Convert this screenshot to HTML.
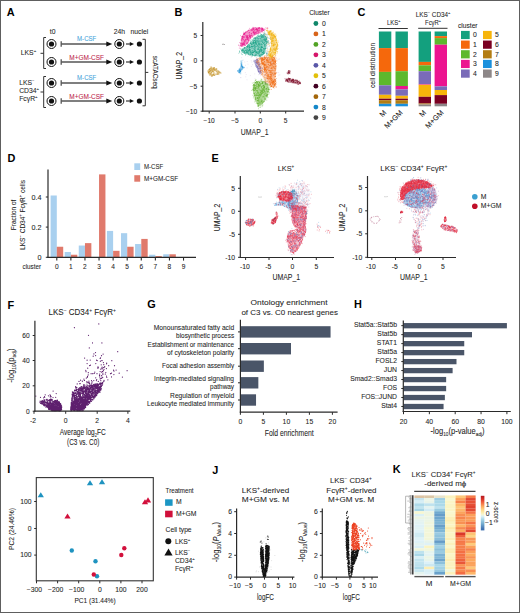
<!DOCTYPE html>
<html><head><meta charset="utf-8"><style>
html,body{margin:0;padding:0;background:#fff;}
svg{display:block;font-family:"Liberation Sans", sans-serif;}
</style></head><body>
<svg width="520" height="613" viewBox="0 0 520 613">
<rect x="0" y="0" width="520" height="613" fill="#fff"/>
<text x="6.8" y="16.3" font-size="10.9" text-anchor="start" fill="#000" font-weight="bold">A</text>
<text x="52.7" y="33.6" font-size="6.8" text-anchor="middle" fill="#1e1e1e" stroke="#1e1e1e" stroke-width="0.07">t0</text>
<text x="119.3" y="33.6" font-size="6.8" text-anchor="middle" fill="#1e1e1e" stroke="#1e1e1e" stroke-width="0.07">24h</text>
<text x="139.4" y="33.6" font-size="6.8" text-anchor="middle" fill="#1e1e1e" stroke="#1e1e1e" stroke-width="0.07">nuclei</text>
<circle cx="51.5" cy="44" r="4.5" fill="none" stroke="#111" stroke-width="1"/>
<circle cx="51.5" cy="44" r="2.6" fill="#111"/>
<circle cx="119.3" cy="44" r="4.5" fill="none" stroke="#111" stroke-width="1"/>
<circle cx="119.3" cy="44" r="2.6" fill="#111"/>
<circle cx="139.4" cy="44" r="2.6" fill="#111"/>
<line x1="61.2" y1="41.2" x2="61.2" y2="46.8" stroke="#555" stroke-width="1.3"/>
<line x1="61.2" y1="44" x2="107.5" y2="44" stroke="#555" stroke-width="1.4"/>
<path d="M106.3 41.4 L112.3 44 L106.3 46.6Z" fill="#111"/>
<line x1="126" y1="44" x2="130.5" y2="44" stroke="#333" stroke-width="1.2"/>
<path d="M129.8 42 L134 44 L129.8 46Z" fill="#111"/>
<text x="86.7" y="41.2" font-size="6.6" text-anchor="middle" fill="#48a6dc" stroke="#48a6dc" stroke-width="0.07" textLength="19.3" lengthAdjust="spacingAndGlyphs">M-CSF</text>
<circle cx="51.5" cy="62" r="4.5" fill="none" stroke="#111" stroke-width="1"/>
<circle cx="51.5" cy="62" r="2.6" fill="#111"/>
<circle cx="119.3" cy="62" r="4.5" fill="none" stroke="#111" stroke-width="1"/>
<circle cx="119.3" cy="62" r="2.6" fill="#111"/>
<circle cx="139.4" cy="62" r="2.6" fill="#111"/>
<line x1="61.2" y1="59.2" x2="61.2" y2="64.8" stroke="#555" stroke-width="1.3"/>
<line x1="61.2" y1="62" x2="107.5" y2="62" stroke="#555" stroke-width="1.4"/>
<path d="M106.3 59.4 L112.3 62 L106.3 64.6Z" fill="#111"/>
<line x1="126" y1="62" x2="130.5" y2="62" stroke="#333" stroke-width="1.2"/>
<path d="M129.8 60 L134 62 L129.8 64Z" fill="#111"/>
<text x="86.7" y="59.5" font-size="6.6" text-anchor="middle" fill="#be1f4c" stroke="#be1f4c" stroke-width="0.07" textLength="34.7" lengthAdjust="spacingAndGlyphs">M+GM-CSF</text>
<circle cx="51.5" cy="83" r="4.5" fill="none" stroke="#111" stroke-width="1"/>
<circle cx="51.5" cy="83" r="2.6" fill="#111"/>
<circle cx="119.3" cy="83" r="4.5" fill="none" stroke="#111" stroke-width="1"/>
<circle cx="119.3" cy="83" r="2.6" fill="#111"/>
<circle cx="139.4" cy="83" r="2.6" fill="#111"/>
<line x1="61.2" y1="80.2" x2="61.2" y2="85.8" stroke="#555" stroke-width="1.3"/>
<line x1="61.2" y1="83" x2="107.5" y2="83" stroke="#555" stroke-width="1.4"/>
<path d="M106.3 80.4 L112.3 83 L106.3 85.6Z" fill="#111"/>
<line x1="126" y1="83" x2="130.5" y2="83" stroke="#333" stroke-width="1.2"/>
<path d="M129.8 81 L134 83 L129.8 85Z" fill="#111"/>
<text x="86.7" y="80.2" font-size="6.6" text-anchor="middle" fill="#48a6dc" stroke="#48a6dc" stroke-width="0.07" textLength="19.3" lengthAdjust="spacingAndGlyphs">M-CSF</text>
<circle cx="51.5" cy="101" r="4.5" fill="none" stroke="#111" stroke-width="1"/>
<circle cx="51.5" cy="101" r="2.6" fill="#111"/>
<circle cx="119.3" cy="101" r="4.5" fill="none" stroke="#111" stroke-width="1"/>
<circle cx="119.3" cy="101" r="2.6" fill="#111"/>
<circle cx="139.4" cy="101" r="2.6" fill="#111"/>
<line x1="61.2" y1="98.2" x2="61.2" y2="103.8" stroke="#555" stroke-width="1.3"/>
<line x1="61.2" y1="101" x2="107.5" y2="101" stroke="#555" stroke-width="1.4"/>
<path d="M106.3 98.4 L112.3 101 L106.3 103.6Z" fill="#111"/>
<line x1="126" y1="101" x2="130.5" y2="101" stroke="#333" stroke-width="1.2"/>
<path d="M129.8 99 L134 101 L129.8 103Z" fill="#111"/>
<text x="86.7" y="98.5" font-size="6.6" text-anchor="middle" fill="#be1f4c" stroke="#be1f4c" stroke-width="0.07" textLength="34.7" lengthAdjust="spacingAndGlyphs">M+GM-CSF</text>
<path d="M46 37.5 H43.7 V68.5 H46" fill="none" stroke="#333" stroke-width="1"/>
<line x1="40.5" y1="53.3" x2="43.7" y2="53.3" stroke="#333" stroke-width="1"/>
<path d="M46 76.5 H43.7 V107.5 H46" fill="none" stroke="#333" stroke-width="1"/>
<line x1="40.5" y1="92" x2="43.7" y2="92" stroke="#333" stroke-width="1"/>
<path d="M142.5 39.3 H145.3 V105.8 H142.5" fill="none" stroke="#333" stroke-width="1"/>
<line x1="145.3" y1="72.4" x2="148.3" y2="72.4" stroke="#333" stroke-width="1"/>
<text x="153" y="72.2" font-size="6.6" text-anchor="middle" fill="#1e1e1e" stroke="#1e1e1e" stroke-width="0.07" transform="rotate(90 153 72.2)" textLength="33" lengthAdjust="spacingAndGlyphs">scATACseq</text>
<text x="20.8" y="54.6" font-size="6.8" text-anchor="start" fill="#1e1e1e" stroke="#1e1e1e" stroke-width="0.07">LKS<tspan font-size="4.22" baseline-shift="2.72">+</tspan></text>
<text x="19.2" y="85.0" font-size="6.8" text-anchor="start" fill="#1e1e1e" stroke="#1e1e1e" stroke-width="0.07">LKS<tspan font-size="4.22" baseline-shift="2.72">−</tspan></text>
<text x="19.2" y="93.0" font-size="6.8" text-anchor="start" fill="#1e1e1e" stroke="#1e1e1e" stroke-width="0.07">CD34<tspan font-size="4.22" baseline-shift="2.72">+</tspan></text>
<text x="19.2" y="100.6" font-size="6.8" text-anchor="start" fill="#1e1e1e" stroke="#1e1e1e" stroke-width="0.07">Fc&#947;R<tspan font-size="4.22" baseline-shift="2.72">+</tspan></text>
<text x="174.4" y="16.2" font-size="10.9" text-anchor="start" fill="#000" font-weight="bold">B</text>
<path d="M266.0 34.9h0M267.7 40.5h0M264.0 33.4h0M266.8 52.5h0M264.4 36.8h0M268.0 41.3h0M270.3 38.5h0M264.6 34.1h0M265.9 52.2h0M268.5 40.7h0M268.8 42.1h0M267.0 38.8h0M269.8 49.2h0M267.6 53.8h0M269.2 38.5h0M266.7 50.7h0M269.5 45.9h0M270.4 39.2h0M269.0 46.5h0M268.0 42.9h0M267.2 48.3h0M270.0 38.4h0M266.5 48.4h0M264.7 34.0h0M266.5 53.7h0M267.8 54.0h0M266.3 54.0h0M264.8 37.0h0M268.1 37.8h0M266.4 45.7h0M267.5 47.1h0M266.5 41.4h0M263.9 32.8h0M265.1 35.2h0M268.3 34.9h0M266.3 34.2h0M267.1 43.6h0M264.1 33.7h0M266.1 37.9h0M267.6 34.8h0M267.7 51.3h0M266.0 36.8h0M271.1 42.6h0M265.2 36.9h0M265.0 36.3h0M270.1 43.5h0M268.6 51.8h0M269.4 43.4h0M266.1 51.8h0M266.6 55.6h0M264.4 34.9h0M266.2 45.3h0M264.4 31.4h0M267.6 55.3h0M266.9 53.7h0M265.4 38.6h0M266.2 42.9h0M268.1 54.5h0M266.8 54.9h0M267.4 44.8h0" stroke="#9ab8d0" stroke-width="0.8" stroke-linecap="round" fill="none" stroke-opacity="0.7"/>
<path d="M266.9 35.8h0M269.2 45.5h0M267.8 51.4h0M265.4 38.2h0M269.6 44.2h0M267.9 50.8h0M270.7 42.5h0M268.3 44.1h0M267.5 49.0h0M267.0 44.9h0M267.2 55.5h0M267.9 55.5h0M265.2 55.8h0M266.6 43.7h0M267.5 39.8h0M267.8 42.5h0M268.4 44.3h0M265.6 34.4h0M266.8 54.7h0M270.0 37.7h0M268.0 49.2h0M264.1 32.5h0M268.9 42.1h0M268.5 51.8h0M267.0 39.8h0M267.8 55.1h0M265.5 34.4h0M267.6 37.2h0M264.3 35.2h0M265.9 38.9h0" stroke="#e8c060" stroke-width="0.8" stroke-linecap="round" fill="none" stroke-opacity="0.6"/>
<path d="M293.3 79.0h0M288.6 77.9h0M299.3 80.9h0M284.9 78.7h0M297.3 84.2h0M300.6 82.3h0" stroke="#78001e" stroke-width="0.7" stroke-linecap="round" fill="none" stroke-opacity="0.6"/>
<path d="M285.5 78.5 L289.0 78.3 L293.0 79.3 L297.0 80.0 L300.0 81.5 L301.2 83.5 L299.0 84.5 L295.0 83.7 L291.0 83.0 L287.0 82.2 L285.3 81.0Z" fill="#78001e" fill-opacity="0.45"/>
<path d="M289.0 78.5h0M287.4 80.5h0M294.2 82.2h0M295.3 82.5h0M298.0 82.9h0M293.3 81.6h0M286.5 79.9h0M293.2 80.7h0M292.9 82.5h0M297.5 82.1h0M287.6 79.9h0M297.1 80.2h0M286.3 80.0h0M296.0 82.6h0M296.0 80.1h0M293.5 81.2h0M285.6 81.1h0M298.3 84.3h0M292.4 80.0h0M288.7 81.9h0M287.6 81.5h0M298.3 81.5h0M299.4 82.7h0M292.5 80.2h0M287.5 80.4h0M300.0 82.7h0M291.2 80.7h0M291.0 81.0h0M289.7 78.6h0M289.3 79.9h0M293.4 79.5h0M299.4 83.3h0M296.9 81.1h0M297.3 82.3h0M289.9 78.6h0M292.8 80.4h0M295.7 80.2h0M294.2 80.7h0M288.0 79.3h0M293.2 79.7h0M292.5 79.2h0M288.4 78.9h0M290.7 78.9h0M289.1 79.9h0M297.2 80.9h0M291.9 81.5h0M291.3 80.4h0M286.3 80.0h0M293.3 82.2h0M289.6 79.8h0M291.7 81.1h0M300.5 83.6h0" stroke="#78001e" stroke-width="0.9" stroke-linecap="round" fill="none" stroke-opacity="0.85"/>
<path d="M286.8 73.0h0M290.4 71.9h0M288.3 74.0h0M290.1 73.7h0" stroke="#78001e" stroke-width="0.7" stroke-linecap="round" fill="none" stroke-opacity="0.6"/>
<path d="M288.5 70.0 L290.5 70.3 L290.0 73.5 L287.5 74.0 L287.0 72.5Z" fill="#78001e" fill-opacity="0.45"/>
<path d="M288.8 72.7h0M289.3 73.1h0M288.6 72.2h0M287.8 73.7h0M289.3 71.2h0M289.2 72.8h0M288.8 72.3h0M288.4 70.9h0" stroke="#78001e" stroke-width="0.9" stroke-linecap="round" fill="none" stroke-opacity="0.85"/>
<path d="M221.0 73.2h0M219.9 71.5h0M211.5 66.7h0M210.3 66.8h0M216.9 68.6h0M218.6 74.2h0M211.3 76.5h0M207.8 70.6h0M207.7 71.4h0M212.4 76.1h0M221.0 72.9h0M220.4 73.1h0M218.7 74.2h0M219.0 74.6h0" stroke="#c49226" stroke-width="0.7" stroke-linecap="round" fill="none" stroke-opacity="0.6"/>
<path d="M208.5 69.5 L210.5 67.5 L214.0 67.3 L216.5 69.0 L219.5 71.0 L220.4 73.0 L218.0 74.5 L215.0 75.5 L212.0 76.2 L209.0 75.0 L208.0 72.5Z" fill="#c49226" fill-opacity="0.45"/>
<path d="M212.0 70.5h0M210.4 74.0h0M211.1 67.9h0M208.4 72.2h0M212.0 76.0h0M211.3 68.0h0M209.2 71.7h0M216.8 71.3h0M210.9 71.0h0M215.7 73.3h0M215.0 70.6h0M211.1 69.5h0M209.9 75.2h0M215.2 70.2h0M214.3 69.4h0M218.0 73.1h0M213.9 74.6h0M208.5 69.9h0M209.5 69.0h0M220.1 72.5h0M218.7 71.3h0M211.2 74.2h0M215.4 72.8h0M210.7 70.6h0M209.8 69.1h0M211.2 72.6h0M216.1 69.1h0M216.4 68.9h0M211.9 69.1h0M217.9 72.2h0M212.9 72.2h0M210.0 73.5h0M213.1 69.8h0M211.8 75.8h0M211.9 72.3h0M212.4 71.0h0M212.5 69.1h0M213.3 74.6h0M213.0 75.2h0M213.7 68.7h0M208.2 72.2h0M209.1 72.8h0M212.6 71.8h0M209.8 69.8h0M214.5 75.5h0M209.3 71.7h0M210.4 68.4h0M214.0 67.8h0M219.2 72.8h0M213.0 74.8h0M210.7 70.9h0M214.4 70.7h0M209.5 69.5h0M208.5 72.3h0M215.4 72.2h0M215.8 70.0h0M213.2 72.5h0M213.3 73.2h0M213.5 71.2h0M208.3 72.8h0M214.1 69.4h0M217.5 74.2h0M213.7 68.9h0M213.9 68.3h0M209.6 71.1h0M209.1 71.2h0M214.3 67.7h0M217.1 74.2h0" stroke="#c49226" stroke-width="0.9" stroke-linecap="round" fill="none" stroke-opacity="0.85"/>
<path d="M241.0 60.9h0M240.8 73.9h0M243.9 68.1h0M242.1 60.4h0" stroke="#1d90d8" stroke-width="0.7" stroke-linecap="round" fill="none" stroke-opacity="0.6"/>
<path d="M240.5 61.3 L242.3 61.5 L242.2 65.0 L244.3 67.5 L241.0 71.0 L241.2 73.3 L239.8 73.5 L238.6 72.3 L237.4 71.4 L240.6 66.5 L240.8 64.5Z" fill="#1d90d8" fill-opacity="0.45"/>
<path d="M241.3 65.6h0M241.9 66.7h0M239.1 72.3h0M237.8 70.8h0M240.9 69.1h0M242.5 67.0h0M242.5 66.8h0M239.7 70.4h0M241.2 66.6h0M242.8 67.7h0M239.2 69.1h0M239.1 72.4h0M241.8 69.8h0M240.6 71.5h0M240.4 70.1h0M241.3 65.1h0M242.2 69.0h0M239.9 71.3h0M241.8 64.8h0M239.3 70.0h0M244.1 67.4h0M240.4 70.7h0M239.8 69.9h0M241.1 63.9h0M240.8 71.0h0M239.8 71.4h0M239.2 72.8h0M242.2 67.4h0M238.0 70.9h0" stroke="#1d90d8" stroke-width="0.9" stroke-linecap="round" fill="none" stroke-opacity="0.85"/>
<path d="M254.1 60.1h0M253.6 61.1h0M256.3 57.8h0M258.1 71.4h0M259.5 73.9h0" stroke="#7a6cb5" stroke-width="0.7" stroke-linecap="round" fill="none" stroke-opacity="0.6"/>
<path d="M253.5 61.5 L257.3 58.6 L259.2 63.3 L261.1 68.1 L261.5 74.7 L259.2 73.7 L256.3 67.1Z" fill="#7a6cb5" fill-opacity="0.45"/>
<path d="M258.5 65.2h0M259.7 64.9h0M257.8 70.1h0M257.6 68.9h0M260.1 67.0h0M256.3 59.5h0M255.7 65.0h0M256.3 62.9h0M256.6 62.0h0M260.0 68.8h0M257.3 67.6h0M260.0 71.7h0M257.2 63.3h0M257.9 60.6h0M256.5 62.7h0M256.9 61.6h0M255.7 62.5h0M255.9 66.3h0M258.8 64.4h0M260.9 72.4h0M260.7 71.2h0M258.7 62.6h0M254.3 60.9h0M256.3 61.1h0M260.7 71.3h0M258.4 71.2h0M259.8 72.1h0M257.9 62.9h0M255.4 60.8h0M257.4 59.5h0M257.2 60.9h0M257.4 66.6h0M257.2 67.7h0M258.8 72.1h0M256.5 65.3h0M258.6 68.8h0M257.6 66.4h0M259.2 68.7h0M256.4 66.2h0M256.9 67.5h0M257.5 63.0h0M258.7 71.4h0M256.1 63.7h0M258.6 71.2h0M260.6 67.4h0M260.9 68.4h0M258.8 71.3h0M260.8 68.4h0M258.4 68.7h0M259.1 68.2h0M258.8 66.0h0" stroke="#7a6cb5" stroke-width="0.9" stroke-linecap="round" fill="none" stroke-opacity="0.85"/>
<path d="M266.3 81.8h0M269.4 92.2h0M251.5 90.4h0M265.7 81.3h0M260.3 106.9h0M267.4 81.2h0M260.8 80.6h0M255.2 101.4h0M269.7 85.8h0M262.7 105.8h0M268.8 94.5h0M254.8 99.9h0M253.3 97.9h0M261.5 79.4h0M256.2 79.9h0M262.3 105.1h0M260.3 107.4h0M255.6 79.9h0M266.8 100.2h0M252.3 83.1h0M264.6 79.1h0M267.9 97.7h0M255.6 80.5h0M257.5 106.0h0M258.4 108.7h0M269.3 85.3h0M254.8 102.0h0M267.3 96.4h0M255.2 80.7h0M265.5 80.4h0M261.0 79.2h0M269.3 93.1h0M261.9 79.4h0M254.8 81.9h0M256.2 103.4h0M262.9 104.8h0M259.1 107.2h0M262.0 106.7h0M270.1 87.4h0M253.6 96.7h0M253.7 82.7h0M252.9 95.3h0M267.9 97.2h0" stroke="#62b22f" stroke-width="0.7" stroke-linecap="round" fill="none" stroke-opacity="0.6"/>
<path d="M254.5 82.3 L259.2 80.8 L263.9 80.8 L268.2 84.2 L269.4 89.8 L268.2 94.6 L265.3 100.2 L261.5 105.0 L258.2 106.4 L256.3 103.1 L254.0 96.4 L252.6 89.8 L253.0 85.1Z" fill="#62b22f" fill-opacity="0.45"/>
<path d="M256.0 99.0h0M260.3 94.8h0M262.9 92.8h0M257.8 87.0h0M256.3 93.9h0M259.0 95.8h0M252.8 89.8h0M267.1 86.9h0M262.0 93.4h0M257.6 100.6h0M255.3 82.5h0M267.2 92.1h0M253.6 90.7h0M260.0 99.6h0M254.4 86.6h0M255.2 89.4h0M258.5 98.1h0M263.0 102.6h0M266.4 94.1h0M265.0 99.8h0M265.4 93.0h0M265.8 98.9h0M268.0 84.1h0M265.5 95.8h0M262.2 91.5h0M262.8 90.5h0M260.2 92.5h0M264.7 88.3h0M259.2 95.0h0M259.1 89.0h0M261.0 92.2h0M255.7 88.6h0M255.0 95.5h0M262.4 83.1h0M268.1 89.1h0M259.8 104.1h0M262.1 93.5h0M261.3 94.0h0M264.1 90.8h0M258.6 96.0h0M258.5 105.1h0M264.0 94.2h0M254.3 90.4h0M259.3 95.2h0M262.2 103.3h0M260.0 96.8h0M269.3 89.6h0M261.5 101.7h0M255.5 88.9h0M261.2 83.6h0M267.5 91.6h0M255.2 88.2h0M261.2 93.7h0M255.8 85.5h0M263.2 96.2h0M258.5 106.2h0M263.3 81.9h0M259.5 101.0h0M257.8 98.5h0M266.7 95.8h0M263.8 85.8h0M261.0 95.0h0M257.1 97.4h0M262.3 91.3h0M254.6 84.8h0M265.4 83.5h0M254.3 85.2h0M261.4 101.9h0M262.9 101.4h0M265.5 89.1h0M264.6 89.9h0M255.4 87.6h0M262.4 89.7h0M260.2 90.7h0M260.0 96.7h0M256.8 81.9h0M257.9 103.8h0M266.3 88.6h0M260.9 105.1h0M256.7 90.8h0M264.7 86.5h0M257.8 103.2h0M260.7 101.1h0M256.7 85.2h0M258.6 85.6h0M268.9 88.2h0M262.0 83.7h0M261.6 90.7h0M259.4 82.5h0M258.5 87.1h0M255.8 88.1h0M256.6 81.7h0M263.8 89.5h0M255.2 98.9h0M254.2 87.7h0M266.6 84.1h0M260.0 102.2h0M266.1 84.9h0M258.5 99.3h0M258.9 105.3h0M261.1 86.6h0M260.2 84.2h0M264.5 87.5h0M258.8 87.1h0M262.8 86.2h0M267.3 83.9h0M261.2 94.7h0M257.1 100.6h0M259.1 97.6h0M262.1 88.8h0M259.2 83.0h0M258.0 97.8h0M254.4 95.2h0M258.7 93.6h0M257.6 82.5h0M257.8 86.6h0M257.3 91.1h0M254.8 87.9h0M263.7 89.8h0M259.5 97.7h0M264.3 87.2h0M266.8 89.8h0M263.2 85.5h0M264.9 99.0h0M255.3 85.9h0M257.7 90.5h0M253.3 88.8h0M263.3 85.4h0M266.7 95.4h0M264.6 87.3h0M259.9 98.3h0M257.4 81.9h0M266.9 96.3h0M253.4 87.1h0M265.2 83.0h0M264.3 90.9h0M257.3 83.1h0M268.5 91.7h0M263.2 92.4h0M259.8 93.9h0M257.0 94.8h0M261.7 87.2h0M253.6 90.0h0M259.5 86.0h0M257.8 84.3h0M264.5 98.0h0M256.6 87.0h0M261.3 92.2h0M268.3 89.8h0M257.6 103.4h0M255.0 95.2h0M258.2 101.7h0M261.8 100.3h0M255.4 97.9h0M262.7 92.6h0M254.5 88.2h0M258.7 86.1h0M253.6 88.0h0M255.9 98.8h0M260.1 83.7h0M258.1 92.8h0M258.7 85.1h0M254.4 93.3h0M259.9 85.7h0M261.7 81.0h0M263.6 87.2h0M256.7 84.3h0M266.7 88.4h0M255.7 97.1h0M258.1 85.5h0M266.5 89.0h0M258.8 94.9h0M258.8 102.1h0M256.6 81.9h0M262.1 96.9h0M260.9 93.6h0M255.2 88.5h0M262.4 82.9h0M264.2 85.0h0M260.0 85.7h0M265.8 91.7h0M257.4 97.7h0M261.2 91.6h0M258.3 92.0h0M263.8 101.9h0M267.8 85.0h0M257.6 92.1h0M262.1 89.7h0M255.9 83.0h0M258.0 92.6h0M264.0 96.4h0M257.6 95.4h0M263.5 88.5h0M258.4 103.5h0M253.1 85.6h0M264.0 92.3h0M258.8 95.7h0M259.6 94.4h0M262.1 90.9h0M254.5 85.4h0M267.6 94.8h0M256.9 83.2h0M261.5 87.2h0M260.8 95.0h0M256.4 95.5h0M254.5 93.9h0M262.5 82.9h0M259.5 82.7h0M260.0 102.9h0M261.8 99.1h0M265.3 83.7h0M259.2 85.2h0M265.6 84.3h0M265.6 82.3h0M256.6 90.3h0M256.2 88.5h0M264.5 91.7h0M267.3 95.2h0M255.4 99.9h0M258.3 100.3h0M254.7 90.3h0M264.7 81.9h0M262.7 83.4h0M261.8 101.4h0M263.9 87.3h0M255.8 92.2h0M266.7 95.7h0M255.7 95.0h0M257.5 98.4h0M259.0 84.5h0M267.3 94.6h0M264.2 101.5h0M258.4 84.7h0M261.0 103.2h0M264.0 90.8h0M260.6 84.9h0M266.8 90.9h0M253.9 89.2h0M262.5 81.9h0M255.5 90.0h0M260.5 95.6h0M259.1 89.9h0M258.2 81.3h0M253.4 84.5h0M263.9 87.8h0M257.2 93.6h0M257.0 95.4h0M262.0 100.5h0M263.2 97.0h0M258.7 88.0h0M257.7 100.3h0M265.0 93.8h0M263.3 89.8h0M261.9 91.2h0M253.6 89.4h0M258.0 106.1h0M260.7 90.2h0M256.7 86.8h0M258.5 84.3h0M260.2 92.2h0M262.2 88.5h0M255.4 82.5h0M257.7 88.7h0M264.8 94.9h0M268.3 89.5h0M253.9 85.4h0M258.6 100.6h0M259.8 103.0h0M253.7 93.2h0M267.7 87.9h0M255.4 87.7h0M264.4 86.4h0M259.3 85.9h0M262.7 102.9h0M263.5 85.8h0M262.7 82.8h0M258.3 84.3h0" stroke="#62b22f" stroke-width="0.9" stroke-linecap="round" fill="none" stroke-opacity="0.85"/>
<path d="M256.0 58.6 L261.0 57.5 L262.5 65.0 L264.5 71.0 L266.5 77.0 L268.5 83.0 L266.0 84.0 L262.0 76.0 L259.0 68.0 L256.5 63.0Z" fill="#f0690f" fill-opacity="0.2"/>
<path d="M260.2 70.6h0M263.7 76.7h0M260.1 60.0h0M258.0 61.3h0M262.7 73.1h0M262.9 74.9h0M264.9 77.7h0M261.7 64.9h0M261.9 74.9h0M256.3 61.1h0M257.9 62.2h0M265.2 81.9h0M258.0 58.3h0M258.8 64.2h0M258.9 62.9h0M265.5 74.5h0M265.4 79.3h0M259.5 66.3h0M263.5 69.5h0M259.7 58.1h0M257.2 62.0h0M265.0 80.9h0M261.4 60.3h0M260.4 70.7h0M259.4 62.2h0M259.3 59.3h0M261.1 72.3h0M260.5 57.8h0M264.6 74.8h0M262.8 72.0h0M261.0 65.9h0M260.8 67.7h0M261.1 61.3h0M260.7 63.9h0M258.5 60.6h0M266.5 78.3h0M264.1 72.0h0M262.6 73.7h0M263.9 71.9h0M262.5 70.1h0M258.8 61.3h0M262.5 71.5h0M261.8 74.5h0M266.3 81.2h0M257.9 64.2h0M260.6 66.5h0M260.8 58.0h0M256.7 62.2h0M260.1 63.9h0M260.6 58.7h0M261.5 67.2h0M260.8 72.8h0M260.1 59.4h0M262.6 70.7h0M261.8 69.7h0M261.5 70.5h0M264.4 77.1h0M261.0 58.6h0M264.5 72.2h0M265.6 77.9h0" stroke="#f0690f" stroke-width="0.8" stroke-linecap="round" fill="none" stroke-opacity="0.6"/>
<path d="M257.5 63.3h0M257.3 59.8h0M261.2 73.0h0M259.4 64.5h0M259.9 64.3h0M262.4 68.6h0M266.8 78.8h0M258.5 58.9h0M262.7 67.4h0M261.8 70.5h0M262.7 68.3h0M264.4 75.4h0M259.7 63.1h0M257.3 60.0h0M265.8 82.7h0M259.7 63.7h0M266.0 83.5h0M260.9 58.4h0M259.6 66.7h0M263.5 71.8h0" stroke="#7a6cb5" stroke-width="0.8" stroke-linecap="round" fill="none" stroke-opacity="0.5"/>
<path d="M275.8 55.0h0M271.1 55.7h0M264.7 56.4h0M262.1 57.3h0M262.9 68.6h0M268.1 82.8h0M275.2 56.9h0M272.0 56.1h0M275.7 54.3h0M276.1 68.9h0M266.7 57.1h0M276.5 78.5h0M274.1 88.1h0M276.5 73.3h0M276.2 58.1h0M276.6 82.7h0M276.1 84.1h0M266.6 57.0h0M265.5 75.6h0M259.7 57.9h0M276.4 67.1h0M270.3 86.6h0M276.4 72.4h0M276.9 60.8h0M267.4 81.3h0M272.7 55.1h0M276.3 86.5h0M269.7 55.6h0M265.0 55.8h0M276.2 61.1h0M261.4 63.4h0M276.5 63.6h0M273.1 55.4h0M270.9 89.2h0M276.1 81.0h0M268.3 85.0h0M275.3 86.7h0M264.3 56.3h0M263.4 57.3h0M271.4 89.5h0M271.8 56.5h0M261.9 63.9h0M261.4 62.1h0M265.3 74.7h0M267.0 56.2h0M276.5 65.9h0M276.2 87.5h0" stroke="#f0690f" stroke-width="0.7" stroke-linecap="round" fill="none" stroke-opacity="0.6"/>
<path d="M261.0 57.5 L268.0 57.0 L275.0 56.5 L276.0 62.0 L275.8 70.0 L275.5 78.0 L275.8 85.0 L274.0 87.5 L270.5 87.0 L268.5 83.0 L266.5 77.0 L264.5 71.0 L262.5 65.0 L261.0 60.0Z" fill="#f0690f" fill-opacity="0.45"/>
<path d="M271.8 78.8h0M261.9 62.9h0M271.8 76.0h0M265.0 67.5h0M275.9 66.0h0M261.7 61.9h0M273.1 70.6h0M262.5 59.8h0M274.7 81.1h0M262.9 59.9h0M269.5 72.2h0M264.1 64.3h0M271.7 85.8h0M275.7 70.0h0M272.0 68.4h0M273.2 82.6h0M273.5 80.9h0M268.0 57.8h0M274.3 73.1h0M270.4 83.9h0M268.3 76.3h0M264.1 64.0h0M274.6 68.4h0M262.9 62.7h0M267.8 74.7h0M270.5 78.4h0M267.6 58.6h0M271.9 58.2h0M268.1 68.9h0M271.1 78.6h0M271.4 71.1h0M270.0 58.4h0M264.4 68.7h0M272.8 82.0h0M270.5 79.5h0M261.6 59.4h0M275.6 81.4h0M261.6 58.0h0M275.0 76.3h0M274.8 64.7h0M272.4 59.7h0M274.3 84.9h0M269.3 82.0h0M268.5 75.7h0M269.9 81.3h0M262.2 58.2h0M269.2 65.5h0M272.2 57.2h0M273.4 81.7h0M267.9 60.3h0M270.8 62.9h0M267.4 59.9h0M275.6 73.4h0M266.3 59.4h0M272.0 82.8h0M273.7 59.6h0M266.5 65.9h0M272.4 61.1h0M272.5 56.7h0M262.1 60.0h0M271.4 75.1h0M268.8 70.6h0M267.1 75.4h0M270.7 84.9h0M272.0 81.2h0M274.7 82.5h0M271.8 57.4h0M271.2 82.8h0M267.6 78.4h0M264.8 65.8h0M266.2 66.6h0M275.0 80.1h0M273.6 87.3h0M272.3 65.0h0M264.7 69.3h0M274.3 85.0h0M272.6 84.1h0M272.9 73.0h0M266.5 73.2h0M275.5 61.5h0M269.0 76.6h0M271.3 86.5h0M262.3 63.1h0M271.3 77.9h0M272.2 79.8h0M264.7 64.5h0M264.1 64.5h0M275.5 76.4h0M269.9 76.8h0M270.0 78.0h0M265.6 58.5h0M266.4 60.9h0M263.7 59.6h0M265.5 69.2h0M271.3 70.3h0M271.9 59.4h0M275.0 67.1h0M273.5 57.5h0M273.4 63.5h0M273.8 81.4h0M271.1 65.1h0M274.6 61.4h0M270.9 74.7h0M270.9 62.1h0M263.2 59.5h0M275.7 68.4h0M270.8 74.2h0M264.3 58.5h0M264.8 67.9h0M268.8 60.0h0M265.3 68.3h0M272.5 63.4h0M263.9 63.3h0M266.8 67.8h0M270.6 71.1h0M274.0 58.1h0M271.0 82.4h0M264.5 57.4h0M267.6 60.1h0M267.9 78.6h0M262.4 60.2h0M268.2 61.9h0M264.5 70.1h0M262.8 58.6h0M266.4 71.0h0M275.0 73.7h0M262.1 63.4h0M272.2 73.9h0M274.1 86.3h0M273.9 59.9h0M275.2 72.8h0M264.6 61.8h0M274.0 63.1h0M274.9 70.8h0M272.0 58.8h0M267.8 66.4h0M266.4 60.2h0M270.8 72.5h0M272.1 73.2h0M270.1 76.7h0M275.2 79.5h0M273.9 67.9h0M274.5 62.1h0M274.5 59.0h0M264.3 57.6h0M267.6 60.9h0M267.0 77.6h0M270.3 63.2h0M273.5 62.8h0M265.8 69.1h0M264.9 70.6h0M269.4 78.6h0M263.1 64.0h0M263.2 60.7h0M268.8 74.5h0M274.3 58.3h0M264.5 61.7h0M269.8 70.5h0M270.9 83.2h0M275.4 64.8h0M275.1 69.1h0M265.3 65.5h0M275.5 83.5h0M267.3 72.9h0M273.7 81.5h0M270.8 72.4h0M262.7 64.1h0M270.9 74.7h0M273.0 84.4h0M275.4 62.5h0M269.6 62.1h0M271.4 64.4h0M264.5 67.9h0M268.9 77.5h0M270.4 71.1h0M271.1 81.3h0M271.2 78.5h0M270.7 62.1h0M275.4 80.9h0M264.5 69.8h0M275.4 62.9h0M274.5 63.7h0M272.0 67.7h0M271.0 80.3h0M262.9 63.4h0M264.2 64.7h0M261.5 60.7h0M267.1 69.5h0M275.1 74.4h0M267.6 61.9h0M268.2 57.0h0M271.1 61.5h0M272.5 82.4h0M270.6 76.2h0M271.6 86.5h0M265.5 64.4h0M273.3 75.1h0M273.7 83.6h0M269.8 62.6h0M271.9 64.9h0M275.5 61.1h0M266.0 72.7h0M265.8 69.4h0M268.2 64.5h0M261.8 59.1h0M263.4 59.3h0M270.4 78.1h0M271.9 67.1h0M268.4 62.3h0M274.9 73.9h0M261.8 61.3h0M271.4 68.4h0M271.8 63.6h0M273.0 81.4h0M273.1 81.0h0M264.5 59.4h0M271.0 74.0h0M263.1 62.5h0M269.7 59.8h0M270.5 64.0h0M264.9 69.6h0M269.0 79.0h0M264.3 65.5h0M270.6 77.9h0M270.2 84.5h0M264.1 66.1h0M270.9 64.6h0M263.4 63.5h0M272.6 82.1h0M271.7 86.2h0M272.9 66.1h0M262.3 58.0h0M268.7 61.2h0M275.0 83.7h0M267.9 62.6h0M268.8 67.7h0M271.7 72.9h0M272.6 59.8h0M268.3 64.3h0M271.0 63.4h0M265.8 71.3h0M271.7 80.4h0M266.6 70.4h0M274.9 85.5h0M270.3 59.8h0M267.8 76.2h0M265.2 57.7h0M275.7 84.7h0M270.3 65.8h0M272.6 70.1h0M272.5 60.7h0M262.6 58.7h0M273.5 61.7h0M267.4 67.0h0M262.8 64.0h0M275.6 60.1h0M274.4 84.5h0M270.1 65.4h0M268.0 78.7h0M272.0 60.5h0M266.1 64.2h0M264.8 71.0h0M273.8 66.5h0M266.1 62.3h0M273.9 74.3h0M270.1 84.4h0M275.3 66.6h0M273.7 81.9h0M265.0 67.8h0M266.6 67.4h0M266.7 59.9h0M267.2 76.2h0M274.3 79.9h0M273.1 87.2h0M271.9 79.9h0M273.2 64.3h0M270.8 68.3h0M273.6 60.6h0M269.1 66.9h0M273.3 67.2h0M273.7 82.8h0M274.2 60.8h0M275.1 79.6h0M271.2 76.7h0M269.2 70.6h0M272.7 83.5h0M264.2 67.1h0M264.7 59.6h0M265.9 57.3h0" stroke="#f0690f" stroke-width="0.9" stroke-linecap="round" fill="none" stroke-opacity="0.85"/>
<path d="M276.2 35.2h0M275.4 34.3h0M277.7 51.6h0M273.1 31.3h0M271.1 30.8h0M275.7 55.9h0M270.1 57.7h0M267.9 28.6h0M272.2 58.0h0M272.9 32.5h0M271.6 30.8h0M273.5 57.1h0M278.3 42.2h0M266.2 30.1h0M271.2 59.3h0M271.9 58.4h0M273.3 32.5h0M267.4 30.2h0M277.0 51.4h0M278.0 40.8h0M277.0 53.4h0M269.8 58.4h0M278.1 48.5h0M270.5 47.5h0M276.1 36.3h0M270.1 57.4h0M272.8 57.7h0M275.5 55.6h0M277.3 52.2h0M266.8 28.5h0M270.1 59.5h0M274.9 33.5h0M277.9 46.0h0" stroke="#f2b20a" stroke-width="0.7" stroke-linecap="round" fill="none" stroke-opacity="0.6"/>
<path d="M266.1 30.2 L270.5 30.6 L274.0 33.7 L276.7 38.2 L278.0 44.4 L277.2 50.5 L274.9 55.0 L271.4 57.6 L267.9 55.9 L269.6 50.5 L271.4 44.4 L270.5 38.2 L267.9 33.7Z" fill="#f2b20a" fill-opacity="0.45"/>
<path d="M271.0 56.5h0M273.4 38.9h0M270.6 37.6h0M275.5 52.7h0M269.9 51.0h0M271.9 37.7h0M272.9 55.1h0M273.1 41.9h0M269.4 33.3h0M276.5 42.3h0M274.7 37.2h0M274.8 48.0h0M274.7 36.1h0M273.9 37.8h0M270.5 55.4h0M271.2 45.9h0M275.7 51.0h0M271.5 53.9h0M270.9 56.2h0M271.7 33.4h0M277.9 45.0h0M273.7 40.5h0M269.1 52.5h0M271.6 43.1h0M274.7 50.2h0M270.2 55.8h0M268.3 33.9h0M270.1 34.7h0M277.2 43.2h0M275.5 37.1h0M276.9 47.0h0M273.6 44.8h0M276.3 42.4h0M275.7 48.9h0M275.0 36.6h0M271.6 52.7h0M272.7 41.3h0M268.1 34.0h0M271.7 43.7h0M272.7 51.1h0M273.1 34.6h0M276.6 40.3h0M272.6 38.8h0M273.6 45.6h0M277.4 49.0h0M270.4 56.2h0M273.6 45.1h0M276.4 48.6h0M269.7 56.8h0M266.9 30.5h0M272.7 35.8h0M272.1 33.4h0M276.1 48.5h0M271.0 54.9h0M273.1 52.8h0M269.3 54.3h0M272.2 39.1h0M269.3 34.3h0M270.4 48.3h0M273.9 34.6h0M274.7 45.3h0M270.4 54.9h0M269.1 34.1h0M273.1 52.1h0M272.9 45.6h0M271.1 36.7h0M275.1 36.8h0M270.7 39.4h0M275.2 36.3h0M274.1 53.1h0M271.5 44.0h0M277.1 46.8h0M268.3 32.1h0M271.1 38.7h0M272.2 55.9h0M269.0 34.4h0M276.9 49.5h0M271.2 34.7h0M276.2 48.0h0M270.1 33.0h0M274.9 49.8h0M272.2 34.8h0M274.1 42.1h0M268.5 32.6h0M274.1 36.3h0M270.9 49.1h0M271.2 34.5h0M271.9 35.5h0M274.1 43.8h0M275.7 38.2h0M271.7 34.1h0M271.9 33.7h0M274.3 49.3h0M269.9 31.7h0M273.0 50.0h0M270.2 49.3h0M270.5 49.7h0M276.4 47.6h0M270.6 48.6h0M270.3 54.2h0M276.4 46.3h0M277.4 45.7h0M271.8 39.4h0M273.1 36.3h0M272.1 41.7h0M274.0 35.3h0M272.4 37.8h0M275.3 49.5h0M275.4 44.4h0M269.1 55.6h0M272.2 40.5h0M274.5 52.6h0M271.8 50.2h0M270.4 50.9h0M274.8 35.9h0M273.9 48.7h0M273.7 49.2h0M269.3 31.9h0M270.4 31.1h0M277.5 44.6h0M270.1 33.2h0M275.6 50.4h0M271.9 40.3h0M274.6 54.7h0M271.3 41.7h0M269.4 55.5h0M276.2 39.3h0M271.2 35.5h0M275.3 40.5h0M271.3 41.1h0M273.2 37.2h0M270.5 51.1h0M273.5 35.4h0M273.4 38.2h0M273.1 45.9h0M269.9 31.2h0M273.3 44.2h0M270.4 54.9h0M269.0 53.7h0M270.6 31.2h0M275.6 52.4h0M269.3 51.5h0M271.8 57.2h0M275.4 53.3h0M272.6 40.8h0M271.3 57.4h0M272.1 38.1h0M274.5 44.3h0M272.2 43.7h0M270.5 53.8h0M268.6 54.2h0M273.4 45.6h0M269.5 32.5h0" stroke="#f2b20a" stroke-width="0.9" stroke-linecap="round" fill="none" stroke-opacity="0.85"/>
<path d="M267.7 41.8h0M249.0 43.1h0M267.7 41.6h0M258.3 35.6h0M258.5 34.8h0M257.7 35.2h0M268.7 43.7h0M266.8 53.6h0M267.7 41.8h0M239.5 52.1h0M238.8 53.3h0M246.4 54.2h0M257.7 35.3h0M267.6 37.0h0M245.4 55.1h0M244.3 47.4h0M240.7 49.2h0M241.8 54.4h0M265.1 33.3h0M253.6 38.6h0M247.8 44.3h0M239.8 52.2h0M251.2 56.9h0M250.6 40.3h0M265.0 34.1h0M249.9 55.5h0M239.5 51.3h0M268.1 42.2h0M268.1 40.5h0M252.2 56.4h0M260.3 33.6h0M266.8 34.8h0M264.2 33.2h0M261.2 34.5h0M267.4 42.9h0M252.0 39.5h0M241.3 53.4h0M253.8 38.1h0M267.8 42.4h0M245.5 54.6h0M248.7 54.7h0M267.9 38.0h0M268.1 41.9h0M242.5 54.6h0M239.4 51.0h0M266.7 53.7h0M260.2 56.9h0M267.2 52.8h0" stroke="#17a085" stroke-width="0.7" stroke-linecap="round" fill="none" stroke-opacity="0.6"/>
<path d="M241.3 48.8 L246.0 46.8 L249.5 43.5 L252.0 40.0 L255.0 37.5 L259.0 35.5 L263.4 34.0 L266.5 37.0 L267.0 41.0 L266.5 47.0 L265.2 53.2 L260.8 56.7 L253.7 55.9 L246.6 54.1 L241.3 52.3Z" fill="#17a085" fill-opacity="0.45"/>
<path d="M252.8 52.0h0M257.5 37.9h0M266.3 38.0h0M251.9 53.3h0M261.3 47.3h0M253.9 43.0h0M257.9 45.5h0M249.6 47.8h0M252.2 53.0h0M259.2 55.9h0M262.8 47.3h0M255.2 42.5h0M253.9 43.2h0M243.9 50.6h0M261.9 47.6h0M244.3 47.6h0M260.8 35.0h0M263.9 49.1h0M262.5 54.3h0M247.7 47.1h0M260.9 48.0h0M249.8 46.3h0M265.2 46.9h0M264.8 46.8h0M253.1 46.5h0M260.0 56.0h0M257.3 44.9h0M257.6 46.1h0M259.4 55.5h0M263.8 35.4h0M261.6 34.7h0M258.0 52.2h0M247.1 50.0h0M254.9 47.7h0M249.7 47.3h0M265.8 39.6h0M254.6 42.8h0M250.2 52.2h0M261.2 55.2h0M254.0 55.3h0M245.5 53.1h0M251.5 46.4h0M259.3 47.2h0M244.4 52.2h0M262.4 52.6h0M262.1 39.2h0M262.5 36.2h0M261.0 51.6h0M257.6 52.9h0M266.6 41.4h0M262.7 54.9h0M249.4 49.5h0M258.9 53.3h0M255.9 40.3h0M247.8 46.3h0M264.2 39.5h0M259.2 49.3h0M244.4 51.7h0M261.0 41.0h0M261.1 44.6h0M262.3 37.6h0M263.9 37.7h0M243.2 51.1h0M243.6 49.2h0M258.4 53.8h0M251.8 44.2h0M247.5 51.9h0M259.7 51.8h0M255.0 49.9h0M260.3 38.9h0M263.5 48.5h0M253.7 42.6h0M252.9 46.9h0M263.5 39.8h0M254.2 51.4h0M251.1 53.1h0M264.2 42.5h0M244.5 48.4h0M260.3 55.0h0M258.3 41.0h0M254.5 40.5h0M252.8 44.6h0M265.1 44.9h0M266.1 37.2h0M265.0 48.5h0M263.7 43.4h0M263.1 52.6h0M250.9 52.8h0M246.8 51.1h0M253.3 43.3h0M246.4 52.2h0M260.1 36.0h0M266.4 39.0h0M250.9 43.4h0M256.1 54.2h0M265.6 48.4h0M256.3 44.2h0M266.5 43.4h0M250.3 43.5h0M256.5 46.3h0M249.4 45.2h0M255.8 38.7h0M250.2 51.8h0M264.2 39.4h0M261.4 44.0h0M255.1 46.1h0M258.5 49.6h0M251.1 54.9h0M262.4 40.9h0M258.1 39.1h0M242.2 50.7h0M257.4 40.3h0M262.3 44.3h0M259.7 41.9h0M262.0 47.5h0M258.1 42.9h0M255.7 38.3h0M255.0 48.5h0M247.2 53.1h0M263.6 51.8h0M259.8 40.8h0M247.3 50.0h0M249.0 50.4h0M250.3 51.3h0M256.0 52.5h0M266.6 42.6h0M263.8 34.7h0M255.3 42.8h0M261.1 41.2h0M246.7 51.8h0M255.4 51.2h0M261.1 39.0h0M248.0 49.1h0M260.9 48.4h0M252.7 50.6h0M258.5 38.7h0M255.1 47.6h0M260.0 38.5h0M260.0 47.1h0M245.7 50.6h0M244.3 51.1h0M247.8 45.7h0M248.2 54.1h0M265.4 40.4h0M260.6 49.8h0M255.7 39.8h0M252.4 54.4h0M264.4 40.2h0M256.2 44.1h0M249.1 45.9h0M261.2 50.4h0M250.1 54.8h0M261.6 46.8h0M253.5 41.5h0M242.2 49.9h0M247.4 46.2h0M262.7 42.0h0M254.1 49.1h0M246.2 48.2h0M246.1 50.1h0M254.9 38.0h0M261.7 36.2h0M257.3 53.5h0M261.0 44.7h0M265.3 41.7h0M264.2 38.5h0M255.3 55.4h0M244.3 53.3h0M261.2 51.0h0M261.4 50.4h0M249.5 49.5h0M251.9 51.0h0M251.2 52.2h0M253.4 52.4h0M249.0 46.4h0M258.7 43.6h0M259.4 50.5h0M265.0 44.0h0M256.6 52.5h0M265.0 40.1h0M264.4 49.1h0M256.3 37.0h0M262.9 50.6h0M242.4 49.8h0M254.0 45.2h0M261.9 37.0h0M263.8 43.5h0M253.1 48.7h0M255.9 54.2h0M254.4 45.6h0M266.7 38.9h0M265.0 45.0h0M263.9 49.8h0M260.1 51.2h0M249.1 50.6h0M246.6 46.6h0M256.6 51.6h0M262.5 52.3h0M259.9 50.9h0M258.0 51.7h0M254.6 46.8h0M265.0 48.7h0M258.2 47.4h0M254.0 51.2h0M252.2 43.6h0M252.4 46.7h0M250.6 42.9h0M252.3 42.4h0M241.7 50.4h0M251.5 44.2h0M256.5 42.3h0M248.6 44.6h0M264.2 53.0h0M259.2 52.1h0M253.4 42.8h0M247.3 52.1h0M263.5 53.5h0M242.9 50.6h0M243.1 52.4h0M258.4 44.7h0M256.4 43.6h0M260.1 36.8h0M256.0 41.4h0M252.6 52.5h0M246.0 50.3h0M265.8 41.4h0M251.8 48.1h0M257.7 41.8h0M255.7 37.9h0M249.2 48.0h0M264.4 45.7h0M247.8 47.3h0M248.4 51.8h0M252.6 54.6h0M260.8 43.2h0M253.5 43.0h0M261.2 54.5h0M252.2 54.9h0M254.8 49.5h0M250.5 49.9h0M253.1 46.0h0M249.9 49.5h0M259.6 43.8h0M246.7 52.7h0M255.4 41.4h0M261.6 51.9h0M259.2 54.1h0M258.1 36.6h0M247.9 46.0h0M262.4 47.3h0M266.5 39.8h0M263.1 36.7h0M258.1 42.1h0M264.1 40.7h0M257.8 49.5h0M252.5 55.1h0M257.5 48.9h0M254.4 38.1h0M263.8 36.5h0M254.5 44.8h0M255.5 50.5h0M264.3 44.6h0M245.0 47.7h0M261.4 36.9h0M248.9 53.3h0M259.0 36.5h0M258.9 52.0h0M258.2 41.2h0M251.2 46.5h0M255.5 43.2h0M261.9 36.0h0M261.0 46.2h0M261.5 47.0h0M259.4 52.1h0M261.8 54.0h0M260.9 49.7h0M250.8 41.8h0M245.2 52.9h0M253.1 52.4h0M254.5 50.9h0M264.0 42.0h0M259.1 43.2h0M263.4 51.3h0M255.6 42.2h0M248.3 54.1h0M261.9 40.9h0M262.1 46.0h0M255.5 46.2h0M251.8 46.7h0M258.6 48.5h0M262.0 49.7h0M261.3 37.5h0M255.0 51.5h0M264.4 51.0h0M251.5 44.9h0M261.4 49.4h0M249.1 50.6h0M253.8 52.1h0M250.7 54.0h0M258.9 44.2h0M255.8 52.3h0M254.9 55.8h0M259.7 45.1h0M263.1 37.4h0M250.0 50.2h0M262.5 42.5h0M264.7 53.0h0M255.7 44.1h0M249.2 47.7h0M262.5 35.7h0M265.9 39.0h0M254.9 40.8h0M258.6 46.7h0M256.7 40.8h0M260.2 49.6h0M259.7 44.7h0M253.2 40.5h0M257.1 38.2h0M263.4 54.0h0M263.2 52.5h0M248.3 50.7h0M250.3 47.6h0M244.2 53.2h0M250.0 54.6h0M256.4 52.7h0M260.1 56.3h0M265.4 36.4h0M255.0 55.7h0M265.6 40.0h0M255.7 42.2h0M256.1 55.2h0M247.9 52.6h0" stroke="#17a085" stroke-width="0.9" stroke-linecap="round" fill="none" stroke-opacity="0.85"/>
<path d="M265.8 27.8h0M240.2 48.4h0M267.1 28.0h0M239.7 42.5h0M243.4 32.2h0M253.5 27.5h0M238.8 45.2h0M238.7 45.2h0M240.5 43.7h0M249.6 28.4h0M262.2 32.2h0M252.7 27.8h0M247.8 43.1h0M239.3 48.0h0M240.2 43.1h0M249.4 40.8h0M267.6 28.8h0M240.5 35.6h0M253.1 27.3h0M252.2 28.6h0M239.7 46.0h0M267.7 27.7h0" stroke="#e8198b" stroke-width="0.7" stroke-linecap="round" fill="none" stroke-opacity="0.6"/>
<path d="M240.3 45.2 L241.5 36.5 L244.3 32.5 L249.5 29.6 L255.3 27.6 L261.1 27.6 L265.7 29.0 L265.1 30.2 L261.1 32.5 L257.0 34.2 L253.0 36.5 L250.7 38.8 L248.4 42.3 L245.5 45.8 L240.9 46.9Z" fill="#e8198b" fill-opacity="0.45"/>
<path d="M263.3 30.3h0M243.0 36.4h0M245.0 33.0h0M255.8 29.4h0M258.5 28.3h0M242.8 38.8h0M251.6 33.9h0M243.5 42.9h0M243.6 39.4h0M243.1 42.9h0M255.8 27.7h0M256.9 29.1h0M255.1 32.2h0M249.7 36.0h0M256.5 31.1h0M255.1 33.8h0M248.3 39.2h0M256.3 33.2h0M246.8 37.4h0M253.8 31.9h0M249.3 32.5h0M242.1 39.8h0M240.9 44.1h0M244.4 34.6h0M255.2 29.6h0M245.8 32.6h0M241.1 40.0h0M247.4 36.6h0M245.3 39.6h0M244.5 41.2h0M242.5 36.5h0M244.0 44.3h0M258.2 27.7h0M241.9 38.4h0M262.6 29.6h0M254.9 31.1h0M248.7 30.5h0M242.2 44.4h0M252.8 29.2h0M258.2 30.9h0M248.6 40.4h0M247.3 35.7h0M258.5 32.0h0M244.3 36.9h0M257.0 28.9h0M247.1 42.5h0M260.0 28.5h0M253.6 31.1h0M258.0 30.1h0M250.1 38.3h0M244.3 44.1h0M247.5 43.1h0M259.1 32.8h0M246.8 35.5h0M262.6 28.9h0M246.9 31.9h0M253.4 29.6h0M241.6 43.9h0M262.0 28.9h0M250.2 35.8h0M256.9 29.0h0M242.2 44.9h0M249.5 36.7h0M256.4 28.8h0M244.3 42.3h0M244.8 34.1h0M242.3 45.9h0M249.4 35.1h0M247.3 37.7h0M252.5 30.3h0M244.0 37.4h0M241.8 45.6h0M243.8 44.7h0M241.4 40.1h0M251.4 35.7h0M250.5 37.7h0M254.2 34.4h0M258.6 28.4h0M251.3 33.7h0M253.8 33.0h0M258.3 33.2h0M251.2 29.3h0M244.0 40.8h0M255.0 32.5h0M256.5 29.3h0M249.8 34.8h0M253.3 32.5h0M261.6 28.1h0M251.1 30.4h0M254.2 32.9h0M243.4 44.4h0M247.8 38.7h0M245.6 40.1h0M254.4 33.9h0M242.3 37.0h0M246.2 39.8h0M243.2 36.7h0M253.1 28.4h0M249.1 33.1h0M245.1 45.6h0M259.0 30.7h0M254.7 27.9h0M262.1 28.4h0M245.8 35.4h0M242.2 38.8h0M245.9 41.1h0M244.7 40.9h0M262.5 28.2h0M242.8 43.9h0M242.5 44.6h0M252.0 35.5h0M257.8 29.8h0M242.6 38.0h0M245.0 42.1h0M262.1 31.2h0M248.8 37.5h0M250.3 35.7h0M246.0 36.9h0M247.6 38.1h0M244.2 44.0h0M253.4 28.4h0M247.2 37.5h0M244.7 33.5h0M246.2 39.1h0M243.2 37.6h0M256.8 29.3h0M254.2 33.6h0M247.5 36.6h0M247.4 39.5h0M249.8 36.8h0M244.6 43.8h0M244.4 33.6h0M241.3 46.0h0M259.7 30.7h0M259.4 27.7h0M243.4 34.5h0M242.4 36.7h0M261.7 30.9h0M244.6 33.8h0M255.9 33.9h0M261.3 29.3h0M256.4 32.2h0M243.9 33.4h0M259.4 27.9h0M252.4 36.8h0M259.3 29.0h0M253.3 32.6h0M255.3 32.6h0M245.5 32.1h0M247.1 38.3h0M240.5 45.6h0M256.3 29.8h0M257.3 33.2h0M242.1 43.4h0M262.7 29.0h0M250.5 37.2h0M253.2 31.8h0M246.9 43.9h0M252.2 29.1h0M246.8 43.5h0M241.1 43.0h0M249.7 36.3h0M257.6 29.7h0M243.0 43.5h0M257.5 31.3h0M253.7 29.1h0M248.9 30.1h0M248.6 41.9h0M254.6 30.2h0M246.4 36.8h0M251.7 30.2h0M262.9 30.1h0M248.3 38.1h0M248.2 35.7h0M248.3 40.2h0M261.9 29.7h0M241.9 36.8h0M247.1 39.3h0M250.4 36.4h0M247.3 31.2h0M243.2 44.0h0M263.7 30.0h0M246.7 36.7h0M257.6 30.6h0M243.4 34.0h0" stroke="#e8198b" stroke-width="0.9" stroke-linecap="round" fill="none" stroke-opacity="0.85"/>
<path d="M222.5 44.3h0M223.5 44.2h0M224.6 44.5h0" stroke="#868282" stroke-width="0.8" stroke-linecap="round" fill="none"/>
<path d="M212.8 73.4h0M215.8 73.5h0M215.2 71.6h0M212.7 72.8h0M212.9 72.9h0M215.3 71.3h0M214.4 71.3h0M216.1 72.8h0M215.3 72.7h0M215.7 72.4h0M214.9 72.3h0M215.6 72.4h0" stroke="#ffffff" stroke-width="1.0" stroke-linecap="round" fill="none"/>
<path d="M213.5 72.4h0M214.6 73.6h0M215.5 71.3h0M214.5 72.6h0M214.8 72.2h0" stroke="#f0e0b0" stroke-width="0.8" stroke-linecap="round" fill="none"/>
<path d="M260.4 73.6h0M275.2 68.9h0M271.4 73.4h0M244.8 62.0h0M252.5 64.6h0M259.6 63.0h0M279.9 74.8h0M254.8 73.9h0M277.0 59.3h0M265.2 80.9h0M255.0 78.7h0M272.1 63.6h0M245.8 76.8h0M256.6 64.5h0M258.6 74.7h0M275.8 79.7h0M270.7 59.7h0M254.8 55.2h0M248.0 64.2h0M247.1 67.9h0M245.3 72.6h0M256.4 61.7h0M267.4 63.9h0M241.0 77.6h0M270.2 78.7h0M251.8 62.1h0M267.9 59.0h0M278.7 72.6h0M261.9 56.4h0M251.3 66.4h0M279.2 58.9h0M263.7 57.1h0M278.8 75.2h0M272.5 75.2h0M247.2 61.5h0M241.6 69.9h0M243.2 60.1h0M247.0 79.8h0M271.6 62.7h0M278.8 59.3h0M245.6 65.3h0M272.2 57.7h0M271.6 69.7h0M271.9 64.1h0M241.7 57.7h0M268.9 68.7h0M270.6 60.4h0M251.2 60.7h0M274.0 74.0h0M246.2 74.6h0M241.6 67.6h0M250.3 75.6h0M268.7 73.5h0M247.9 56.2h0M265.6 73.8h0M240.4 77.6h0M275.9 64.8h0M260.8 72.6h0M277.0 72.5h0M260.6 75.8h0" stroke="#c9b6dc" stroke-width="0.6" stroke-linecap="round" fill="none" stroke-opacity="0.7"/>
<line x1="202.8" y1="22" x2="202.8" y2="111.8" stroke="#2a2a2a" stroke-width="1.2"/>
<line x1="202.2" y1="111.2" x2="304" y2="111.2" stroke="#2a2a2a" stroke-width="1.2"/>
<line x1="200.6" y1="35.5" x2="202.8" y2="35.5" stroke="#2a2a2a" stroke-width="1"/>
<text x="197.2" y="37.8" font-size="6.6" text-anchor="end" fill="#1e1e1e" stroke="#1e1e1e" stroke-width="0.07">5</text>
<line x1="200.6" y1="60.8" x2="202.8" y2="60.8" stroke="#2a2a2a" stroke-width="1"/>
<text x="197.2" y="63.099999999999994" font-size="6.6" text-anchor="end" fill="#1e1e1e" stroke="#1e1e1e" stroke-width="0.07">0</text>
<line x1="200.6" y1="86.2" x2="202.8" y2="86.2" stroke="#2a2a2a" stroke-width="1"/>
<text x="197.2" y="88.5" font-size="6.6" text-anchor="end" fill="#1e1e1e" stroke="#1e1e1e" stroke-width="0.07">−5</text>
<line x1="200.6" y1="111.2" x2="202.8" y2="111.2" stroke="#2a2a2a" stroke-width="1"/>
<text x="197.2" y="113.5" font-size="6.6" text-anchor="end" fill="#1e1e1e" stroke="#1e1e1e" stroke-width="0.07">−10</text>
<line x1="209.2" y1="111.2" x2="209.2" y2="113.5" stroke="#2a2a2a" stroke-width="1"/>
<text x="209.2" y="123.2" font-size="6.6" text-anchor="middle" fill="#1e1e1e" stroke="#1e1e1e" stroke-width="0.07">−10</text>
<line x1="235" y1="111.2" x2="235" y2="113.5" stroke="#2a2a2a" stroke-width="1"/>
<text x="235" y="123.2" font-size="6.6" text-anchor="middle" fill="#1e1e1e" stroke="#1e1e1e" stroke-width="0.07">−5</text>
<line x1="260.3" y1="111.2" x2="260.3" y2="113.5" stroke="#2a2a2a" stroke-width="1"/>
<text x="260.3" y="123.2" font-size="6.6" text-anchor="middle" fill="#1e1e1e" stroke="#1e1e1e" stroke-width="0.07">0</text>
<line x1="285.7" y1="111.2" x2="285.7" y2="113.5" stroke="#2a2a2a" stroke-width="1"/>
<text x="285.7" y="123.2" font-size="6.6" text-anchor="middle" fill="#1e1e1e" stroke="#1e1e1e" stroke-width="0.07">5</text>
<text x="254.7" y="135.2" font-size="8.6" text-anchor="middle" fill="#1e1e1e" stroke="#1e1e1e" stroke-width="0.07" textLength="27.7" lengthAdjust="spacingAndGlyphs">UMAP_1</text>
<text x="181.8" y="65.8" font-size="8.6" text-anchor="middle" fill="#1e1e1e" stroke="#1e1e1e" stroke-width="0.07" transform="rotate(-90 181.8 65.8)" textLength="27.6" lengthAdjust="spacingAndGlyphs">UMAP_2</text>
<text x="309.2" y="14.9" font-size="6.8" text-anchor="start" fill="#1e1e1e" stroke="#1e1e1e" stroke-width="0.07" textLength="20.4" lengthAdjust="spacingAndGlyphs">Cluster</text>
<circle cx="315.9" cy="23.5" r="2.4" fill="#10876a"/>
<text x="322" y="25.9" font-size="6.8" text-anchor="start" fill="#1e1e1e" stroke="#1e1e1e" stroke-width="0.07">0</text>
<circle cx="315.9" cy="33.95" r="2.4" fill="#d8641a"/>
<text x="322" y="36.35" font-size="6.8" text-anchor="start" fill="#1e1e1e" stroke="#1e1e1e" stroke-width="0.07">1</text>
<circle cx="315.9" cy="44.4" r="2.4" fill="#52a325"/>
<text x="322" y="46.8" font-size="6.8" text-anchor="start" fill="#1e1e1e" stroke="#1e1e1e" stroke-width="0.07">2</text>
<circle cx="315.9" cy="54.849999999999994" r="2.4" fill="#d6166a"/>
<text x="322" y="57.24999999999999" font-size="6.8" text-anchor="start" fill="#1e1e1e" stroke="#1e1e1e" stroke-width="0.07">3</text>
<circle cx="315.9" cy="65.3" r="2.4" fill="#5a57a8"/>
<text x="322" y="67.7" font-size="6.8" text-anchor="start" fill="#1e1e1e" stroke="#1e1e1e" stroke-width="0.07">4</text>
<circle cx="315.9" cy="75.75" r="2.4" fill="#e2c00a"/>
<text x="322" y="78.15" font-size="6.8" text-anchor="start" fill="#1e1e1e" stroke="#1e1e1e" stroke-width="0.07">5</text>
<circle cx="315.9" cy="86.19999999999999" r="2.4" fill="#420022"/>
<text x="322" y="88.6" font-size="6.8" text-anchor="start" fill="#1e1e1e" stroke="#1e1e1e" stroke-width="0.07">6</text>
<circle cx="315.9" cy="96.64999999999999" r="2.4" fill="#a3660a"/>
<text x="322" y="99.05" font-size="6.8" text-anchor="start" fill="#1e1e1e" stroke="#1e1e1e" stroke-width="0.07">7</text>
<circle cx="315.9" cy="107.1" r="2.4" fill="#1487c8"/>
<text x="322" y="109.5" font-size="6.8" text-anchor="start" fill="#1e1e1e" stroke="#1e1e1e" stroke-width="0.07">8</text>
<circle cx="315.9" cy="117.55" r="2.4" fill="#454545"/>
<text x="322" y="119.95" font-size="6.8" text-anchor="start" fill="#1e1e1e" stroke="#1e1e1e" stroke-width="0.07">9</text>
<text x="357.4" y="16.3" font-size="10.9" text-anchor="start" fill="#000" font-weight="bold">C</text>
<rect x="378.9" y="31.5" width="12.4" height="16.6" fill="#13a07e"/>
<rect x="378.9" y="48.1" width="12.4" height="23.800000000000004" fill="#f5680c"/>
<rect x="378.9" y="71.9" width="12.4" height="13.399999999999991" fill="#5db82d"/>
<rect x="378.9" y="85.3" width="12.4" height="9.5" fill="#7a6bb8"/>
<rect x="378.9" y="94.8" width="12.4" height="3.9000000000000057" fill="#f7b50a"/>
<rect x="378.9" y="98.7" width="12.4" height="1.5" fill="#7a0022"/>
<rect x="378.9" y="100.2" width="12.4" height="3.5999999999999943" fill="#b37d13"/>
<rect x="378.9" y="103.8" width="12.4" height="2.5" fill="#1a90dd"/>
<rect x="395.5" y="31.5" width="12.4" height="16.6" fill="#13a07e"/>
<rect x="395.5" y="48.1" width="12.4" height="23.1" fill="#f5680c"/>
<rect x="395.5" y="71.2" width="12.4" height="14.799999999999997" fill="#5db82d"/>
<rect x="395.5" y="86.0" width="12.4" height="3.4000000000000057" fill="#ec1490"/>
<rect x="395.5" y="89.4" width="12.4" height="6.3999999999999915" fill="#7a6bb8"/>
<rect x="395.5" y="95.8" width="12.4" height="2.9000000000000057" fill="#f7b50a"/>
<rect x="395.5" y="98.7" width="12.4" height="1.5" fill="#7a0022"/>
<rect x="395.5" y="100.2" width="12.4" height="3.5999999999999943" fill="#b37d13"/>
<rect x="395.5" y="103.8" width="12.4" height="2.5" fill="#1a90dd"/>
<rect x="418.6" y="31.5" width="12.4" height="30.4" fill="#13a07e"/>
<rect x="418.6" y="61.9" width="12.4" height="3.3999999999999986" fill="#f5680c"/>
<rect x="418.6" y="65.3" width="12.4" height="5.900000000000006" fill="#5db82d"/>
<rect x="418.6" y="71.2" width="12.4" height="13.0" fill="#7a6bb8"/>
<rect x="418.6" y="84.2" width="12.4" height="0.5999999999999943" fill="#ec1490"/>
<rect x="418.6" y="84.8" width="12.4" height="12.0" fill="#f7b50a"/>
<rect x="418.6" y="96.8" width="12.4" height="6.700000000000003" fill="#7a0022"/>
<rect x="418.6" y="103.5" width="12.4" height="1.0" fill="#b37d13"/>
<rect x="418.6" y="104.5" width="12.4" height="1.7999999999999972" fill="#8d8788"/>
<rect x="434.6" y="31.5" width="12.4" height="4.600000000000001" fill="#13a07e"/>
<rect x="434.6" y="36.1" width="12.4" height="2.0" fill="#f5680c"/>
<rect x="434.6" y="38.1" width="12.4" height="6.600000000000001" fill="#5db82d"/>
<rect x="434.6" y="44.7" width="12.4" height="41.7" fill="#ec1490"/>
<rect x="434.6" y="86.4" width="12.4" height="3.5999999999999943" fill="#7a6bb8"/>
<rect x="434.6" y="90.0" width="12.4" height="5.099999999999994" fill="#f7b50a"/>
<rect x="434.6" y="95.1" width="12.4" height="8.700000000000003" fill="#7a0022"/>
<rect x="434.6" y="103.8" width="12.4" height="2.5" fill="#8d8788"/>
<line x1="378.5" y1="28.5" x2="407.8" y2="28.5" stroke="#333" stroke-width="1"/>
<line x1="418.2" y1="28.3" x2="447.5" y2="28.3" stroke="#333" stroke-width="1"/>
<text x="393.65" y="25.0" font-size="6.8" text-anchor="middle" fill="#1e1e1e" stroke="#1e1e1e" stroke-width="0.07" textLength="13.3" lengthAdjust="spacingAndGlyphs">LKS<tspan font-size="4.22" baseline-shift="2.72">+</tspan></text>
<text x="433.1" y="17.0" font-size="6.8" text-anchor="middle" fill="#1e1e1e" stroke="#1e1e1e" stroke-width="0.07" textLength="34.6" lengthAdjust="spacingAndGlyphs">LKS<tspan font-size="4.22" baseline-shift="2.72">−</tspan> CD34<tspan font-size="4.22" baseline-shift="2.72">+</tspan></text>
<text x="433" y="24.8" font-size="6.8" text-anchor="middle" fill="#1e1e1e" stroke="#1e1e1e" stroke-width="0.07" textLength="15.9" lengthAdjust="spacingAndGlyphs">Fc&#947;R<tspan font-size="4.22" baseline-shift="2.72">+</tspan></text>
<text x="374.6" y="65.4" font-size="6.8" text-anchor="middle" fill="#1e1e1e" stroke="#1e1e1e" stroke-width="0.07" transform="rotate(-90 374.6 65.4)" textLength="45.3" lengthAdjust="spacingAndGlyphs">cell distribution</text>
<text x="386.8" y="113.1" font-size="7.4" text-anchor="end" fill="#1e1e1e" stroke="#1e1e1e" stroke-width="0.07" transform="rotate(-45 386.8 113.1)">M</text>
<text x="403.2" y="113.1" font-size="7.4" text-anchor="end" fill="#1e1e1e" stroke="#1e1e1e" stroke-width="0.07" transform="rotate(-45 403.2 113.1)">M+GM</text>
<text x="426.6" y="113.1" font-size="7.4" text-anchor="end" fill="#1e1e1e" stroke="#1e1e1e" stroke-width="0.07" transform="rotate(-45 426.6 113.1)">M</text>
<text x="444" y="113.1" font-size="7.4" text-anchor="end" fill="#1e1e1e" stroke="#1e1e1e" stroke-width="0.07" transform="rotate(-45 444 113.1)">M+GM</text>
<text x="458" y="27.8" font-size="6.8" text-anchor="start" fill="#1e1e1e" stroke="#1e1e1e" stroke-width="0.07" textLength="19.6" lengthAdjust="spacingAndGlyphs">cluster</text>
<rect x="461" y="30.9" width="8.7" height="8.2" fill="#13a07e"/>
<text x="472.9" y="37.4" font-size="6.8" text-anchor="start" fill="#1e1e1e" stroke="#1e1e1e" stroke-width="0.07">0</text>
<rect x="461" y="40.55" width="8.7" height="8.2" fill="#f5680c"/>
<text x="472.9" y="47.05" font-size="6.8" text-anchor="start" fill="#1e1e1e" stroke="#1e1e1e" stroke-width="0.07">1</text>
<rect x="461" y="50.2" width="8.7" height="8.2" fill="#5db82d"/>
<text x="472.9" y="56.7" font-size="6.8" text-anchor="start" fill="#1e1e1e" stroke="#1e1e1e" stroke-width="0.07">2</text>
<rect x="461" y="59.85" width="8.7" height="8.2" fill="#ec1490"/>
<text x="472.9" y="66.35" font-size="6.8" text-anchor="start" fill="#1e1e1e" stroke="#1e1e1e" stroke-width="0.07">3</text>
<rect x="461" y="69.5" width="8.7" height="8.2" fill="#7a6bb8"/>
<text x="472.9" y="76.0" font-size="6.8" text-anchor="start" fill="#1e1e1e" stroke="#1e1e1e" stroke-width="0.07">4</text>
<rect x="483" y="30.9" width="8.7" height="8.2" fill="#f7b50a"/>
<text x="494.9" y="37.4" font-size="6.8" text-anchor="start" fill="#1e1e1e" stroke="#1e1e1e" stroke-width="0.07">5</text>
<rect x="483" y="40.55" width="8.7" height="8.2" fill="#7a0022"/>
<text x="494.9" y="47.05" font-size="6.8" text-anchor="start" fill="#1e1e1e" stroke="#1e1e1e" stroke-width="0.07">6</text>
<rect x="483" y="50.2" width="8.7" height="8.2" fill="#b37d13"/>
<text x="494.9" y="56.7" font-size="6.8" text-anchor="start" fill="#1e1e1e" stroke="#1e1e1e" stroke-width="0.07">7</text>
<rect x="483" y="59.85" width="8.7" height="8.2" fill="#1a90dd"/>
<text x="494.9" y="66.35" font-size="6.8" text-anchor="start" fill="#1e1e1e" stroke="#1e1e1e" stroke-width="0.07">8</text>
<rect x="483" y="69.5" width="8.7" height="8.2" fill="#8d8788"/>
<text x="494.9" y="76.0" font-size="6.8" text-anchor="start" fill="#1e1e1e" stroke="#1e1e1e" stroke-width="0.07">9</text>
<text x="7.6" y="162.4" font-size="10.9" text-anchor="start" fill="#000" font-weight="bold">D</text>
<rect x="50.599999999999994" y="195.4925" width="6.2" height="61.807500000000005" fill="#a9d0ef"/>
<rect x="56.8" y="246.7475" width="6.4" height="10.552500000000004" fill="#e07a6c"/>
<rect x="64.67999999999999" y="252.02375" width="6.2" height="5.276250000000002" fill="#a9d0ef"/>
<rect x="70.88" y="254.73725000000002" width="6.4" height="2.5627500000000007" fill="#e07a6c"/>
<rect x="78.75999999999999" y="245.5415" width="6.2" height="11.758500000000002" fill="#a9d0ef"/>
<rect x="84.96" y="243.1295" width="6.4" height="14.170500000000002" fill="#e07a6c"/>
<rect x="99.03999999999999" y="174.3875" width="6.4" height="82.91250000000002" fill="#e07a6c"/>
<rect x="106.92" y="230.91875000000002" width="6.2" height="26.381250000000005" fill="#a9d0ef"/>
<rect x="113.12" y="250.81775000000002" width="6.4" height="6.4822500000000005" fill="#e07a6c"/>
<rect x="121.0" y="233.18" width="6.2" height="24.120000000000005" fill="#a9d0ef"/>
<rect x="127.2" y="246.7475" width="6.4" height="10.552500000000004" fill="#e07a6c"/>
<rect x="135.08" y="244.03400000000002" width="6.2" height="13.266000000000002" fill="#a9d0ef"/>
<rect x="141.28" y="238.9085" width="6.4" height="18.391500000000004" fill="#e07a6c"/>
<rect x="149.16000000000003" y="254.73725000000002" width="6.2" height="2.5627500000000007" fill="#a9d0ef"/>
<rect x="155.36" y="256.094" width="6.4" height="1.2060000000000002" fill="#e07a6c"/>
<rect x="163.24" y="254.28500000000003" width="6.2" height="3.0150000000000006" fill="#a9d0ef"/>
<rect x="169.44" y="254.28500000000003" width="6.4" height="3.0150000000000006" fill="#e07a6c"/>
<line x1="48" y1="169.5" x2="48" y2="257.9" stroke="#2a2a2a" stroke-width="1.2"/>
<line x1="47.4" y1="257.3" x2="196" y2="257.3" stroke="#2a2a2a" stroke-width="1.35"/>
<line x1="45.8" y1="197" x2="48" y2="197" stroke="#2a2a2a" stroke-width="1"/>
<text x="41.6" y="199.7" font-size="7.2" text-anchor="end" fill="#1e1e1e" stroke="#1e1e1e" stroke-width="0.07">0.4</text>
<line x1="45.8" y1="227.1" x2="48" y2="227.1" stroke="#2a2a2a" stroke-width="1"/>
<text x="41.6" y="229.79999999999998" font-size="7.2" text-anchor="end" fill="#1e1e1e" stroke="#1e1e1e" stroke-width="0.07">0.2</text>
<line x1="45.8" y1="257.3" x2="48" y2="257.3" stroke="#2a2a2a" stroke-width="1"/>
<text x="41.6" y="260.0" font-size="7.2" text-anchor="end" fill="#1e1e1e" stroke="#1e1e1e" stroke-width="0.07">0</text>
<line x1="56.8" y1="257.3" x2="56.8" y2="260.6" stroke="#2a2a2a" stroke-width="1.1"/>
<text x="56.8" y="268.6" font-size="6.6" text-anchor="middle" fill="#1e1e1e" stroke="#1e1e1e" stroke-width="0.07">0</text>
<line x1="70.88" y1="257.3" x2="70.88" y2="260.6" stroke="#2a2a2a" stroke-width="1.1"/>
<text x="70.88" y="268.6" font-size="6.6" text-anchor="middle" fill="#1e1e1e" stroke="#1e1e1e" stroke-width="0.07">1</text>
<line x1="84.96" y1="257.3" x2="84.96" y2="260.6" stroke="#2a2a2a" stroke-width="1.1"/>
<text x="84.96" y="268.6" font-size="6.6" text-anchor="middle" fill="#1e1e1e" stroke="#1e1e1e" stroke-width="0.07">2</text>
<line x1="99.03999999999999" y1="257.3" x2="99.03999999999999" y2="260.6" stroke="#2a2a2a" stroke-width="1.1"/>
<text x="99.03999999999999" y="268.6" font-size="6.6" text-anchor="middle" fill="#1e1e1e" stroke="#1e1e1e" stroke-width="0.07">3</text>
<line x1="113.12" y1="257.3" x2="113.12" y2="260.6" stroke="#2a2a2a" stroke-width="1.1"/>
<text x="113.12" y="268.6" font-size="6.6" text-anchor="middle" fill="#1e1e1e" stroke="#1e1e1e" stroke-width="0.07">4</text>
<line x1="127.2" y1="257.3" x2="127.2" y2="260.6" stroke="#2a2a2a" stroke-width="1.1"/>
<text x="127.2" y="268.6" font-size="6.6" text-anchor="middle" fill="#1e1e1e" stroke="#1e1e1e" stroke-width="0.07">5</text>
<line x1="141.28" y1="257.3" x2="141.28" y2="260.6" stroke="#2a2a2a" stroke-width="1.1"/>
<text x="141.28" y="268.6" font-size="6.6" text-anchor="middle" fill="#1e1e1e" stroke="#1e1e1e" stroke-width="0.07">6</text>
<line x1="155.36" y1="257.3" x2="155.36" y2="260.6" stroke="#2a2a2a" stroke-width="1.1"/>
<text x="155.36" y="268.6" font-size="6.6" text-anchor="middle" fill="#1e1e1e" stroke="#1e1e1e" stroke-width="0.07">7</text>
<line x1="169.44" y1="257.3" x2="169.44" y2="260.6" stroke="#2a2a2a" stroke-width="1.1"/>
<text x="169.44" y="268.6" font-size="6.6" text-anchor="middle" fill="#1e1e1e" stroke="#1e1e1e" stroke-width="0.07">8</text>
<line x1="183.51999999999998" y1="257.3" x2="183.51999999999998" y2="260.6" stroke="#2a2a2a" stroke-width="1.1"/>
<text x="183.51999999999998" y="268.6" font-size="6.6" text-anchor="middle" fill="#1e1e1e" stroke="#1e1e1e" stroke-width="0.07">9</text>
<text x="22.5" y="269.3" font-size="6.8" text-anchor="start" fill="#1e1e1e" stroke="#1e1e1e" stroke-width="0.07" textLength="18.5" lengthAdjust="spacingAndGlyphs">cluster</text>
<text x="16.2" y="214.9" font-size="7.2" text-anchor="middle" fill="#1e1e1e" stroke="#1e1e1e" stroke-width="0.07" transform="rotate(-90 16.2 214.9)" textLength="30.6" lengthAdjust="spacingAndGlyphs">Fraction of</text>
<text x="25.2" y="214.9" font-size="7.2" text-anchor="middle" fill="#1e1e1e" stroke="#1e1e1e" stroke-width="0.07" transform="rotate(-90 25.2 214.9)" textLength="70" lengthAdjust="spacingAndGlyphs">LKS<tspan font-size="4.46" baseline-shift="2.88">−</tspan> CD34<tspan font-size="4.46" baseline-shift="2.88">+</tspan> Fc&#947;R<tspan font-size="4.46" baseline-shift="2.88">+</tspan> cells</text>
<rect x="134.3" y="163.3" width="5.9" height="6.7" fill="#a9d0ef"/>
<rect x="134.3" y="175.2" width="5.9" height="6.5" fill="#e07a6c"/>
<text x="143.9" y="168.9" font-size="7.2" text-anchor="start" fill="#1e1e1e" stroke="#1e1e1e" stroke-width="0.07" textLength="19.3" lengthAdjust="spacingAndGlyphs">M-CSF</text>
<text x="143.9" y="181.4" font-size="7.2" text-anchor="start" fill="#1e1e1e" stroke="#1e1e1e" stroke-width="0.07" textLength="34.2" lengthAdjust="spacingAndGlyphs">M+GM-CSF</text>
<text x="211.6" y="162.3" font-size="10.9" text-anchor="start" fill="#000" font-weight="bold">E</text>
<path d="M284.8 186.0h0M285.9 192.1h0M281.7 191.8h0M279.4 190.5h0M289.9 199.7h0M284.1 199.0h0M289.9 198.0h0M282.7 188.2h0M288.1 191.0h0M277.3 194.6h0M283.1 199.7h0M288.3 197.6h0M286.4 197.5h0M286.6 195.1h0M289.1 197.1h0M288.3 189.6h0M284.7 197.8h0M285.7 186.7h0M283.4 196.2h0M285.2 198.2h0M293.8 191.0h0M279.4 192.2h0M286.2 200.8h0M291.2 187.3h0M285.5 186.0h0M290.6 187.3h0M285.8 191.2h0M283.7 193.9h0M282.6 194.5h0M276.8 192.2h0M291.2 197.3h0M282.6 196.9h0M278.5 191.1h0M287.3 198.9h0M290.6 195.9h0M290.5 187.9h0M276.7 193.9h0M278.6 194.6h0M288.5 192.5h0M283.4 193.0h0M280.6 188.3h0M293.0 191.3h0M289.2 192.7h0M281.2 198.8h0M275.9 195.7h0M281.8 192.2h0M285.8 201.2h0M285.5 194.5h0M284.7 197.7h0M293.4 195.5h0M288.9 194.3h0M277.6 192.8h0M294.6 191.6h0M277.7 192.5h0M276.2 195.2h0M279.6 189.0h0M287.7 200.3h0M286.6 193.3h0M282.0 193.9h0M281.8 199.0h0M284.8 193.5h0M284.8 192.8h0M283.1 193.4h0M277.1 197.5h0M280.3 198.2h0M281.2 199.1h0M277.0 196.3h0M284.7 189.0h0M289.7 194.7h0M277.6 190.1h0M290.1 193.1h0M279.1 189.6h0M278.8 195.6h0M286.9 193.8h0M290.5 194.0h0M281.3 196.2h0M284.7 187.7h0M291.8 196.2h0M294.2 194.8h0M286.9 201.1h0M291.1 190.9h0M289.9 195.0h0M289.9 192.7h0M277.5 194.4h0M280.3 189.7h0M292.5 195.4h0M290.0 198.6h0M283.6 191.2h0M290.6 199.7h0M281.0 196.9h0M288.7 197.9h0M289.4 190.6h0M290.2 199.0h0M283.7 189.9h0" stroke="#f07a88" stroke-width="0.6" stroke-linecap="round" fill="none" stroke-opacity="0.6"/>
<path d="M277.5 193.8h0M294.2 195.2h0M287.8 200.1h0M276.8 197.9h0M279.2 187.8h0M289.1 200.5h0M283.5 196.0h0M281.0 193.9h0M277.2 196.3h0M283.1 187.0h0M284.6 191.5h0M286.0 200.9h0M287.1 189.6h0M285.1 197.6h0M279.0 195.4h0M293.8 192.7h0M287.1 196.5h0M292.5 194.5h0M279.9 194.5h0M279.0 198.1h0M291.2 198.2h0M285.4 188.2h0M278.9 193.1h0M281.7 200.4h0M277.4 189.4h0M289.9 192.4h0M293.7 196.1h0M294.0 195.2h0M283.7 192.7h0" stroke="#4b95d3" stroke-width="0.6" stroke-linecap="round" fill="none" stroke-opacity="0.6"/>
<path d="M311.3 194.3h0M305.3 213.6h0M307.2 213.2h0M290.5 208.4h0M307.8 184.5h0M300.8 212.1h0M304.0 182.2h0M310.0 203.6h0M291.1 183.4h0M292.1 209.2h0M289.7 185.1h0" stroke="#e4283e" stroke-width="0.7" stroke-linecap="round" fill="none" stroke-opacity="0.55"/>
<path d="M305.4 213.0h0M290.0 201.1h0M307.7 211.4h0M297.5 180.2h0M307.8 210.4h0M294.3 209.1h0M309.3 200.4h0M310.9 191.8h0M296.1 210.5h0M296.8 182.6h0M302.0 180.5h0M288.7 198.0h0" stroke="#4b95d3" stroke-width="0.7" stroke-linecap="round" fill="none" stroke-opacity="0.55"/>
<path d="M302.7 210.2h0M309.1 184.8h0M299.4 209.2h0M310.7 198.1h0M288.8 192.3h0M302.5 181.1h0M301.2 211.7h0M291.1 209.2h0M308.9 204.6h0M297.9 211.0h0M296.6 210.0h0M308.8 207.0h0M299.8 181.7h0M289.1 184.6h0M294.3 183.1h0" stroke="#9a6aa8" stroke-width="0.7" stroke-linecap="round" fill="none" stroke-opacity="0.55"/>
<path d="M291.0 186.0 L298.0 182.5 L305.0 183.0 L309.0 188.0 L310.0 196.0 L308.0 205.0 L306.0 211.0 L292.0 207.0 L290.5 198.0Z" fill="#b07ab8" fill-opacity="0.05"/>
<path d="M304.7 201.2h0M303.5 202.1h0M303.1 205.4h0M306.5 186.1h0M292.3 187.3h0M308.8 190.5h0M301.6 209.5h0M301.1 183.7h0M294.8 201.0h0M306.5 206.5h0M303.3 188.1h0M293.2 196.0h0M292.4 203.2h0M292.6 200.5h0M302.6 189.4h0M300.5 194.8h0M296.2 195.4h0M300.4 206.7h0M291.3 186.3h0M304.9 204.8h0M304.0 187.7h0M299.5 197.6h0M305.2 202.9h0M298.6 186.8h0M305.4 202.5h0M303.9 205.5h0M293.3 187.4h0M296.2 183.9h0M298.2 205.2h0M302.1 193.3h0M300.7 206.6h0M303.6 199.4h0M299.1 202.8h0M294.3 205.7h0M290.7 194.7h0M298.6 202.7h0M300.3 189.3h0M298.9 203.8h0M295.0 193.5h0M301.4 192.9h0M296.7 184.2h0M308.2 195.8h0M305.9 185.6h0M304.0 191.0h0M291.1 189.0h0M296.1 187.4h0M307.8 204.6h0M303.0 183.7h0M303.1 202.0h0M307.2 190.0h0M297.0 195.8h0M293.9 198.0h0M301.2 209.0h0M304.0 206.0h0M300.8 191.6h0M303.7 206.4h0M302.4 192.6h0M299.6 195.1h0M299.7 198.8h0M292.3 190.9h0M301.9 206.8h0M294.2 201.7h0M306.8 201.1h0M300.4 202.0h0M300.9 191.9h0M297.9 202.5h0M309.0 195.0h0M291.4 199.1h0M306.5 201.2h0M299.0 186.9h0M300.1 196.5h0M294.6 190.6h0M299.1 203.6h0M295.6 193.9h0M308.0 200.9h0M302.8 194.5h0M306.7 198.4h0M304.7 198.8h0M304.1 193.6h0M293.4 192.9h0M291.8 186.1h0M298.5 192.3h0M299.0 204.4h0M300.5 203.7h0M301.4 185.4h0M296.0 199.5h0M301.2 208.8h0M303.5 188.6h0" stroke="#e4283e" stroke-width="0.55" stroke-linecap="round" fill="none" stroke-opacity="0.55"/>
<path d="M292.0 205.0h0M307.0 194.3h0M296.8 183.2h0M306.3 200.3h0M300.0 196.9h0M308.8 191.2h0M307.7 203.9h0M297.3 193.5h0M308.6 199.8h0M291.4 185.8h0M305.2 202.1h0M302.7 198.2h0M302.5 187.8h0M297.0 207.6h0M291.5 196.1h0M292.0 191.6h0M300.7 204.0h0M298.4 198.3h0M302.1 185.9h0M297.0 193.0h0M293.9 192.4h0M301.5 203.8h0M298.6 208.1h0M294.7 197.3h0M303.6 207.3h0M295.9 191.9h0M298.4 193.4h0M298.4 202.9h0M298.4 188.9h0M295.5 194.0h0M296.1 192.6h0M297.3 198.8h0M301.1 194.2h0M302.7 207.7h0M294.4 207.5h0M302.2 204.0h0M298.1 191.7h0M304.0 198.7h0M297.2 202.2h0M303.0 191.9h0M294.1 190.2h0M304.6 202.8h0M308.3 194.3h0M295.5 203.0h0M300.9 184.0h0M301.8 190.2h0M297.9 195.8h0M303.5 200.3h0M292.5 198.9h0M297.4 195.2h0M299.9 184.5h0M297.5 205.8h0M301.3 193.6h0M297.6 207.2h0M301.5 200.1h0M303.0 201.0h0M304.1 193.5h0M303.6 194.9h0M300.3 183.8h0M302.1 195.8h0M298.5 185.8h0M294.8 200.9h0M305.0 205.7h0M302.8 199.7h0M298.8 205.9h0M300.9 192.5h0M293.7 199.6h0M305.1 207.4h0M299.6 202.9h0M299.1 188.2h0M306.6 197.0h0M304.2 201.5h0M299.4 208.7h0M297.8 186.5h0M298.5 195.9h0M295.3 206.0h0M295.0 205.6h0M298.7 195.1h0M305.5 197.5h0M299.9 202.6h0M307.4 197.0h0M299.5 203.0h0M300.1 199.1h0M301.5 209.0h0M295.2 204.6h0M295.5 202.8h0M304.7 193.0h0M302.0 186.7h0M302.4 200.9h0M304.8 200.0h0" stroke="#4b95d3" stroke-width="0.55" stroke-linecap="round" fill="none" stroke-opacity="0.55"/>
<path d="M302.1 190.6h0M306.8 194.7h0M297.8 202.2h0M305.4 188.0h0M301.1 185.5h0M298.9 187.7h0M298.8 199.8h0M303.0 191.2h0M307.9 203.1h0M292.8 200.8h0M305.1 195.2h0M299.7 206.0h0M292.1 193.1h0M304.2 192.9h0M293.7 195.5h0M303.0 188.2h0M299.8 206.3h0M306.9 195.5h0M306.7 204.2h0M294.3 191.5h0M303.6 186.2h0M299.5 208.6h0M302.2 191.5h0M309.0 189.5h0M307.7 204.8h0M297.7 195.6h0M302.0 205.4h0M301.6 200.2h0M301.1 202.0h0M292.2 191.9h0M307.1 186.4h0M309.3 193.9h0M302.2 184.1h0M307.7 203.9h0M300.3 184.1h0M294.1 207.4h0M292.4 198.3h0M291.8 205.5h0M300.0 195.2h0M305.1 195.6h0M307.7 205.5h0M307.5 186.8h0M292.6 188.9h0M296.0 192.9h0M300.1 208.2h0M302.7 189.8h0M299.0 193.6h0M292.7 194.4h0M300.8 192.4h0M297.7 201.9h0M301.6 192.2h0M293.2 206.2h0M296.4 204.2h0M298.3 189.6h0M302.3 208.1h0M291.4 191.7h0M292.5 190.8h0M306.2 190.3h0M300.2 195.9h0M290.7 194.0h0M305.4 186.2h0M300.7 203.1h0M294.1 203.0h0M304.1 194.2h0M297.0 207.8h0M293.3 186.0h0M302.0 189.4h0M304.6 203.5h0M303.9 186.3h0M292.1 202.9h0M301.2 209.1h0M296.2 184.2h0M302.8 197.1h0M298.1 204.9h0M306.7 189.2h0M304.6 190.3h0M291.8 193.7h0M305.1 191.5h0M294.1 197.9h0M292.6 194.8h0M307.6 191.0h0M296.5 197.9h0M303.1 192.0h0M304.5 183.7h0M306.9 197.4h0M295.3 191.3h0M301.3 203.6h0M295.0 200.6h0M298.4 204.2h0M295.1 201.5h0" stroke="#9a6aa8" stroke-width="0.55" stroke-linecap="round" fill="none" stroke-opacity="0.55"/>
<path d="M274.7 205.0h0M295.7 210.8h0M274.8 205.5h0M276.5 202.1h0M273.3 203.7h0M286.4 199.9h0M296.3 202.5h0M295.2 205.2h0M279.8 200.8h0" stroke="#4b95d3" stroke-width="0.7" stroke-linecap="round" fill="none" stroke-opacity="0.55"/>
<path d="M274.5 203.0 L282.0 201.0 L291.0 199.5 L295.0 202.0 L294.0 210.0 L289.0 209.5 L283.0 205.5 L275.0 205.5Z" fill="#7ab0e0" fill-opacity="0.3"/>
<path d="M289.0 204.2h0M290.3 203.7h0M292.7 203.6h0M282.6 204.6h0M285.4 202.3h0M275.1 205.5h0M292.1 208.7h0M288.1 200.1h0M283.0 201.8h0M288.2 202.6h0M284.5 206.4h0M293.1 204.0h0M293.3 207.9h0M288.7 201.2h0M288.6 204.1h0M285.2 200.8h0M279.5 203.1h0M279.5 202.0h0M292.4 207.7h0M293.6 207.7h0M291.6 208.0h0M279.2 204.6h0M288.2 204.2h0M286.2 205.0h0M289.7 207.6h0M291.5 206.8h0M291.1 209.6h0M289.6 200.5h0M286.5 200.4h0M289.5 203.1h0M282.2 202.4h0M286.9 207.5h0M288.7 204.4h0M286.6 205.5h0M280.4 202.7h0M290.9 208.1h0M294.3 206.7h0M284.8 203.6h0M289.0 206.3h0M293.8 207.3h0M282.4 202.4h0M275.6 204.7h0M292.9 202.4h0M288.0 205.8h0M285.1 203.2h0M293.1 206.1h0M290.9 201.8h0M284.1 202.0h0M290.9 205.8h0M282.6 203.5h0M288.7 202.8h0M276.6 203.6h0M282.4 203.7h0M283.9 203.7h0M284.2 206.2h0M276.7 204.5h0M290.5 203.7h0M291.0 201.0h0M288.3 203.0h0M284.4 204.1h0M284.1 202.6h0M284.7 206.5h0M282.3 203.7h0M281.5 202.1h0M290.7 208.6h0M280.2 205.4h0M293.0 202.2h0M292.3 204.9h0M290.6 201.9h0M289.0 203.5h0M284.0 202.8h0M279.2 202.7h0M292.4 203.5h0M288.4 201.1h0M294.0 209.3h0M291.7 203.0h0M291.5 206.2h0M288.8 205.2h0M276.3 204.7h0M287.5 207.8h0M290.3 205.0h0M293.8 202.4h0M280.4 204.2h0M292.7 208.0h0M292.0 201.5h0M280.4 204.9h0M278.8 205.3h0M278.4 204.2h0M285.8 203.2h0M280.4 204.8h0M289.8 202.9h0M286.8 202.3h0M289.2 204.7h0M283.4 205.7h0M286.9 200.4h0M290.7 207.2h0M288.4 200.8h0M276.6 205.4h0M294.0 206.0h0M289.5 205.9h0M275.8 203.5h0M279.3 202.3h0M289.5 201.1h0M293.2 208.1h0M286.4 202.1h0M288.6 203.9h0M289.2 202.1h0M282.1 202.2h0M294.3 203.4h0M278.2 204.6h0M294.6 205.1h0M293.0 200.9h0M289.6 205.8h0" stroke="#4b95d3" stroke-width="0.7" stroke-linecap="round" fill="none" stroke-opacity="0.75"/>
<path d="M287.7 207.5h0M292.7 206.9h0M293.6 207.0h0M290.9 209.5h0M282.3 204.8h0M281.1 203.2h0M280.3 203.3h0M278.5 204.6h0M291.1 206.2h0M283.3 203.6h0M289.7 207.5h0M292.6 204.4h0M282.0 205.2h0M286.0 200.7h0M277.9 205.0h0M288.9 205.0h0M286.2 206.8h0M283.9 200.9h0M289.5 205.1h0M275.1 203.5h0M293.9 207.8h0M279.1 202.1h0M286.4 206.4h0M290.5 208.4h0M294.5 204.3h0M280.9 204.2h0M282.9 204.8h0M293.3 207.1h0M283.3 203.4h0M289.3 201.9h0M291.0 200.3h0M293.2 208.5h0M287.7 201.0h0M292.9 206.7h0M285.0 204.9h0M290.1 205.3h0M292.6 203.0h0" stroke="#e4283e" stroke-width="0.7" stroke-linecap="round" fill="none" stroke-opacity="0.75"/>
<path d="M294.9 209.6h0M295.5 207.8h0M287.0 194.4h0M299.3 195.8h0M297.0 206.0h0M288.7 210.4h0M294.7 189.3h0M288.4 208.9h0M290.4 210.0h0M295.8 207.5h0M287.8 192.6h0" stroke="#4b95d3" stroke-width="0.7" stroke-linecap="round" fill="none" stroke-opacity="0.55"/>
<path d="M296.3 190.1h0M286.7 205.6h0M290.7 190.3h0M294.8 190.0h0" stroke="#9a6aa8" stroke-width="0.7" stroke-linecap="round" fill="none" stroke-opacity="0.55"/>
<path d="M299.0 196.1h0M298.1 203.7h0M289.5 211.1h0" stroke="#e4283e" stroke-width="0.7" stroke-linecap="round" fill="none" stroke-opacity="0.55"/>
<path d="M288.0 194.0 L292.0 190.5 L296.0 191.5 L298.5 197.0 L297.5 204.0 L294.5 209.0 L289.0 209.5 L287.0 204.0Z" fill="#6aa6dc" fill-opacity="0.25"/>
<path d="M296.5 195.6h0M289.2 201.7h0M289.5 194.4h0M288.3 204.0h0M289.6 200.5h0M288.3 198.5h0M293.2 205.9h0M293.6 197.1h0M293.3 200.3h0M297.2 197.2h0M288.5 193.8h0M296.2 199.1h0M293.0 194.8h0M291.7 204.6h0M292.5 198.6h0M296.5 198.6h0M289.3 199.6h0M290.5 195.4h0M294.2 196.3h0M288.3 205.3h0M296.0 201.7h0M294.3 193.7h0M295.0 207.0h0M289.9 192.8h0M292.6 191.6h0M297.5 195.2h0M295.9 194.4h0M290.1 193.1h0M293.2 195.9h0M292.9 198.1h0M292.1 197.5h0M295.4 202.6h0M294.9 202.6h0M292.9 194.2h0M297.5 200.6h0M292.3 195.5h0M290.1 194.9h0M290.5 198.0h0M294.4 198.2h0M296.8 198.8h0M290.0 207.5h0M294.3 204.2h0M293.0 204.0h0M298.1 197.1h0M290.4 207.3h0M292.0 198.4h0M288.9 193.8h0M292.8 191.5h0M292.5 207.7h0M294.5 208.5h0M293.6 206.5h0M290.8 193.0h0M295.7 200.7h0M292.4 192.9h0M293.4 201.4h0M295.2 207.6h0M287.9 206.3h0M290.7 198.4h0M291.0 205.8h0M292.1 191.9h0M292.5 193.3h0M291.4 199.1h0M297.4 200.8h0M291.5 191.5h0M288.7 205.6h0M294.6 196.1h0M288.9 202.7h0M289.3 195.0h0M288.6 194.5h0M297.2 202.2h0M288.6 194.5h0M294.1 194.3h0M292.7 204.6h0M296.0 199.0h0M290.3 192.1h0M289.1 207.4h0M292.4 206.6h0M296.7 195.2h0M289.7 201.9h0M297.8 199.3h0M291.9 208.7h0M297.6 200.8h0M290.1 193.9h0M297.8 197.2h0M292.5 206.2h0M291.2 194.9h0M294.1 207.1h0M289.3 200.1h0M297.5 201.3h0M292.1 203.6h0M295.0 198.9h0M289.8 199.4h0M293.8 205.2h0M291.0 192.0h0M291.9 195.6h0M295.2 200.9h0M294.7 206.9h0M289.2 197.8h0M291.3 193.2h0M290.2 207.5h0M290.7 196.2h0M289.1 198.5h0M294.5 203.3h0M290.3 203.5h0M291.6 203.5h0M294.7 194.5h0M288.4 197.0h0M290.6 208.1h0M291.1 206.1h0M287.7 196.9h0M289.8 206.8h0M292.1 206.7h0M292.6 197.6h0M292.2 208.6h0M288.1 198.9h0M296.6 193.4h0M287.6 203.9h0M296.1 193.9h0M296.1 191.8h0M289.0 198.8h0M292.6 200.8h0M291.1 191.9h0" stroke="#4b95d3" stroke-width="0.7" stroke-linecap="round" fill="none" stroke-opacity="0.75"/>
<path d="M295.1 200.6h0M290.8 193.4h0M290.1 199.8h0M292.6 199.1h0M295.9 203.9h0M290.8 192.5h0M293.6 204.1h0M291.3 209.1h0M291.7 205.8h0M288.4 201.9h0M289.4 194.0h0M289.6 198.4h0M289.8 195.6h0M287.6 199.6h0M290.5 198.1h0M291.9 196.6h0M295.0 197.5h0M292.9 208.2h0M293.0 205.9h0M293.7 202.2h0M290.0 192.4h0M293.8 193.3h0M292.8 193.8h0M294.5 208.7h0M294.3 191.4h0M297.0 203.6h0M288.0 204.6h0M289.2 203.0h0" stroke="#9a6aa8" stroke-width="0.7" stroke-linecap="round" fill="none" stroke-opacity="0.75"/>
<path d="M291.3 197.1h0M292.8 195.5h0M296.3 193.1h0M296.7 202.3h0M297.2 198.5h0M295.9 197.1h0M294.0 193.8h0M292.8 206.3h0M291.6 203.8h0M297.7 195.7h0M289.6 193.0h0M296.1 198.0h0M290.5 198.4h0M291.4 199.2h0M296.9 199.9h0M289.7 203.1h0M291.8 193.7h0M290.8 192.5h0M292.9 203.7h0M289.6 207.3h0M295.1 194.8h0M289.7 208.9h0M296.1 205.8h0M291.2 203.3h0M293.3 206.7h0M289.9 205.8h0M291.0 194.9h0M296.3 197.8h0M289.6 195.8h0M290.2 201.4h0M294.3 201.9h0M297.5 199.4h0M297.9 196.1h0" stroke="#e4283e" stroke-width="0.7" stroke-linecap="round" fill="none" stroke-opacity="0.75"/>
<path d="M293.0 190.9h0M294.6 190.2h0M292.9 192.7h0M292.8 190.4h0M293.4 190.1h0M294.5 193.4h0M294.3 191.0h0M294.6 191.0h0M292.0 191.3h0M294.8 191.9h0M292.7 190.1h0M293.4 191.2h0M293.1 189.9h0M293.1 191.7h0M293.6 193.7h0" stroke="#2a9ab0" stroke-width="0.7" stroke-linecap="round" fill="none" stroke-opacity="0.8"/>
<path d="M292.4 192.3h0M294.4 190.5h0M291.9 191.6h0M293.7 191.5h0M292.4 190.6h0" stroke="#4b95d3" stroke-width="0.7" stroke-linecap="round" fill="none" stroke-opacity="0.8"/>
<path d="M290.2 191.9h0M293.2 197.8h0M292.8 199.6h0M277.9 196.9h0M280.0 201.1h0M277.8 193.8h0M283.1 201.0h0M277.4 196.7h0M285.8 191.0h0M282.6 190.1h0M279.8 200.5h0M287.0 201.3h0M286.5 201.9h0M276.9 193.7h0M286.5 190.8h0M283.4 190.1h0M287.6 201.4h0M277.1 197.3h0" stroke="#e4283e" stroke-width="0.7" stroke-linecap="round" fill="none" stroke-opacity="0.55"/>
<path d="M293.5 198.7h0M280.7 200.2h0M282.4 201.6h0M280.9 200.9h0" stroke="#4b95d3" stroke-width="0.7" stroke-linecap="round" fill="none" stroke-opacity="0.55"/>
<path d="M277.5 196.0 L279.0 192.5 L283.0 191.0 L288.0 191.5 L292.0 193.5 L293.0 198.0 L290.5 201.0 L285.0 201.3 L280.0 200.0Z" fill="#ec2a40" fill-opacity="0.5"/>
<path d="M291.2 193.3h0M291.2 194.4h0M290.0 198.4h0M292.0 196.9h0M283.1 193.7h0M281.1 192.1h0M282.1 194.3h0M285.3 196.2h0M280.0 198.1h0M280.7 198.7h0M279.8 193.1h0M279.5 194.2h0M283.6 198.8h0M280.2 192.9h0M289.0 201.1h0M283.7 198.3h0M284.7 193.1h0M282.4 194.5h0M281.4 199.2h0M278.9 195.0h0M292.4 197.3h0M287.6 193.0h0M280.7 199.7h0M278.7 197.1h0M290.6 193.9h0M279.7 196.3h0M288.4 192.3h0M283.4 192.7h0M278.8 196.5h0M282.1 200.4h0M291.5 198.5h0M285.4 197.7h0M286.0 195.3h0M284.4 199.8h0M290.8 194.1h0M288.9 200.4h0M289.6 194.1h0M278.4 196.0h0M282.6 200.0h0M291.5 196.5h0M289.5 198.5h0M285.6 195.6h0M286.4 201.2h0M279.8 198.9h0M286.0 194.3h0M279.5 197.0h0M280.5 196.7h0M285.0 194.5h0M279.4 193.8h0M285.2 191.6h0M284.1 197.0h0M287.7 191.5h0M288.3 197.5h0M280.7 195.8h0M284.1 192.8h0M283.6 191.7h0M288.5 201.0h0M285.9 195.1h0M285.5 192.5h0M289.0 198.1h0M279.4 198.2h0M280.5 196.4h0M288.5 200.7h0M288.6 195.4h0M280.1 195.8h0M288.3 196.6h0M291.2 195.9h0M281.4 199.8h0M279.2 198.1h0M282.1 191.6h0M280.1 199.8h0M285.8 197.1h0M284.8 193.2h0M291.1 196.8h0M289.1 198.4h0M280.1 199.5h0M288.6 192.0h0M280.9 198.9h0M289.4 198.2h0M283.2 200.7h0M279.8 193.3h0M288.9 199.6h0M289.0 194.3h0M286.5 194.2h0M286.0 196.5h0M279.9 199.7h0M290.1 199.0h0M278.9 193.4h0M289.1 199.3h0M287.1 200.6h0M284.1 193.3h0M284.9 194.1h0M283.4 199.1h0M282.5 198.3h0M285.4 199.9h0M287.5 199.8h0M280.6 198.8h0M282.1 197.8h0M287.0 194.4h0M281.4 197.6h0M287.3 193.2h0M288.5 191.8h0M286.3 196.5h0M285.8 200.7h0M280.6 196.5h0M284.1 199.3h0M291.8 197.4h0M278.8 196.5h0M279.5 196.5h0M290.2 197.9h0M284.7 192.6h0M285.1 191.5h0M288.0 195.1h0M283.7 194.9h0M281.8 192.4h0M284.2 198.7h0M285.3 192.7h0M281.7 196.8h0M287.8 197.5h0M289.1 194.7h0M289.4 197.0h0M281.4 192.3h0M290.3 197.1h0M281.3 194.1h0M290.9 193.8h0M285.0 196.7h0M280.6 199.2h0M280.1 199.2h0M288.9 192.0h0M289.4 198.4h0M282.0 195.8h0M285.6 196.7h0M286.3 191.7h0M290.7 196.4h0M279.0 196.2h0M280.4 195.4h0M288.6 198.8h0M292.5 197.5h0M280.4 197.3h0M281.3 191.8h0M287.7 192.2h0M279.7 198.0h0M289.1 192.5h0M283.8 194.3h0M280.5 199.4h0M279.1 197.5h0M279.5 193.0h0M284.5 197.8h0M279.3 197.9h0M288.1 197.0h0M283.5 199.4h0M278.5 196.6h0M285.9 200.5h0M289.6 193.5h0M283.4 197.1h0M283.4 191.6h0M279.7 192.6h0M279.7 196.8h0M292.1 198.9h0M286.7 193.9h0M287.9 199.3h0M283.9 197.2h0M291.3 197.1h0M281.6 198.5h0M286.1 192.9h0M280.8 197.0h0M283.8 196.1h0M291.7 195.8h0M285.1 191.6h0M280.6 192.9h0M283.5 192.6h0M292.0 194.1h0M282.2 191.7h0M283.2 199.1h0M286.0 200.2h0M287.1 197.6h0M284.1 199.6h0M284.5 192.4h0M281.0 199.2h0" stroke="#e4283e" stroke-width="0.8" stroke-linecap="round" fill="none" stroke-opacity="0.85"/>
<path d="M290.2 193.1h0M285.2 198.9h0M287.6 196.3h0M287.2 199.7h0M286.6 200.0h0M279.7 197.7h0M280.7 193.4h0M286.5 195.8h0" stroke="#f06070" stroke-width="0.8" stroke-linecap="round" fill="none" stroke-opacity="0.85"/>
<path d="M282.3 192.0h0M291.0 194.4h0M282.7 195.8h0M292.2 196.1h0M279.1 194.9h0M290.0 193.6h0M284.3 193.7h0M278.1 195.4h0M280.0 194.0h0" stroke="#4b95d3" stroke-width="0.8" stroke-linecap="round" fill="none" stroke-opacity="0.85"/>
<path d="M297.5 205.1h0M295.0 227.7h0M305.6 206.6h0M290.5 210.0h0M306.1 229.2h0M290.5 212.3h0M302.4 203.9h0M289.9 213.2h0M291.0 216.3h0M289.6 204.8h0M305.8 204.0h0M306.3 223.7h0M304.2 233.8h0M304.9 234.5h0M295.4 229.4h0M306.4 204.4h0M295.8 229.2h0" stroke="#e4283e" stroke-width="0.7" stroke-linecap="round" fill="none" stroke-opacity="0.55"/>
<path d="M299.6 203.0h0M293.5 203.0h0M292.9 203.2h0M297.8 230.4h0M295.9 202.4h0M290.6 212.1h0M290.0 210.3h0M307.2 209.8h0" stroke="#e86080" stroke-width="0.7" stroke-linecap="round" fill="none" stroke-opacity="0.55"/>
<path d="M303.3 204.3h0M298.9 229.7h0M304.4 234.3h0M306.6 231.0h0M290.4 212.1h0M299.0 231.1h0M301.7 203.1h0" stroke="#9a6aa8" stroke-width="0.7" stroke-linecap="round" fill="none" stroke-opacity="0.55"/>
<path d="M291.4 205.0 L291.9 222.3 L295.3 227.5 L301.0 230.1 L305.3 233.5 L306.1 231.0 L305.7 224.9 L307.0 213.7 L306.5 207.0 L300.0 205.5Z" fill="#e45070" fill-opacity="0.45"/>
<path d="M298.2 217.6h0M296.1 222.2h0M297.1 206.0h0M304.3 225.5h0M303.5 221.1h0M293.6 217.5h0M299.8 209.3h0M294.5 222.4h0M305.4 208.2h0M291.9 212.2h0M306.4 213.1h0M293.6 208.7h0M296.4 221.6h0M306.2 216.8h0M292.1 215.6h0M304.7 217.3h0M292.3 212.1h0M294.9 215.0h0M296.4 224.1h0M302.6 206.3h0M304.6 218.3h0M301.0 215.2h0M302.1 209.0h0M298.5 207.4h0M303.2 230.4h0M305.6 231.8h0M294.2 209.4h0M292.7 207.6h0M298.6 215.1h0M302.8 206.3h0M293.7 220.9h0M304.0 228.5h0M297.4 223.9h0M293.2 214.9h0M300.7 212.4h0M295.0 206.3h0M304.1 224.8h0M303.1 227.8h0M300.1 229.7h0M305.3 211.6h0M295.1 214.4h0M295.2 220.2h0M295.8 208.4h0M302.3 212.5h0M295.5 225.5h0M305.5 215.6h0M302.8 214.4h0M299.9 222.8h0M295.9 216.8h0M297.8 215.4h0M298.8 211.2h0M299.3 207.5h0M296.0 227.5h0M306.0 218.4h0M304.0 224.1h0M296.1 208.7h0M303.2 222.0h0M293.9 215.9h0M294.9 217.4h0M305.8 211.7h0M296.9 214.6h0M296.3 207.3h0M304.0 226.8h0M294.9 226.3h0M296.5 208.6h0M298.5 207.5h0M294.2 219.9h0M291.6 206.8h0M292.7 206.2h0M294.9 223.3h0M305.2 207.5h0M301.1 207.8h0M302.1 207.1h0M302.7 212.7h0M304.5 222.6h0M293.1 216.4h0M292.6 207.8h0M297.5 206.2h0M305.8 216.0h0M297.2 224.7h0M297.8 215.9h0M305.6 232.2h0M291.9 205.2h0M296.3 209.2h0M303.4 229.8h0M297.4 217.9h0M294.9 213.1h0M297.6 223.7h0M297.3 227.1h0M301.4 221.1h0M304.7 207.3h0M304.2 210.3h0M296.9 218.2h0M296.1 210.1h0M295.2 212.1h0M304.0 224.6h0M295.2 217.0h0M305.4 232.4h0M305.8 228.4h0M301.3 216.6h0M294.9 225.8h0M305.0 220.4h0M305.3 207.5h0M303.8 211.4h0M300.3 217.5h0M302.9 216.4h0M296.4 226.7h0M302.3 215.3h0M296.9 214.3h0M305.2 226.7h0M302.9 230.9h0M297.7 209.9h0M303.4 207.4h0M294.7 220.8h0M296.4 211.6h0M292.4 210.4h0M293.2 220.3h0M293.7 225.0h0M295.8 209.4h0M297.3 224.6h0M294.6 208.2h0M295.0 218.7h0M299.8 210.6h0M302.7 208.7h0M301.7 210.4h0M298.6 209.3h0M300.7 219.6h0M301.0 223.7h0M299.1 227.3h0M294.5 218.7h0M299.0 227.6h0M291.8 215.8h0M302.5 217.0h0M299.8 224.5h0M303.3 216.5h0M293.7 213.2h0M291.8 219.2h0M296.1 214.1h0M295.5 222.2h0M299.1 224.8h0M294.5 221.9h0M299.2 213.5h0M298.4 206.6h0M299.8 207.8h0M304.0 213.5h0M298.9 212.6h0M293.9 216.9h0M300.0 224.4h0M304.7 209.0h0M295.7 205.3h0M305.6 230.1h0M306.3 218.3h0M297.0 205.7h0M297.9 227.7h0M302.8 219.2h0M296.5 218.0h0M295.4 208.1h0M297.9 212.9h0M300.7 225.4h0M298.1 225.4h0M291.8 215.0h0M296.7 209.3h0M297.1 217.5h0M301.8 227.6h0M304.2 224.8h0M295.8 209.5h0M304.7 220.7h0M295.4 208.5h0M305.4 212.2h0M305.8 219.1h0M303.4 207.6h0M299.2 207.7h0M296.6 214.8h0M305.3 216.5h0M306.2 213.8h0M304.6 231.3h0M297.7 225.5h0M301.6 211.8h0M295.4 226.8h0M302.8 213.3h0M303.5 223.2h0M297.4 224.5h0M304.1 210.6h0M304.9 219.8h0M301.3 229.5h0M294.7 218.3h0M297.5 220.4h0M298.4 219.4h0M304.5 208.2h0M293.4 218.1h0M294.0 217.7h0M294.7 217.6h0M297.2 207.4h0M298.1 222.7h0M292.4 217.0h0M294.3 221.8h0M301.9 223.4h0M305.7 221.6h0M302.9 218.5h0M305.5 215.9h0M300.1 217.7h0M303.3 215.1h0M295.5 212.9h0M299.7 209.0h0M304.4 207.0h0M292.5 207.7h0M300.6 210.2h0M294.9 214.2h0M300.6 221.0h0M302.8 213.0h0M296.3 211.0h0M300.7 225.4h0M302.3 229.6h0M303.4 218.4h0M303.1 207.4h0M298.0 208.7h0M296.1 206.5h0M299.8 207.6h0M295.2 227.2h0M304.9 223.1h0M292.7 211.5h0M304.9 208.0h0M304.8 211.4h0M303.4 208.6h0M299.2 221.4h0M304.7 219.9h0M303.5 226.8h0M304.3 219.1h0M291.6 205.7h0M302.2 211.4h0M299.5 229.2h0M296.0 206.1h0M300.7 206.9h0M305.5 227.2h0M297.8 210.7h0M305.8 218.4h0M296.7 212.6h0M292.7 222.9h0M302.5 211.1h0M304.6 231.8h0M296.6 227.7h0M294.5 221.3h0M292.6 213.5h0M298.3 210.6h0M303.2 227.7h0M300.4 228.5h0M293.2 217.7h0M294.3 208.3h0M305.3 214.4h0M294.4 220.4h0M295.6 210.3h0M294.2 215.6h0M298.3 206.9h0M300.8 212.6h0M301.2 206.0h0M295.7 215.7h0M298.2 221.3h0M294.3 211.3h0M291.7 216.5h0M294.9 219.5h0M299.9 227.9h0M297.0 219.6h0M301.8 217.5h0M302.9 226.4h0M293.7 210.0h0M292.3 213.9h0M292.4 215.2h0M296.6 210.5h0M302.1 206.7h0M294.3 222.6h0M297.5 206.6h0M295.2 208.8h0M301.7 217.6h0M293.1 210.0h0M298.8 212.9h0M293.4 209.0h0M292.1 217.2h0M293.5 205.8h0M301.5 214.8h0M298.9 215.0h0M303.7 221.7h0" stroke="#e4283e" stroke-width="0.8" stroke-linecap="round" fill="none" stroke-opacity="0.8"/>
<path d="M300.8 208.7h0M303.8 211.3h0M295.2 206.0h0M299.5 227.1h0M294.1 209.3h0M298.8 213.9h0M294.2 224.7h0M305.3 223.4h0M298.0 210.9h0M296.0 216.5h0M294.9 218.4h0M294.1 219.1h0M297.7 222.7h0M305.1 217.8h0M295.7 220.5h0M294.4 220.5h0M305.1 212.4h0M301.9 216.6h0M298.0 208.3h0M300.4 213.0h0M300.5 210.4h0M291.6 206.5h0M302.3 209.0h0M305.9 229.7h0M299.9 225.0h0M300.4 211.1h0M303.8 225.0h0M293.8 214.4h0M297.8 225.4h0M298.7 222.8h0M297.7 218.4h0M301.9 227.6h0M295.0 210.6h0M303.1 213.2h0M292.7 210.6h0M298.5 225.5h0M304.3 218.1h0M303.6 207.5h0M304.7 224.7h0M300.3 209.4h0M304.9 211.3h0M296.8 222.5h0M296.1 211.1h0M303.0 227.1h0M302.5 212.5h0M296.8 216.9h0M304.7 213.4h0M293.5 207.5h0M299.0 207.5h0M295.1 214.8h0M298.2 217.4h0M303.8 220.0h0M298.3 210.4h0M300.8 213.1h0M294.7 222.3h0M300.6 206.3h0M306.5 207.6h0M293.1 208.7h0M294.2 207.0h0M298.6 220.2h0M296.1 214.1h0M304.6 225.5h0M298.7 208.6h0M305.1 222.8h0M306.3 214.4h0M293.7 224.1h0M300.6 211.4h0M295.8 216.8h0M305.4 231.7h0M304.0 226.2h0M293.8 218.0h0M300.3 228.1h0M302.8 226.8h0M302.3 210.3h0M302.3 230.2h0M299.0 228.4h0M294.0 220.1h0M302.6 221.4h0M302.1 225.0h0M291.9 210.7h0M299.5 220.0h0M297.7 227.7h0M299.3 215.0h0M303.7 216.3h0M303.7 220.5h0M303.4 223.5h0M297.7 227.2h0M292.7 218.2h0M293.3 209.8h0M304.5 212.1h0M296.7 208.1h0M304.9 226.6h0M291.6 207.6h0M298.6 220.8h0M295.2 213.4h0M294.9 214.8h0M292.1 220.5h0M301.5 208.4h0M296.0 221.5h0M304.2 231.6h0M295.2 210.3h0M295.8 215.5h0M304.8 210.1h0M304.4 212.2h0M300.8 226.3h0M296.4 214.1h0M293.3 221.9h0M305.5 224.1h0M306.6 212.3h0M291.7 207.9h0M302.1 226.6h0M304.4 220.6h0M302.8 214.0h0M295.2 215.2h0M300.6 218.8h0M301.5 228.1h0M306.0 217.3h0M294.1 210.0h0M299.1 222.9h0M296.2 221.3h0M292.5 221.3h0M306.0 214.1h0M300.4 206.2h0M295.1 223.0h0M302.7 221.0h0M303.1 217.4h0M303.1 228.8h0M301.5 211.5h0M296.7 222.1h0M306.8 211.5h0M302.2 228.8h0M292.2 209.2h0" stroke="#e86080" stroke-width="0.8" stroke-linecap="round" fill="none" stroke-opacity="0.8"/>
<path d="M303.3 211.2h0M306.2 213.3h0M302.3 206.4h0M300.6 227.0h0M300.0 224.0h0M306.9 213.6h0M292.0 205.1h0M296.4 219.9h0M293.8 219.9h0M298.3 218.7h0M297.6 209.1h0M300.9 219.4h0M292.8 207.3h0M301.3 224.9h0M306.6 212.2h0M295.8 218.9h0M298.2 207.3h0M305.9 229.8h0M301.4 208.3h0M295.1 211.2h0M298.4 221.9h0M305.5 214.4h0M301.3 219.8h0M299.9 224.9h0M293.8 218.5h0M299.7 215.9h0M300.0 206.0h0M297.8 210.7h0M305.2 220.0h0M293.2 211.7h0" stroke="#4b95d3" stroke-width="0.8" stroke-linecap="round" fill="none" stroke-opacity="0.8"/>
<path d="M300.3 216.7h0M305.1 227.5h0M299.8 219.0h0M303.0 213.7h0M303.5 225.6h0M292.3 209.7h0M297.4 207.1h0M305.2 207.0h0M302.4 221.9h0M306.2 216.5h0M300.5 216.6h0M293.3 223.3h0M301.9 209.0h0M304.2 223.9h0M302.4 216.8h0M292.0 210.9h0M294.4 221.9h0M299.4 221.4h0M297.4 208.5h0M304.1 219.7h0M291.9 215.4h0M306.4 217.6h0M303.5 232.1h0M302.6 219.9h0M297.4 219.8h0M305.0 208.2h0M299.2 210.3h0M292.8 213.9h0M292.8 216.4h0M291.9 205.0h0M299.0 213.4h0M303.3 219.5h0M304.9 218.9h0M299.2 210.1h0M295.5 207.3h0M301.0 218.4h0M302.2 208.8h0M295.3 214.0h0M298.1 219.1h0M305.2 217.9h0M301.9 214.3h0M296.2 226.5h0M295.2 213.6h0M298.1 209.0h0M303.2 219.5h0M304.7 209.7h0M295.7 215.0h0M302.6 213.0h0M300.8 224.2h0M297.0 225.7h0M303.8 229.9h0M298.2 208.9h0M299.4 211.6h0M302.2 209.1h0M301.4 207.4h0M303.3 206.4h0M300.1 229.6h0M298.1 212.4h0M301.1 208.8h0M293.8 211.2h0M301.2 220.8h0M298.5 208.0h0M296.2 215.6h0M303.4 229.3h0M296.0 221.0h0M293.7 220.3h0M305.1 221.0h0M297.5 227.2h0" stroke="#9a6aa8" stroke-width="0.8" stroke-linecap="round" fill="none" stroke-opacity="0.8"/>
<path d="M292.1 254.7h0M305.4 236.6h0M288.2 250.6h0M296.8 228.6h0M297.6 249.9h0M288.1 249.3h0M289.9 230.9h0M303.5 230.6h0M300.1 227.8h0M286.8 241.6h0M302.1 243.2h0M285.5 240.3h0M294.7 254.1h0M296.0 227.8h0" stroke="#e4283e" stroke-width="0.7" stroke-linecap="round" fill="none" stroke-opacity="0.55"/>
<path d="M286.2 242.3h0M300.1 245.6h0M297.7 228.1h0M303.4 230.3h0M302.2 243.7h0M301.9 230.1h0" stroke="#e86080" stroke-width="0.7" stroke-linecap="round" fill="none" stroke-opacity="0.55"/>
<path d="M291.2 254.5h0M291.9 228.6h0" stroke="#4b95d3" stroke-width="0.7" stroke-linecap="round" fill="none" stroke-opacity="0.55"/>
<path d="M290.1 252.8h0M293.4 253.9h0M295.8 251.5h0M296.2 251.6h0M288.9 250.5h0" stroke="#9a6aa8" stroke-width="0.7" stroke-linecap="round" fill="none" stroke-opacity="0.55"/>
<path d="M288.0 231.8 L292.3 230.1 L296.6 229.2 L301.0 230.1 L305.3 233.5 L303.5 237.9 L301.0 243.9 L297.5 250.0 L293.2 253.4 L291.0 252.6 L288.0 246.5 L286.7 239.6Z" fill="#e06080" fill-opacity="0.35"/>
<path d="M287.6 239.9h0M293.9 246.2h0M298.1 232.4h0M290.3 236.9h0M287.3 237.5h0M291.9 237.1h0M298.1 240.4h0M292.9 242.7h0M294.0 233.3h0M298.7 237.9h0M288.5 247.0h0M294.1 245.7h0M290.6 235.7h0M299.9 238.0h0M294.1 251.6h0M291.6 246.5h0M292.4 237.3h0M299.0 244.9h0M292.2 235.9h0M300.8 231.4h0M289.0 242.4h0M291.0 244.9h0M299.2 246.9h0M290.6 244.1h0M296.0 234.2h0M294.5 243.6h0M302.5 233.9h0M287.2 240.6h0M293.6 240.9h0M295.5 251.5h0M292.1 247.2h0M300.2 239.6h0M299.9 230.7h0M295.3 236.2h0M296.6 245.4h0M292.4 236.1h0M290.3 234.6h0M295.8 250.6h0M298.4 237.9h0M294.9 246.8h0M297.7 246.9h0M301.1 238.4h0M296.2 230.2h0M295.7 238.4h0M294.8 237.5h0M289.3 237.0h0M295.2 239.1h0M293.2 252.5h0M299.9 234.9h0M299.1 244.2h0M298.8 234.5h0M290.9 235.7h0M294.2 236.4h0M292.6 243.8h0M294.7 244.3h0M292.3 249.6h0M304.7 234.2h0M287.3 236.3h0M288.2 237.6h0M298.4 248.2h0M288.8 245.0h0M291.5 242.0h0M293.2 237.3h0M292.7 230.9h0M298.6 241.1h0M297.0 238.5h0M302.6 239.7h0M294.5 242.9h0M301.4 232.1h0M290.6 245.3h0M296.8 239.0h0M294.3 230.4h0M287.9 234.9h0M290.4 237.8h0M297.1 247.6h0M293.5 232.4h0M299.5 238.0h0M294.8 233.0h0M292.6 233.8h0M290.4 248.4h0M299.6 232.1h0M296.0 235.5h0M296.7 229.4h0M297.7 245.8h0M301.2 241.5h0M293.1 230.7h0M287.4 236.2h0M299.7 244.2h0M299.6 243.1h0M291.0 240.3h0M301.4 241.2h0M297.3 236.1h0M296.8 247.7h0M292.8 233.4h0M301.3 242.8h0M297.6 234.6h0M297.4 229.6h0M292.3 239.4h0M292.4 234.8h0M290.6 231.0h0M297.4 229.4h0M299.3 231.3h0M289.8 232.4h0M295.4 232.8h0M287.8 236.2h0M292.1 246.8h0M299.5 231.4h0M295.9 246.8h0M303.9 234.4h0M295.2 250.0h0M293.6 233.0h0M291.6 250.2h0M304.4 234.4h0M291.0 246.2h0M291.7 238.5h0M288.8 241.4h0M293.3 238.7h0M300.2 230.9h0M300.5 239.3h0M300.9 243.4h0M291.5 244.6h0M296.5 237.0h0M290.0 235.9h0M292.4 252.5h0M297.0 250.3h0M293.3 249.2h0M298.5 240.6h0M299.1 245.4h0M302.7 239.8h0M300.3 230.0h0M297.0 237.0h0M295.1 237.7h0M293.9 238.1h0M298.7 231.8h0M298.8 238.4h0M291.3 241.9h0M297.5 249.2h0M290.3 248.6h0M294.0 234.4h0M301.1 237.4h0M302.7 235.9h0M297.7 236.8h0M298.2 230.6h0M293.4 237.8h0M297.7 248.6h0M294.1 234.3h0M295.8 241.1h0M294.1 247.8h0M296.3 234.1h0M295.4 243.8h0M296.5 248.9h0M292.9 240.1h0M295.9 237.0h0M299.3 237.5h0M293.5 253.0h0M294.7 241.9h0M302.0 233.1h0M290.5 251.3h0M292.3 251.1h0M290.9 241.8h0M289.1 236.7h0M293.4 252.8h0M293.9 232.1h0M296.9 237.4h0M296.0 235.2h0M287.5 236.6h0M293.8 248.0h0M294.3 250.4h0M290.0 248.3h0M289.8 242.8h0M296.5 236.2h0M289.7 242.4h0M287.5 241.2h0M298.7 235.5h0M294.3 238.3h0M294.7 240.0h0M297.1 231.3h0M291.0 236.2h0M291.1 233.3h0M300.4 244.7h0M300.3 237.6h0M292.3 248.7h0M291.4 235.6h0M301.8 240.8h0M300.6 237.7h0M297.4 231.5h0M290.1 232.3h0M295.2 243.1h0M297.1 240.8h0M296.3 248.9h0M288.7 236.4h0M295.9 231.0h0M289.1 245.5h0M303.1 234.1h0M290.9 243.6h0M290.9 241.9h0M288.1 236.5h0M289.0 240.8h0M301.5 237.8h0M296.7 231.3h0M288.3 238.1h0M291.1 234.3h0M304.1 235.0h0M292.6 247.6h0M292.9 235.7h0M296.4 237.7h0M294.2 236.8h0M289.3 236.0h0M295.2 236.4h0M301.9 234.3h0M287.0 239.0h0M292.0 248.9h0M300.8 231.9h0M293.2 241.1h0M299.6 242.6h0M302.8 234.8h0M293.2 235.3h0M288.6 238.5h0M303.2 233.9h0M298.0 233.3h0M293.2 238.1h0M303.1 233.4h0" stroke="#e4283e" stroke-width="0.8" stroke-linecap="round" fill="none" stroke-opacity="0.8"/>
<path d="M292.8 241.6h0M295.5 237.5h0M293.6 248.9h0M299.6 242.9h0M289.8 247.2h0M294.8 236.4h0M304.3 235.1h0M289.5 239.2h0M288.7 240.3h0M290.6 247.6h0M304.6 234.0h0M295.7 247.9h0M293.9 250.9h0M289.6 243.3h0M291.0 244.6h0M294.5 236.1h0M289.8 235.9h0M298.7 232.4h0M289.5 243.2h0M302.5 238.1h0M288.5 235.3h0M299.9 237.0h0M292.2 239.3h0M301.2 232.9h0M295.5 234.8h0M300.4 241.3h0M287.5 236.1h0M289.2 242.8h0M289.5 246.3h0M287.7 240.0h0M302.0 233.9h0M289.6 237.8h0M287.8 241.2h0M294.3 234.7h0M289.3 238.2h0M291.7 231.0h0M293.2 242.9h0M289.8 239.7h0M290.0 241.3h0M301.2 234.0h0M292.8 241.0h0M295.4 244.2h0M301.3 236.5h0M303.3 233.2h0M290.8 240.6h0M293.0 233.5h0M288.4 240.6h0M295.4 234.1h0M292.3 247.4h0M292.5 238.9h0M299.6 243.9h0M302.7 236.4h0M303.1 235.6h0M297.7 237.3h0M296.1 232.5h0M294.1 232.5h0M294.8 234.4h0M290.3 241.2h0M292.2 245.2h0M292.2 237.4h0M292.5 240.2h0M288.6 237.0h0M287.9 241.7h0M289.4 247.9h0M299.3 234.8h0M302.6 237.7h0M289.6 246.9h0M292.9 238.3h0M290.8 230.8h0M296.0 241.8h0M288.6 235.4h0M287.9 237.3h0M296.2 239.1h0M292.5 230.6h0M291.9 230.7h0M290.9 252.0h0M298.2 247.0h0M288.1 233.6h0M292.4 241.0h0M300.0 237.9h0M298.0 230.5h0M296.4 249.7h0M295.9 244.0h0M293.7 239.3h0M304.9 233.4h0M292.6 235.6h0M293.9 252.8h0M295.1 251.7h0M299.2 245.6h0M301.6 242.3h0M297.6 245.8h0M302.1 235.3h0M299.6 231.3h0M288.8 246.7h0M292.8 244.7h0M294.2 247.7h0M296.8 240.2h0M290.1 233.0h0M297.1 239.3h0M297.3 239.7h0M290.3 238.7h0M300.1 241.3h0M288.4 235.8h0M301.2 241.4h0M293.5 246.4h0M300.6 239.4h0M291.5 251.6h0M296.4 231.1h0M299.1 236.0h0M304.2 236.0h0M294.0 247.7h0M292.3 248.4h0M299.4 239.4h0M296.5 244.0h0M296.8 239.6h0M300.1 240.1h0" stroke="#e86080" stroke-width="0.8" stroke-linecap="round" fill="none" stroke-opacity="0.8"/>
<path d="M288.6 246.7h0M290.3 239.1h0M299.2 245.6h0M294.5 235.3h0M288.6 234.3h0M291.8 247.1h0M296.8 232.2h0M296.7 234.5h0M301.3 231.8h0M288.4 231.7h0M288.7 239.2h0M300.8 233.0h0M296.9 244.8h0M301.1 237.2h0M301.4 235.7h0M294.9 245.8h0M291.6 249.6h0M296.3 233.0h0M293.2 245.6h0M297.4 234.5h0M291.6 233.4h0M290.8 241.5h0M294.4 235.4h0M302.0 236.8h0M291.2 249.9h0M292.6 251.3h0M290.1 234.3h0M292.1 246.7h0" stroke="#4b95d3" stroke-width="0.8" stroke-linecap="round" fill="none" stroke-opacity="0.8"/>
<path d="M294.7 240.7h0M286.9 239.7h0M303.7 233.0h0M296.8 239.4h0M291.0 236.5h0M292.4 249.9h0M303.7 233.9h0M293.2 250.4h0M295.2 244.9h0M294.9 242.0h0M297.4 238.8h0M301.8 238.2h0M297.8 230.2h0M300.0 236.9h0M304.4 235.3h0M298.1 237.1h0M299.7 239.6h0M300.7 237.9h0M289.8 232.5h0M293.3 241.1h0M296.6 247.3h0M295.3 240.8h0M298.1 241.8h0M295.4 245.2h0M293.4 236.9h0M294.3 233.3h0M302.8 235.5h0M301.5 232.8h0M299.5 240.2h0M297.5 236.1h0M290.4 250.3h0M292.3 247.3h0M297.8 230.0h0M298.6 241.5h0M297.5 230.5h0M295.9 245.7h0M291.1 241.7h0M295.8 246.3h0M287.9 240.3h0M291.2 242.4h0M288.9 236.8h0M296.1 247.0h0M296.3 231.5h0M295.0 235.1h0M300.7 242.7h0M290.4 250.8h0M290.9 233.3h0M297.0 238.8h0M291.0 234.0h0M299.7 240.3h0M290.7 234.5h0M298.8 235.0h0M289.2 233.3h0M301.0 233.2h0" stroke="#9a6aa8" stroke-width="0.8" stroke-linecap="round" fill="none" stroke-opacity="0.8"/>
<path d="M296.4 231.4h0M293.5 228.4h0M296.9 227.8h0M295.6 232.4h0M293.4 231.5h0M292.5 227.2h0M295.6 228.4h0M294.3 232.0h0M292.6 227.6h0M295.2 227.6h0M294.2 227.5h0M295.3 230.6h0M296.9 228.1h0" stroke="#ffffff" stroke-width="1.0" stroke-linecap="round" fill="none"/>
<path d="M253.2 219.2h0M255.5 221.1h0M253.7 225.4h0M255.6 222.0h0M253.2 226.3h0" stroke="#e4283e" stroke-width="0.7" stroke-linecap="round" fill="none" stroke-opacity="0.55"/>
<path d="M245.0 222.3h0M252.3 218.6h0" stroke="#4b95d3" stroke-width="0.7" stroke-linecap="round" fill="none" stroke-opacity="0.55"/>
<path d="M255.0 222.5 L254.8 223.7 L254.0 224.7 L252.9 225.6 L251.5 226.1 L250.0 226.3 L248.5 226.1 L247.1 225.6 L246.0 224.7 L245.2 223.7 L245.0 222.5 L245.2 221.3 L246.0 220.3 L247.1 219.4 L248.5 218.9 L250.0 218.7 L251.5 218.9 L252.9 219.4 L254.0 220.3 L254.8 221.3Z" fill="#e04058" fill-opacity="0.35"/>
<path d="M252.1 220.7h0M250.4 221.2h0M252.9 219.5h0M248.0 222.4h0M253.6 223.2h0M254.3 221.5h0M246.9 222.8h0M251.6 222.1h0M251.4 222.9h0M249.8 226.1h0M249.9 223.0h0M248.2 223.2h0M250.8 225.7h0M249.6 221.8h0M252.6 220.7h0M251.1 219.8h0M250.4 222.7h0M254.3 223.2h0M252.3 224.9h0M248.3 225.5h0M252.0 219.5h0M251.1 221.0h0M253.0 219.5h0M252.2 221.7h0M253.8 223.5h0M248.9 219.0h0M252.2 222.8h0M247.2 222.8h0M253.5 224.3h0M249.8 226.0h0M254.0 223.6h0M246.1 222.5h0M250.5 222.8h0M247.9 220.4h0M248.0 220.6h0M253.0 220.4h0M251.1 225.0h0M254.3 221.8h0M251.4 224.5h0M248.6 219.5h0M254.3 222.4h0M250.5 219.8h0M250.4 222.0h0M251.5 219.4h0M247.9 222.8h0M252.7 223.7h0M249.0 223.5h0M253.4 220.1h0M247.1 225.2h0M246.4 224.6h0M247.7 224.0h0M251.6 223.8h0M252.7 220.8h0M249.4 223.2h0M252.1 221.8h0M248.5 223.5h0M249.0 223.9h0M248.3 219.1h0M254.5 222.5h0M250.6 222.0h0M245.5 222.8h0M250.1 221.7h0M253.7 222.7h0M251.0 221.4h0M248.1 221.5h0M248.4 221.4h0M252.6 224.5h0M248.8 224.2h0M250.1 224.1h0M248.9 224.2h0M246.4 222.5h0M246.4 224.6h0M250.3 219.1h0M254.7 222.4h0" stroke="#e4283e" stroke-width="0.8" stroke-linecap="round" fill="none" stroke-opacity="0.85"/>
<path d="M249.6 223.5h0M246.3 220.6h0M251.5 223.7h0M251.8 219.6h0M246.6 220.6h0M248.9 222.9h0M251.6 225.3h0M246.2 222.8h0M248.6 220.6h0M250.1 222.5h0M246.3 223.3h0M251.2 222.8h0M245.9 222.8h0M252.0 221.1h0M250.1 223.1h0M253.2 220.5h0M251.2 221.4h0M247.0 223.6h0M250.9 222.0h0" stroke="#4b95d3" stroke-width="0.8" stroke-linecap="round" fill="none" stroke-opacity="0.85"/>
<path d="M271.7 220.1h0M278.7 216.0h0" stroke="#e4283e" stroke-width="0.7" stroke-linecap="round" fill="none" stroke-opacity="0.55"/>
<path d="M271.0 223.0 L272.0 219.5 L274.5 217.5 L276.8 215.5 L278.2 216.5 L276.8 219.5 L275.5 222.5 L272.8 224.6Z" fill="#d83048" fill-opacity="0.45"/>
<path d="M272.5 223.1h0M275.8 220.6h0M275.6 220.4h0M273.7 220.0h0M273.5 220.7h0M275.5 222.2h0M273.6 221.3h0M275.4 217.9h0M273.2 220.2h0M271.5 223.0h0M272.9 223.3h0M272.7 220.2h0M276.9 215.8h0M273.2 221.9h0M271.8 222.8h0M273.5 223.5h0M272.7 222.5h0M277.2 218.5h0M275.1 222.6h0M274.3 221.1h0M272.2 220.0h0M274.5 221.5h0M275.0 219.1h0M277.1 217.2h0M274.8 218.0h0M275.0 220.2h0M275.5 221.7h0M272.2 222.7h0M271.6 221.3h0M272.0 220.0h0M275.4 222.0h0M273.6 219.8h0M275.4 220.1h0M277.0 216.3h0M274.1 223.4h0M273.3 221.7h0M277.3 217.1h0M276.3 218.1h0M273.9 223.2h0M273.9 220.7h0M275.2 222.7h0M271.1 222.9h0M276.6 219.3h0M273.0 223.2h0M275.3 217.4h0M275.2 221.0h0M275.3 217.2h0M275.0 218.4h0M273.7 219.7h0M272.8 219.2h0" stroke="#e4283e" stroke-width="0.8" stroke-linecap="round" fill="none" stroke-opacity="0.85"/>
<path d="M274.0 218.5h0M275.7 217.8h0M274.7 218.3h0M275.1 218.8h0M275.1 218.8h0M276.0 220.9h0M274.5 219.1h0M273.9 219.6h0M273.2 223.8h0M273.1 220.7h0M272.3 220.2h0M273.1 224.2h0" stroke="#8a2040" stroke-width="0.8" stroke-linecap="round" fill="none" stroke-opacity="0.85"/>
<path d="M276.0 212.9h0M276.1 213.8h0M276.3 212.8h0M277.1 214.8h0M276.7 214.2h0M277.3 213.0h0M277.2 213.8h0M277.0 215.0h0M276.1 214.2h0M276.4 212.2h0" stroke="#e4283e" stroke-width="0.7" stroke-linecap="round" fill="none" stroke-opacity="0.8"/>
<path d="M276.2 212.1h0" stroke="#8a2040" stroke-width="0.7" stroke-linecap="round" fill="none" stroke-opacity="0.8"/>
<path d="M327.5 232.0h0M317.1 224.2h0M320.0 226.6h0M326.9 230.2h0M328.1 230.4h0M317.2 230.0h0M328.2 230.4h0M317.7 227.4h0M329.5 232.3h0M319.1 230.9h0M318.7 228.0h0M330.0 231.4h0M317.9 226.8h0M328.8 230.6h0M319.4 229.6h0M325.6 231.3h0M317.7 225.9h0M320.4 227.5h0M329.7 233.2h0" stroke="#e4283e" stroke-width="0.6" stroke-linecap="round" fill="none" stroke-opacity="0.7"/>
<path d="M317.7 226.2h0M318.7 222.4h0M319.8 226.0h0M318.6 225.5h0M327.1 233.2h0" stroke="#4b95d3" stroke-width="0.6" stroke-linecap="round" fill="none" stroke-opacity="0.7"/>
<path d="M258.8 197.0h0M260.0 197.2h0M261.2 197.0h0" stroke="#9a9a9a" stroke-width="0.7" stroke-linecap="round" fill="none"/>
<path d="M427.4 180.0h0M403.2 182.9h0M416.1 211.8h0M436.5 203.2h0M404.0 205.3h0M436.2 199.7h0M437.5 198.7h0M400.5 195.8h0M435.9 184.9h0M412.6 180.5h0M425.8 208.8h0M411.9 179.3h0M418.6 210.2h0M418.6 211.1h0M397.9 192.4h0M405.7 204.9h0M429.4 181.3h0M411.6 211.1h0M438.4 191.2h0M426.8 208.3h0M399.2 200.9h0M410.4 179.5h0M420.9 177.7h0M435.7 191.1h0M428.4 179.3h0M436.7 193.9h0M437.0 199.8h0M411.8 179.4h0M406.8 208.4h0" stroke="#9a6aa8" stroke-width="0.7" stroke-linecap="round" fill="none" stroke-opacity="0.55"/>
<path d="M401.0 189.1h0M427.3 179.3h0M433.8 203.2h0M413.7 177.6h0M420.3 178.0h0M430.6 207.2h0M425.4 179.8h0M432.6 207.5h0M431.1 206.7h0M411.3 210.0h0M399.8 190.5h0M436.7 187.9h0M413.5 177.8h0" stroke="#4b95d3" stroke-width="0.7" stroke-linecap="round" fill="none" stroke-opacity="0.55"/>
<path d="M402.8 201.9h0M415.4 211.3h0M432.4 205.0h0M420.7 211.9h0M402.1 202.5h0M400.5 202.8h0M403.1 202.6h0M401.4 188.0h0M408.6 181.3h0M403.5 183.9h0M401.5 187.3h0M438.2 195.6h0M409.4 208.7h0M418.1 177.4h0M416.0 212.0h0M399.6 188.9h0M430.1 206.5h0M400.2 190.7h0" stroke="#e4283e" stroke-width="0.7" stroke-linecap="round" fill="none" stroke-opacity="0.55"/>
<path d="M436.0 194.5 L435.6 197.8 L434.3 200.9 L432.2 203.7 L429.4 206.1 L426.1 207.8 L422.4 208.9 L418.5 209.3 L414.6 208.9 L410.9 207.8 L407.6 206.1 L404.8 203.7 L402.7 200.9 L401.4 197.8 L401.0 194.5 L401.4 191.2 L402.7 188.1 L404.8 185.3 L407.6 182.9 L410.9 181.2 L414.6 180.1 L418.5 179.7 L422.4 180.1 L426.1 181.2 L429.4 182.9 L432.2 185.3 L434.3 188.1 L435.6 191.2Z" fill="#a890c8" fill-opacity="0.1"/>
<path d="M420.0 195.0h0M431.6 195.7h0M434.6 199.7h0M428.6 188.5h0M424.9 202.9h0M424.4 184.6h0M422.3 190.4h0M433.8 196.1h0M417.6 189.2h0M421.6 182.8h0M404.9 189.8h0M428.6 196.9h0M405.8 200.3h0M433.0 193.0h0M424.4 199.6h0M431.3 197.7h0M412.2 205.2h0M431.0 197.7h0M419.5 192.7h0M413.1 207.5h0M414.8 182.9h0M421.5 190.8h0M412.1 207.7h0M434.1 201.0h0M412.3 185.9h0M411.7 202.5h0M421.3 186.9h0M404.9 194.6h0M428.7 203.0h0M421.7 197.0h0M416.1 189.4h0M412.8 198.0h0M406.3 191.1h0M435.2 194.6h0M429.5 185.0h0M431.1 202.4h0M433.3 198.6h0M415.1 200.8h0M417.8 204.0h0M435.1 192.0h0M429.0 196.6h0M423.0 186.1h0M413.4 193.5h0M433.8 195.6h0M429.0 186.6h0M415.6 187.1h0M423.3 194.4h0M433.8 192.9h0M415.7 183.2h0M433.7 199.4h0M432.5 200.6h0M430.4 201.1h0M404.9 197.0h0M431.7 189.5h0M423.5 187.3h0M419.7 208.8h0M406.6 201.9h0M428.6 199.7h0M405.3 203.6h0M431.6 192.2h0M424.5 202.0h0M409.7 189.7h0M426.9 192.0h0M405.8 191.7h0M402.9 194.6h0M421.7 180.8h0M415.0 189.2h0M416.7 193.7h0M407.3 191.7h0M423.9 193.9h0M405.7 204.4h0M431.9 185.7h0M418.2 203.0h0M425.7 199.5h0M411.5 199.1h0M430.1 202.8h0M420.2 180.3h0M405.3 194.3h0M433.0 192.2h0M431.1 197.3h0M404.4 194.5h0M409.6 202.7h0M427.5 206.5h0M414.5 182.6h0M405.5 191.5h0M420.8 191.8h0M432.8 193.0h0M435.1 198.4h0M411.4 193.8h0M424.8 181.0h0M433.9 198.3h0M434.4 190.9h0M417.8 185.8h0M424.8 192.5h0M407.6 196.3h0M415.6 196.5h0M432.6 189.6h0M429.0 191.8h0M406.9 197.3h0M409.9 206.3h0M432.2 192.2h0M411.7 189.0h0M406.1 189.4h0M412.8 203.2h0M403.5 192.5h0M425.6 202.9h0M422.8 191.8h0M414.9 194.9h0M405.6 197.9h0M433.1 201.0h0M414.4 189.3h0M415.2 194.7h0M428.6 195.3h0M421.0 181.1h0M423.5 199.6h0M419.9 206.2h0M404.8 189.2h0M434.8 197.3h0M429.9 203.8h0M412.0 203.6h0M425.3 189.6h0M425.1 203.0h0M418.8 195.6h0M431.3 193.5h0M420.0 197.1h0M422.4 189.9h0M418.2 202.0h0M411.8 189.0h0M413.8 184.2h0M407.8 183.2h0M406.0 188.8h0M433.1 195.6h0M421.0 205.6h0M409.9 200.3h0M423.8 184.1h0M428.4 202.2h0M412.0 189.3h0M420.0 195.7h0M426.6 202.4h0M426.9 199.5h0M417.8 197.7h0M428.3 195.4h0M417.0 192.2h0M431.9 194.2h0M426.7 194.8h0M431.0 203.3h0M424.9 192.7h0M413.5 198.3h0M425.6 197.3h0M402.3 197.9h0M421.3 184.2h0M430.8 197.1h0M402.3 199.9h0M411.4 196.6h0M419.1 180.8h0M420.0 197.9h0M406.9 200.5h0M416.8 207.7h0M414.3 182.2h0M433.2 188.0h0M429.0 205.6h0M405.8 188.4h0M408.2 195.2h0M411.2 206.8h0M418.3 207.9h0M409.1 204.8h0M413.8 204.9h0M413.2 180.9h0M430.9 194.5h0M423.7 199.2h0M430.7 203.5h0M414.6 205.5h0M404.4 187.3h0M407.9 191.8h0M428.1 187.2h0M415.9 207.5h0M424.1 192.4h0M434.1 195.3h0M407.3 188.0h0M410.4 191.1h0M435.3 197.6h0M403.0 192.5h0M419.7 186.0h0M424.8 194.6h0M427.7 185.9h0M413.1 181.4h0M428.5 186.3h0M428.5 189.2h0M404.3 194.7h0M414.5 200.3h0M424.2 186.4h0M414.1 180.9h0M411.1 191.9h0M423.3 205.2h0M429.5 202.4h0M422.1 190.4h0M414.9 206.3h0M418.0 189.4h0M425.9 207.0h0M413.3 183.4h0M422.0 192.9h0M423.6 181.1h0M412.2 183.8h0M416.3 205.1h0M405.9 189.8h0M422.6 205.4h0M408.6 186.3h0M402.4 196.6h0M405.5 193.5h0M414.2 197.3h0M414.2 181.6h0M409.8 204.2h0M415.7 196.9h0M405.9 199.9h0M418.8 204.6h0M427.8 195.5h0M406.1 198.8h0M429.2 190.1h0M417.0 198.0h0M418.2 189.5h0M407.7 188.3h0M422.5 181.1h0M428.3 186.3h0M416.7 205.1h0M427.1 183.2h0M422.6 193.6h0M422.8 187.2h0M415.6 188.5h0M422.8 181.4h0M413.5 206.9h0M422.4 180.4h0M426.2 195.9h0M423.1 186.8h0M422.6 199.9h0M427.2 193.6h0M428.3 185.9h0M417.6 196.2h0M433.6 196.3h0M426.5 195.2h0M428.8 205.1h0M404.6 193.1h0M412.7 200.5h0M408.7 185.2h0M418.6 186.9h0M411.1 206.8h0M408.3 194.4h0M423.5 194.1h0M421.9 182.4h0M434.9 190.3h0M406.1 193.5h0M411.1 203.8h0M415.3 203.9h0M426.6 190.0h0M425.0 189.3h0M412.1 205.9h0M432.5 192.9h0M428.2 201.8h0M423.3 196.9h0M422.1 181.9h0M431.9 202.5h0M411.4 186.3h0M426.4 206.2h0M424.8 206.6h0M422.4 198.3h0M421.7 188.3h0" stroke="#9a6aa8" stroke-width="0.55" stroke-linecap="round" fill="none" stroke-opacity="0.55"/>
<path d="M424.4 199.5h0M408.4 183.1h0M415.3 191.9h0M405.2 202.0h0M406.9 185.7h0M412.4 198.4h0M412.1 181.4h0M424.8 182.2h0M412.8 187.8h0M412.3 189.4h0M411.3 182.6h0M426.1 202.0h0M413.3 195.9h0M417.5 186.1h0M409.1 184.9h0M407.5 199.8h0M432.8 195.8h0M410.0 186.3h0M411.1 194.8h0M426.8 183.3h0M429.6 184.7h0M412.4 203.6h0M424.9 186.6h0M421.6 195.9h0M423.5 181.7h0M434.3 198.6h0M421.1 200.6h0M428.6 188.3h0M429.7 194.2h0M426.6 191.1h0M402.9 191.3h0M417.3 195.7h0M434.2 196.6h0M418.9 184.7h0M420.2 185.7h0M428.4 202.3h0M416.1 190.8h0M408.2 196.4h0M417.1 184.6h0M405.3 198.2h0M403.3 187.8h0M433.2 199.9h0M418.5 201.0h0M409.1 192.4h0M409.0 202.0h0M407.3 196.2h0M402.3 194.8h0M407.6 201.9h0M417.9 189.6h0M425.8 205.8h0M432.9 192.4h0M407.3 204.6h0M414.2 188.5h0M412.2 191.8h0M420.9 193.1h0M403.7 199.0h0M424.8 188.9h0M418.8 205.5h0M423.3 208.6h0M419.5 181.5h0M405.7 194.0h0M416.9 205.3h0M419.9 203.3h0M428.2 188.4h0M434.4 190.3h0M413.1 189.9h0M418.0 181.9h0M417.4 188.3h0M431.2 194.8h0M412.7 187.0h0M402.1 194.1h0M417.3 193.7h0M421.8 184.9h0M408.2 194.0h0M426.6 206.1h0M421.2 185.7h0M425.6 200.2h0M406.6 190.1h0M426.3 186.6h0M433.7 196.4h0M425.5 200.7h0M419.6 185.8h0M432.7 189.8h0M416.5 183.9h0M417.7 183.6h0M429.7 202.3h0M420.8 201.4h0M408.9 182.8h0M404.0 196.1h0M416.5 201.3h0M431.7 185.9h0M419.4 181.7h0M428.7 185.7h0M418.6 197.7h0M407.8 189.7h0M434.0 198.8h0M407.1 197.9h0M409.4 201.2h0M433.9 193.0h0M431.6 190.9h0M430.3 194.5h0M427.0 194.8h0M411.3 207.8h0M413.2 194.6h0M424.0 208.4h0M421.4 184.9h0M405.2 186.5h0M413.4 198.2h0M414.5 192.8h0M411.7 190.6h0M417.3 205.2h0M429.2 205.3h0M430.6 189.4h0M413.4 189.6h0M412.5 196.4h0M406.3 199.6h0M429.5 203.5h0M418.8 208.8h0M420.7 200.1h0M429.8 200.2h0M407.4 201.5h0M406.2 195.1h0M412.1 195.4h0M406.4 193.4h0M421.9 187.4h0M421.5 181.2h0M432.4 199.0h0M432.7 193.4h0M415.0 194.4h0M426.5 188.1h0M404.2 193.7h0M431.8 199.1h0M423.6 181.0h0M423.0 181.1h0M422.6 198.7h0M414.7 201.6h0M409.7 189.1h0M410.5 191.2h0M406.2 204.1h0M404.8 195.2h0M423.7 181.9h0M434.6 199.7h0M429.2 206.0h0M424.4 191.1h0M418.6 198.5h0M415.6 202.8h0M408.3 199.0h0M416.1 207.0h0M413.2 186.3h0M432.3 190.7h0M419.3 189.8h0M420.1 197.7h0M416.8 187.6h0M424.6 202.8h0M426.4 195.5h0M410.8 207.1h0M427.1 204.2h0M411.9 191.3h0M405.6 194.2h0M415.0 183.2h0M419.5 182.9h0M404.9 186.9h0M423.2 197.6h0M410.7 186.7h0M413.4 192.4h0M430.6 204.7h0M401.2 195.6h0M410.9 198.6h0" stroke="#4b95d3" stroke-width="0.55" stroke-linecap="round" fill="none" stroke-opacity="0.55"/>
<path d="M414.0 192.8h0M406.7 197.4h0M409.0 205.2h0M424.3 193.4h0M404.9 201.7h0M411.0 182.8h0M420.0 183.8h0M418.7 186.3h0M409.2 193.8h0M424.9 202.7h0M403.0 197.9h0M405.0 188.8h0M413.0 198.9h0M415.6 189.3h0M402.0 197.1h0M434.6 196.4h0M420.5 196.6h0M422.3 181.9h0M419.2 188.4h0M415.0 197.8h0M422.4 186.4h0M421.5 186.7h0M419.5 185.3h0M433.3 196.9h0M424.4 182.3h0M420.4 200.8h0M404.4 191.0h0M416.2 195.3h0M403.7 195.0h0M415.7 190.7h0M406.4 188.5h0M421.6 205.8h0M407.7 203.9h0M402.4 198.0h0M415.6 200.3h0M406.2 195.2h0M431.7 193.1h0M410.9 198.6h0M416.3 182.2h0M414.0 183.6h0M417.7 181.9h0M420.3 180.8h0M409.5 200.4h0M432.8 195.8h0M415.1 186.5h0M425.0 197.1h0M426.5 202.6h0M412.3 188.0h0M419.0 206.2h0M424.6 194.5h0M421.4 196.3h0M427.5 182.2h0M412.1 187.7h0M423.1 206.0h0M413.8 202.9h0M420.9 207.9h0M406.9 186.1h0M417.7 181.8h0M402.6 194.7h0M407.8 194.2h0M404.5 193.8h0M429.1 201.5h0M419.0 194.3h0M420.6 192.2h0M420.8 200.5h0M414.6 183.6h0M410.9 193.5h0M411.2 207.6h0M403.3 190.8h0M414.4 193.0h0M434.5 199.3h0M404.3 195.0h0M410.7 188.0h0M415.9 196.5h0M412.5 185.1h0M405.7 193.8h0M431.5 196.3h0M419.2 189.3h0M434.5 199.9h0M411.2 192.6h0M416.9 189.1h0M417.4 207.9h0M422.3 181.3h0M419.4 189.1h0M405.3 189.1h0M427.8 198.3h0M426.0 196.7h0M432.7 189.1h0M430.1 197.5h0M429.4 192.6h0M403.5 190.5h0M427.2 191.4h0M404.0 202.5h0M415.9 197.9h0M407.0 197.6h0M422.5 200.7h0M418.9 196.5h0M410.6 196.9h0M435.4 197.0h0M409.9 204.8h0M431.9 196.0h0M419.0 181.3h0M416.5 201.4h0M415.6 180.4h0M408.1 191.9h0M424.9 186.5h0M420.7 187.2h0M418.1 186.8h0M424.1 187.8h0M425.6 182.2h0M420.3 184.5h0M402.4 194.9h0M427.6 191.9h0M416.2 186.1h0M430.0 200.5h0M420.3 204.8h0M427.8 202.6h0M427.2 184.8h0M422.7 181.3h0M426.2 196.3h0M434.2 194.4h0M434.1 194.0h0M427.6 200.6h0M401.6 192.4h0M414.2 191.7h0M408.3 183.1h0M418.2 197.9h0M406.5 197.3h0M411.5 199.8h0M423.9 198.8h0M429.1 202.3h0" stroke="#e4283e" stroke-width="0.55" stroke-linecap="round" fill="none" stroke-opacity="0.55"/>
<path d="M433.2 185.6h0M398.6 196.9h0M433.2 183.8h0M425.4 179.3h0M400.1 186.7h0M433.8 185.9h0M412.5 178.9h0M400.2 200.0h0M423.6 179.4h0M397.8 200.1h0M400.3 188.9h0M433.6 185.5h0M401.7 201.2h0M400.3 187.1h0M433.3 185.1h0M398.7 194.6h0M398.8 201.7h0M428.6 180.9h0M423.3 179.8h0M435.0 184.6h0M399.5 199.5h0M416.8 179.6h0M412.4 179.7h0M398.8 197.9h0M398.2 192.9h0M427.3 180.7h0M433.0 187.3h0M432.8 184.8h0M430.3 187.8h0M414.6 179.7h0M400.5 200.6h0M431.1 181.8h0" stroke="#e4283e" stroke-width="0.7" stroke-linecap="round" fill="none" stroke-opacity="0.55"/>
<path d="M399.8 189.6h0M431.9 184.4h0M397.7 199.1h0M425.8 179.8h0M413.9 179.6h0" stroke="#f06070" stroke-width="0.7" stroke-linecap="round" fill="none" stroke-opacity="0.55"/>
<path d="M400.5 200.0 L400.0 193.0 L402.0 187.0 L406.0 182.5 L412.0 180.0 L419.0 179.5 L425.0 180.5 L430.0 183.0 L433.0 186.0 L429.0 188.0 L423.0 188.5 L417.0 189.0 L411.0 190.5 L406.0 194.0 L404.0 200.0Z" fill="#e8283c" fill-opacity="0.6"/>
<path d="M402.9 187.7h0M414.8 184.8h0M413.2 189.1h0M410.1 181.7h0M406.9 190.7h0M414.0 186.0h0M404.0 194.5h0M412.8 186.2h0M428.7 183.7h0M401.4 199.2h0M416.1 185.2h0M412.7 189.6h0M422.7 186.6h0M423.2 183.7h0M401.6 189.9h0M405.5 189.7h0M420.7 181.3h0M401.9 193.3h0M424.4 187.9h0M409.2 190.4h0M418.1 184.3h0M410.9 187.1h0M408.3 191.8h0M406.6 183.9h0M407.1 192.8h0M405.4 187.6h0M405.6 193.7h0M410.9 189.4h0M402.7 187.9h0M411.8 186.7h0M413.6 186.8h0M419.6 184.5h0M407.6 192.4h0M421.0 183.6h0M421.1 185.2h0M427.1 187.1h0M414.4 187.6h0M403.1 188.2h0M418.5 187.2h0M429.8 187.1h0M429.2 185.4h0M419.1 187.1h0M429.9 184.8h0M412.0 190.1h0M414.8 180.1h0M421.6 181.9h0M407.9 189.8h0M411.6 182.9h0M402.7 193.5h0M402.1 196.1h0M431.5 186.7h0M405.0 190.9h0M407.5 188.8h0M429.6 184.4h0M410.2 185.1h0M423.2 187.6h0M406.4 185.6h0M408.6 187.3h0M417.3 182.5h0M417.9 185.9h0M402.1 189.5h0M415.7 182.2h0M418.2 182.5h0M418.9 188.7h0M410.7 189.8h0M415.3 184.1h0M419.3 184.7h0M408.2 189.3h0M405.6 195.2h0M408.1 182.2h0M418.0 188.7h0M421.1 188.0h0M423.2 183.6h0M425.3 182.1h0M406.6 184.3h0M426.6 187.0h0M411.1 181.9h0M410.5 187.3h0M405.1 194.6h0M427.0 187.3h0M424.5 181.0h0M407.1 190.4h0M405.9 193.1h0M430.8 185.2h0M418.4 180.4h0M406.7 189.7h0M405.5 193.1h0M403.6 196.9h0M421.4 187.1h0M426.7 186.5h0M404.3 195.4h0M419.5 180.6h0M416.5 182.7h0M429.1 185.9h0M427.3 182.1h0M423.2 183.0h0M410.4 187.5h0M410.5 189.6h0M423.6 182.8h0M420.7 180.5h0M417.6 183.7h0M415.9 184.9h0M414.5 185.1h0M431.8 185.9h0M414.4 188.8h0M409.2 185.1h0M403.9 198.5h0M424.6 187.6h0M404.2 193.3h0M414.4 187.9h0M415.4 183.4h0M421.9 185.3h0M421.9 186.4h0M417.1 184.3h0M420.7 182.3h0M405.3 186.9h0M411.6 183.2h0M412.3 187.3h0M421.2 182.6h0M421.2 184.8h0M415.8 187.5h0M429.0 187.7h0M415.5 187.3h0M430.4 185.6h0M405.2 190.6h0M409.8 183.6h0M401.1 191.8h0M402.2 194.1h0M416.5 185.5h0M410.3 186.7h0M407.4 189.7h0M411.1 184.8h0M424.7 186.5h0M403.7 189.7h0M416.8 187.9h0M402.5 189.8h0M414.4 182.7h0M424.0 184.5h0M408.5 186.0h0M424.6 187.9h0M414.1 188.1h0M419.4 184.5h0M408.1 185.6h0M425.6 187.7h0M403.7 190.6h0M428.8 183.4h0M426.3 185.0h0M407.7 184.0h0M401.5 198.3h0M403.5 195.7h0M413.6 184.5h0M425.9 182.3h0M418.2 182.4h0M410.8 190.2h0M422.2 185.8h0M408.7 185.5h0M406.2 193.3h0M405.6 188.5h0M413.3 185.0h0M412.6 186.8h0M427.0 187.2h0M407.2 189.6h0M413.5 184.1h0M406.5 193.0h0M418.6 181.0h0M410.2 183.4h0M418.9 182.2h0M417.2 180.8h0M417.7 180.0h0M422.8 180.7h0M411.0 188.8h0M426.2 185.4h0M428.5 187.2h0M421.6 186.9h0M421.2 180.6h0M412.5 181.7h0M417.0 188.4h0M425.1 186.5h0M410.6 190.2h0M425.7 182.9h0M411.1 187.0h0M411.3 182.4h0M419.4 186.2h0M407.2 188.2h0M427.7 184.4h0M421.4 188.1h0M407.1 187.9h0M409.2 188.6h0M403.0 191.5h0M402.4 189.9h0M412.0 186.0h0M409.5 187.1h0M402.6 199.2h0M418.0 188.0h0M407.9 187.6h0M402.4 193.8h0M403.0 193.5h0M407.8 185.8h0M425.6 182.7h0M411.1 183.3h0M420.9 182.9h0M418.1 185.8h0M420.4 184.9h0M411.8 183.8h0M416.3 186.6h0M426.6 186.3h0M411.6 187.0h0M408.2 183.8h0M407.9 191.7h0M428.7 187.4h0M400.7 198.9h0M410.7 185.9h0M419.3 187.2h0M407.0 191.0h0M401.9 193.2h0M402.7 195.7h0M419.0 186.1h0M427.8 184.7h0M406.1 183.9h0M426.1 183.4h0M404.4 197.9h0M406.1 191.2h0M400.9 198.6h0M402.8 188.9h0M411.4 183.7h0M417.7 188.0h0M402.0 197.7h0M413.7 185.4h0M422.4 186.5h0M403.6 188.4h0M405.2 191.2h0M403.7 195.2h0M411.8 187.4h0M404.8 195.7h0M414.4 183.6h0M409.2 183.8h0M405.0 196.0h0M426.6 181.5h0M418.7 181.7h0M416.9 184.0h0M409.1 191.6h0M424.9 187.0h0M410.4 185.6h0M404.5 189.4h0M427.7 183.0h0M408.9 189.7h0M429.1 184.4h0M400.2 194.9h0M431.8 186.1h0M409.7 189.8h0M416.7 187.3h0M402.3 199.4h0M410.9 181.4h0M412.6 180.8h0M407.1 183.0h0M401.8 196.9h0M408.8 188.7h0M402.9 197.2h0M420.1 184.0h0M403.8 188.5h0M418.6 179.6h0M419.4 185.2h0M413.0 187.1h0M430.8 183.8h0M404.5 187.2h0M403.9 187.2h0M402.3 186.7h0M409.6 190.3h0M411.1 181.2h0M411.2 188.6h0M401.6 191.0h0M402.7 191.5h0M413.6 185.0h0M422.9 186.2h0M403.6 196.1h0M407.1 183.6h0M406.0 184.1h0M406.1 190.7h0M426.5 182.5h0M418.5 180.4h0M416.7 179.7h0M413.2 186.7h0M409.2 187.5h0M408.8 189.8h0M417.0 181.3h0M422.0 184.3h0M400.8 190.6h0M422.3 187.7h0M402.6 192.6h0M410.6 183.7h0M402.1 197.9h0M424.4 187.1h0M431.6 185.8h0M426.4 183.3h0M405.9 184.7h0M409.9 186.2h0M400.5 196.4h0M405.4 195.6h0M402.5 196.5h0M418.5 187.9h0M413.3 180.0h0M412.3 183.6h0M419.2 188.8h0M407.1 184.2h0M423.6 183.2h0M422.4 187.2h0M423.9 186.2h0M418.5 181.2h0M426.5 184.0h0M431.0 184.3h0M420.9 181.7h0M411.0 184.3h0M408.6 183.1h0M425.4 185.6h0M409.6 182.9h0M420.0 181.8h0M401.6 188.5h0M429.2 184.8h0M412.1 184.2h0M418.7 187.4h0M406.3 185.0h0M408.2 189.6h0M401.8 190.5h0M407.0 186.6h0M419.9 181.7h0M423.7 186.3h0M406.1 183.4h0M407.8 191.1h0M424.7 186.2h0M421.6 181.2h0M406.0 192.9h0M404.8 190.5h0M404.8 188.6h0M423.2 188.1h0M405.6 184.2h0M407.3 187.8h0M413.2 187.3h0M415.2 186.6h0M429.3 187.6h0M421.9 185.3h0M422.3 184.2h0M409.9 191.3h0M409.8 184.0h0M421.2 182.2h0M401.0 193.1h0M411.8 186.5h0M421.6 182.1h0M411.7 181.2h0M410.0 188.9h0M414.7 186.6h0M420.2 184.7h0M404.1 191.6h0M427.4 182.8h0M412.5 187.2h0M413.3 183.6h0M403.3 190.4h0M408.3 186.8h0M408.7 182.8h0M410.2 188.8h0M403.9 188.1h0M407.8 186.5h0M400.2 192.3h0M405.9 183.0h0M412.3 188.3h0M425.1 184.9h0M422.7 180.5h0M411.5 186.0h0M404.7 190.3h0M416.9 186.4h0M418.2 186.4h0M405.3 190.0h0M401.0 196.6h0M400.4 195.3h0M409.7 186.9h0M415.3 182.7h0M430.8 185.2h0M411.1 182.5h0M416.5 186.8h0M419.4 186.9h0M405.2 188.2h0M413.6 189.1h0M427.8 183.8h0M423.1 186.3h0M418.6 179.9h0M428.3 187.2h0M419.2 185.0h0M423.5 183.7h0M416.6 181.3h0M417.8 182.3h0M403.4 192.3h0M401.9 190.5h0M411.6 181.8h0M401.7 198.8h0M412.7 189.1h0M421.9 185.0h0M404.2 191.4h0M418.0 188.7h0M411.2 190.3h0M418.6 181.5h0M421.9 180.1h0M417.2 188.6h0M421.4 184.7h0M414.5 182.9h0M401.7 189.2h0M424.4 183.7h0M403.0 191.3h0M422.4 186.0h0M400.9 194.9h0M404.3 191.5h0M405.8 186.6h0M411.4 190.2h0M404.5 192.6h0M418.5 186.1h0M425.0 185.3h0M422.7 185.4h0M419.2 187.0h0M412.2 189.1h0M431.3 185.5h0M405.1 185.1h0M402.6 192.8h0M403.7 197.9h0M425.3 186.6h0M412.5 185.9h0M423.6 181.3h0M414.6 188.5h0M415.7 181.8h0M408.9 190.8h0M414.9 180.3h0M415.8 188.9h0M406.4 188.5h0M419.1 188.5h0M429.1 184.0h0M422.1 183.7h0M415.6 189.1h0M415.6 181.3h0M409.6 183.5h0M404.4 187.3h0M409.2 182.4h0M404.2 194.9h0M415.4 185.3h0M421.4 182.5h0M401.4 197.2h0M413.5 181.9h0M425.4 184.8h0M426.8 181.8h0M425.5 183.7h0M403.0 190.0h0M413.7 187.6h0M406.1 193.0h0M419.0 181.4h0M416.4 183.7h0M413.6 185.7h0M423.9 183.5h0M419.7 180.4h0M402.9 186.7h0M414.8 183.5h0M419.5 182.5h0M408.3 187.6h0M419.3 187.9h0M416.4 186.8h0M424.0 184.9h0M428.8 182.7h0M412.2 190.1h0M401.5 193.6h0M407.4 184.0h0M408.1 191.0h0M400.9 192.2h0M421.6 184.6h0M422.8 186.6h0M426.4 182.8h0M426.1 188.1h0M427.4 182.0h0M414.2 187.6h0M427.3 183.6h0M421.3 180.2h0M408.4 190.8h0M405.4 189.6h0M418.2 180.1h0M412.1 188.2h0M405.2 187.2h0M425.2 187.2h0M404.2 191.5h0M402.0 194.1h0M413.8 182.5h0M420.9 181.1h0M409.6 191.2h0M400.6 196.5h0M417.9 187.2h0M409.2 188.4h0M421.2 186.3h0M416.9 188.0h0M400.9 194.3h0M417.0 184.9h0M411.0 183.2h0M406.3 184.8h0M401.9 192.1h0M418.6 181.7h0M402.5 192.3h0M410.8 185.9h0M408.7 184.7h0M413.6 181.9h0M410.1 187.0h0M403.9 198.4h0M424.5 185.5h0M409.0 183.5h0M418.0 188.7h0M407.0 191.8h0M420.6 187.0h0M415.3 183.3h0M426.2 186.1h0M427.5 184.1h0M401.4 193.7h0M417.8 186.4h0" stroke="#e4283e" stroke-width="0.8" stroke-linecap="round" fill="none" stroke-opacity="0.85"/>
<path d="M409.0 182.8h0M405.1 186.4h0M420.0 183.0h0M403.4 188.5h0M405.8 192.9h0M413.5 184.2h0M420.7 181.3h0M409.3 188.4h0M415.0 187.6h0M410.0 184.9h0M410.4 181.5h0M421.7 182.7h0M407.3 182.1h0M418.8 186.6h0M426.5 182.1h0M407.5 192.4h0M411.5 185.4h0M411.4 189.8h0M405.6 188.0h0M409.0 187.0h0M420.6 184.8h0M401.1 199.2h0M412.7 186.8h0M425.2 184.5h0M426.1 185.4h0M419.1 180.0h0M415.4 182.1h0M415.1 184.2h0" stroke="#f06070" stroke-width="0.8" stroke-linecap="round" fill="none" stroke-opacity="0.85"/>
<path d="M421.4 179.9h0M424.2 186.8h0M410.6 190.2h0M427.0 184.8h0M413.7 185.1h0M421.3 184.8h0M410.7 187.7h0M430.5 183.7h0M417.4 188.7h0M430.8 184.3h0M428.1 183.7h0M414.2 188.0h0M410.8 180.7h0M419.0 179.7h0M412.7 186.1h0M407.5 187.6h0M417.2 185.8h0M416.0 180.2h0M422.9 188.0h0" stroke="#4b95d3" stroke-width="0.8" stroke-linecap="round" fill="none" stroke-opacity="0.85"/>
<path d="M404.0 200.0 L406.0 194.0 L411.0 190.5 L417.0 189.0 L423.0 188.5 L428.0 190.0 L430.0 196.0 L428.0 203.0 L423.0 207.0 L416.0 208.5 L408.0 206.0 L403.0 203.0Z" fill="#5a9ad6" fill-opacity="0.3"/>
<path d="M406.4 197.9h0M420.8 203.3h0M408.3 197.6h0M428.3 191.8h0M409.9 200.6h0M423.7 199.9h0M426.1 196.0h0M418.2 192.9h0M419.7 199.1h0M428.4 194.0h0M425.5 193.3h0M408.6 204.5h0M415.0 192.7h0M408.7 199.3h0M422.2 191.7h0M421.0 193.8h0M418.2 199.6h0M410.0 196.0h0M423.9 198.4h0M421.3 205.8h0M419.4 195.9h0M428.0 195.7h0M421.5 191.5h0M424.3 190.1h0M417.5 198.6h0M414.9 205.9h0M427.7 199.0h0M428.6 196.9h0M405.5 195.9h0M409.0 193.3h0M420.7 191.2h0M425.9 195.8h0M427.3 195.7h0M409.0 200.8h0M404.5 201.1h0M420.9 206.7h0M426.0 195.0h0M417.5 191.7h0M424.6 192.7h0M429.0 195.7h0M418.8 206.9h0M411.3 196.2h0M416.9 206.1h0M417.2 196.3h0M408.2 197.4h0M418.9 191.0h0M422.7 198.2h0M412.8 195.1h0M420.4 192.7h0M409.3 192.0h0M418.6 193.8h0M413.0 203.2h0M407.2 193.8h0M405.9 195.4h0M416.4 193.3h0M413.1 202.2h0M415.2 207.9h0M405.9 194.3h0M417.3 190.7h0M406.2 204.2h0M411.9 192.6h0M409.7 192.8h0M418.9 195.0h0M422.5 199.9h0M419.1 201.8h0M414.0 201.6h0M415.3 197.6h0M404.5 198.6h0M411.6 206.8h0M411.9 204.8h0M426.0 193.2h0M411.8 198.7h0M421.7 205.2h0M416.5 189.6h0M427.5 195.4h0M420.3 191.6h0M413.5 202.0h0M427.7 196.7h0M429.3 195.1h0M407.7 203.7h0M423.1 202.8h0M414.1 198.2h0M411.0 198.1h0M424.6 199.9h0M420.4 190.0h0M424.4 190.8h0M419.7 189.7h0M414.7 203.0h0M404.5 201.1h0M416.0 201.3h0M413.2 200.5h0M405.6 196.5h0M409.2 194.1h0M428.1 198.2h0M412.1 205.7h0M410.8 193.4h0M407.3 195.6h0M422.5 203.2h0M417.3 204.3h0M416.1 195.6h0M420.7 202.8h0M422.1 196.7h0M411.6 203.5h0M418.3 190.5h0M413.7 194.6h0M420.6 194.3h0M420.0 191.7h0M416.9 198.3h0M417.5 205.9h0M422.1 199.0h0M423.4 192.0h0M416.6 203.7h0M426.8 201.2h0M424.9 200.7h0M429.5 196.4h0M415.6 197.1h0M413.7 194.6h0M418.6 192.3h0M408.3 200.3h0M416.4 191.1h0M407.0 203.5h0M420.5 202.3h0M411.8 200.3h0M411.9 196.7h0M428.5 193.9h0M425.8 202.1h0M414.1 200.5h0M413.6 204.6h0M427.5 199.8h0M407.1 205.1h0M413.7 197.9h0M409.8 205.4h0M417.0 194.4h0M426.3 193.8h0M425.5 192.6h0M419.5 202.4h0M408.8 206.2h0M411.9 200.8h0M427.6 200.3h0M411.7 201.4h0M410.4 202.8h0M408.5 198.3h0M407.1 200.0h0M422.2 203.2h0M417.1 207.8h0M406.5 195.0h0M423.8 192.3h0M416.4 197.8h0M416.7 190.4h0M409.3 193.0h0M418.3 198.9h0M419.0 203.9h0M409.5 206.1h0M422.7 200.3h0M419.6 189.9h0M421.8 189.6h0M409.9 197.2h0M409.8 195.5h0M417.5 201.5h0M406.7 200.4h0M419.0 205.2h0M412.5 206.5h0M422.9 201.0h0M417.2 198.5h0M415.2 201.6h0M428.6 198.5h0M425.4 204.9h0M407.7 205.8h0M416.0 196.7h0M426.6 193.0h0M416.9 197.7h0M416.9 202.1h0M423.1 202.4h0M421.2 190.0h0M408.1 205.6h0M421.6 195.1h0M417.6 203.4h0M410.8 199.3h0M419.6 189.2h0M412.2 203.9h0M415.1 207.3h0M423.5 191.9h0M414.4 198.6h0M422.7 190.0h0M419.0 203.6h0M422.1 190.6h0M421.0 201.3h0M412.9 190.4h0M420.6 199.0h0M410.0 199.5h0M419.7 207.5h0M416.8 192.0h0M415.5 196.6h0M406.1 196.7h0M420.0 190.0h0M415.7 193.8h0M423.9 197.4h0M416.8 196.9h0M416.4 196.1h0M419.2 194.5h0M413.4 191.8h0M427.8 192.3h0M425.3 202.8h0M416.0 200.8h0M421.2 205.9h0M411.1 191.8h0M407.0 201.9h0M419.5 194.3h0M417.1 198.2h0M411.2 199.7h0M418.5 201.4h0M406.5 198.2h0M424.9 191.1h0M417.4 204.9h0M411.3 199.5h0M413.1 198.0h0M421.9 191.0h0M421.8 201.1h0M420.0 196.8h0M424.0 202.4h0M427.1 202.3h0M403.9 203.4h0M411.6 198.5h0M428.8 194.3h0M404.7 198.6h0M419.6 200.2h0M410.8 199.6h0M421.9 196.4h0M410.4 195.0h0M416.6 197.4h0M418.8 201.7h0M416.1 192.8h0M426.2 191.9h0M423.5 189.7h0M424.3 194.8h0M421.6 191.4h0M426.6 197.3h0M418.0 199.1h0M419.8 198.0h0M425.0 193.1h0M418.1 195.7h0M408.8 204.2h0M423.5 206.6h0M425.6 195.6h0M420.1 205.6h0M409.1 201.6h0M424.9 202.3h0M426.8 194.4h0M419.5 201.9h0M417.8 206.0h0M410.1 204.1h0M421.8 196.7h0M426.7 202.6h0M411.8 196.8h0M424.4 198.4h0M411.4 200.4h0M413.6 192.2h0M427.5 189.9h0M411.4 205.5h0M413.2 200.9h0M424.5 193.8h0M425.7 191.6h0M420.3 203.8h0M410.3 193.2h0M417.7 189.3h0M426.5 203.9h0M413.7 207.0h0M409.2 193.5h0M417.4 197.7h0M419.9 194.2h0M423.0 189.1h0M428.1 197.6h0M428.2 198.7h0M411.9 199.6h0M425.4 189.9h0M416.1 198.7h0M422.8 191.9h0M414.3 202.4h0M415.2 206.7h0M422.1 190.2h0M407.9 203.7h0M428.0 190.8h0M421.8 203.4h0M414.3 195.4h0M418.3 193.5h0M417.5 200.1h0M420.8 201.0h0M426.8 191.4h0M426.2 195.8h0M412.6 193.6h0M417.3 204.1h0M406.1 201.7h0M425.7 196.3h0M422.5 196.6h0M410.5 206.5h0M407.0 201.0h0M419.1 190.2h0M419.6 190.0h0M418.0 200.2h0M420.4 201.8h0" stroke="#4b95d3" stroke-width="0.8" stroke-linecap="round" fill="none" stroke-opacity="0.75"/>
<path d="M414.9 198.1h0M428.2 192.7h0M412.5 192.6h0M412.6 201.0h0M413.0 194.4h0M425.3 190.0h0M427.9 202.6h0M423.8 197.6h0M406.5 197.7h0M419.7 200.2h0M414.8 202.7h0M407.1 204.4h0M404.8 200.3h0M420.2 197.5h0M408.2 198.2h0M417.9 190.4h0M418.5 194.8h0M420.5 197.6h0M429.3 196.5h0M423.6 200.8h0M420.2 198.6h0M417.7 192.1h0M417.4 193.9h0M415.2 190.7h0M412.9 197.2h0M418.2 194.4h0M419.1 205.1h0M420.1 195.3h0M425.1 199.2h0M417.3 195.1h0M418.9 200.1h0M417.2 204.5h0M407.8 200.8h0M406.4 193.8h0M412.3 203.5h0M409.5 193.1h0M415.4 195.2h0M405.4 197.7h0M403.7 201.3h0M409.4 193.5h0M417.4 196.7h0M421.9 201.9h0M407.2 205.2h0M418.9 205.2h0M425.7 201.3h0M428.3 198.3h0M419.1 204.1h0M421.9 191.2h0M411.2 191.7h0M416.9 200.8h0M416.3 202.1h0M423.7 204.8h0M405.1 204.2h0M412.5 197.4h0M428.2 192.3h0M408.8 197.5h0M420.5 202.5h0M410.3 192.2h0M416.2 200.0h0M409.7 206.2h0M415.5 196.4h0M418.5 200.5h0M420.0 204.0h0M413.3 198.2h0M421.9 191.3h0M414.9 198.0h0M419.8 203.3h0M409.8 197.4h0M407.0 200.8h0M412.8 192.2h0M411.8 191.8h0M427.8 197.5h0M424.2 189.0h0M408.0 198.6h0M415.2 194.3h0M424.9 192.0h0M408.1 194.9h0M426.2 193.2h0M422.3 190.9h0M417.2 199.8h0M425.8 196.5h0M414.3 193.2h0M407.7 199.0h0M406.8 204.3h0M412.8 195.8h0M416.3 202.1h0M423.4 199.3h0M406.0 199.2h0M421.7 191.2h0M427.4 196.3h0M407.8 202.8h0M407.7 197.5h0M415.0 196.2h0M417.4 190.4h0M414.8 191.3h0M426.0 204.0h0M409.7 201.7h0M415.3 203.3h0M411.5 199.1h0M413.6 193.4h0M424.5 193.2h0M417.8 201.7h0M417.0 193.9h0M411.5 204.4h0M418.4 204.3h0M410.3 195.3h0M413.5 195.8h0M419.3 206.1h0M416.8 189.5h0M422.8 200.7h0M422.8 198.7h0M414.1 192.2h0M409.2 203.6h0M421.2 200.9h0M423.7 196.3h0" stroke="#9a6aa8" stroke-width="0.8" stroke-linecap="round" fill="none" stroke-opacity="0.75"/>
<path d="M423.0 194.6h0M410.6 204.3h0M423.1 202.6h0M424.2 200.3h0M424.8 203.8h0M422.6 194.6h0M417.3 202.1h0M413.0 203.1h0M422.5 196.8h0M423.4 200.1h0M422.8 206.8h0M405.6 198.8h0M411.5 204.6h0M413.6 192.8h0M406.9 193.6h0M416.8 193.4h0M413.2 204.0h0M416.9 207.0h0M417.0 199.1h0M416.6 200.5h0M425.1 202.3h0M416.3 192.7h0M409.3 198.0h0M415.2 207.5h0M420.0 207.1h0M417.3 204.2h0M411.0 201.5h0M416.6 202.7h0M427.4 193.4h0M415.4 203.1h0M415.2 189.8h0M414.4 191.4h0M423.9 197.9h0M410.2 200.7h0M427.9 199.5h0M423.4 203.6h0M404.8 198.4h0M416.8 193.4h0M422.4 201.0h0M418.1 194.2h0M412.7 207.3h0M418.4 197.4h0M421.1 201.6h0M428.3 192.3h0M406.8 204.4h0M420.1 189.3h0M407.5 204.7h0M424.5 197.1h0M423.9 198.8h0M423.0 201.3h0M425.1 198.2h0M425.9 199.4h0M411.8 197.0h0M416.8 197.1h0M422.2 201.0h0M412.7 190.9h0M409.5 202.0h0M427.1 199.7h0M409.3 195.7h0M411.2 192.0h0M424.0 195.4h0M415.8 201.4h0M410.8 192.0h0" stroke="#e4283e" stroke-width="0.8" stroke-linecap="round" fill="none" stroke-opacity="0.75"/>
<path d="M428.0 188.5 L433.0 186.0 L436.0 190.0 L437.3 197.0 L435.5 204.0 L431.0 208.5 L426.0 206.5 L429.5 198.0Z" fill="#a080c0" fill-opacity="0.2"/>
<path d="M429.4 205.0h0M427.6 203.6h0M429.3 189.8h0M431.6 193.1h0M434.6 194.9h0M429.3 196.3h0M433.7 202.0h0M436.3 196.2h0M435.7 192.8h0M428.3 204.3h0M434.1 197.9h0M434.4 190.6h0M431.4 196.5h0M429.8 196.7h0M433.2 196.2h0M432.2 197.6h0M434.0 193.4h0M428.4 190.4h0M433.7 190.1h0M432.5 196.6h0M429.3 199.3h0M430.9 197.9h0M433.0 198.9h0M429.5 200.4h0M430.9 206.9h0M435.3 202.6h0M436.8 196.8h0M434.6 200.6h0M430.3 187.4h0M428.4 204.6h0M430.2 202.5h0M429.0 191.5h0M426.5 205.8h0M430.0 207.0h0M435.9 202.2h0M432.5 200.2h0M434.4 192.4h0M432.4 195.1h0M428.6 205.8h0M435.2 199.8h0M435.5 202.3h0M433.3 189.5h0M429.0 191.6h0M433.3 194.0h0M429.3 195.3h0M434.7 189.1h0M428.5 203.2h0M430.6 206.4h0M435.6 197.5h0M427.3 205.7h0M431.5 198.6h0M436.2 201.2h0M431.9 191.6h0M427.5 202.8h0M428.4 206.2h0M431.1 190.5h0M430.9 191.5h0M433.0 190.4h0M434.7 189.3h0M434.4 196.7h0M432.9 205.6h0M430.6 199.1h0M436.0 200.6h0M430.2 190.6h0M430.2 187.8h0M431.5 194.3h0M428.5 202.8h0M431.2 188.6h0M437.2 196.7h0M434.7 199.6h0M427.9 204.8h0M433.9 205.5h0M431.1 203.3h0M433.5 191.3h0M429.8 188.5h0M431.0 193.8h0M436.6 199.2h0M431.8 205.0h0M433.8 205.4h0M430.9 198.0h0M432.0 201.3h0M435.6 196.0h0M433.6 204.7h0M433.8 203.9h0M427.5 206.0h0M428.8 191.7h0M434.4 189.4h0M433.0 197.2h0M428.3 206.8h0M430.1 187.8h0M432.8 201.3h0M432.8 205.5h0M432.5 200.2h0M434.5 203.3h0M432.7 190.5h0M432.7 202.9h0M431.1 206.6h0M433.8 194.8h0M427.6 206.1h0M434.7 202.6h0M433.0 201.1h0M433.6 195.9h0" stroke="#9a6aa8" stroke-width="0.7" stroke-linecap="round" fill="none" stroke-opacity="0.7"/>
<path d="M435.3 199.3h0M429.8 205.9h0M430.6 196.8h0M431.5 197.7h0M433.3 198.2h0M430.3 197.3h0M431.8 192.0h0M431.4 197.2h0M435.5 197.2h0M431.5 202.3h0M431.8 198.2h0M428.4 204.0h0M432.4 187.1h0M429.0 188.1h0M432.5 189.2h0M431.3 195.7h0M431.9 197.9h0M428.8 191.3h0M433.5 194.9h0M430.3 206.8h0M430.4 205.6h0M433.4 200.2h0M432.9 205.6h0M432.6 188.4h0M430.0 200.6h0M433.1 204.9h0M433.0 194.8h0M431.4 195.2h0M435.9 194.7h0M429.2 192.7h0M433.9 203.2h0M429.2 195.7h0M430.3 204.6h0M431.2 197.7h0M430.0 194.3h0M434.9 193.9h0M429.4 203.8h0M433.8 199.7h0M430.2 203.4h0M434.0 195.9h0M431.0 205.9h0M432.2 195.6h0M431.0 200.6h0M435.5 202.1h0M431.4 192.2h0" stroke="#4b95d3" stroke-width="0.7" stroke-linecap="round" fill="none" stroke-opacity="0.7"/>
<path d="M430.2 199.9h0M433.9 202.4h0M435.2 196.0h0M430.1 193.7h0M429.7 197.8h0M430.0 189.1h0M430.9 192.9h0M433.9 192.5h0M431.6 201.5h0M435.1 195.6h0M429.4 201.4h0M434.7 189.0h0M434.7 195.4h0M431.2 187.2h0M432.7 202.7h0M430.6 194.6h0M432.7 206.2h0M430.0 197.1h0M435.0 199.8h0M430.3 207.9h0M433.0 188.6h0M434.6 197.7h0M430.3 199.0h0M433.3 199.9h0M435.8 198.2h0" stroke="#e4283e" stroke-width="0.7" stroke-linecap="round" fill="none" stroke-opacity="0.7"/>
<path d="M414.7 212.5h0M419.5 225.7h0M420.8 208.8h0M419.6 222.0h0M415.7 222.3h0M417.6 229.0h0M421.0 212.3h0M427.7 214.0h0M423.6 229.4h0M424.9 218.8h0M422.1 208.0h0M415.3 211.7h0M424.4 211.8h0M423.9 219.6h0M418.1 214.7h0M418.2 230.2h0M422.7 211.3h0M424.6 214.8h0M420.1 222.1h0M420.8 217.2h0M418.9 223.8h0M427.4 207.0h0M423.0 225.9h0M419.5 225.5h0M413.5 215.0h0M424.3 218.6h0M422.4 218.9h0M427.3 215.0h0M419.4 226.7h0M418.3 209.6h0M425.1 225.4h0M427.3 208.3h0M417.6 209.0h0M416.5 207.7h0M413.1 212.0h0M424.9 207.0h0M420.5 207.9h0M424.0 210.8h0M423.5 221.3h0M422.5 211.8h0M415.6 209.4h0M413.3 217.6h0M427.4 210.2h0M422.7 207.6h0M423.9 212.1h0M416.3 210.2h0M425.3 217.0h0M422.8 223.4h0M415.2 222.3h0M426.5 217.0h0M415.7 215.2h0M419.8 224.2h0M429.0 209.1h0M420.3 210.7h0M417.0 225.6h0M419.0 221.3h0M418.9 222.9h0M413.3 211.7h0M422.8 212.7h0M419.0 228.4h0M415.4 220.7h0M428.5 214.2h0M418.7 228.2h0M423.0 212.7h0M421.1 218.0h0M422.0 215.8h0M419.8 225.8h0M422.9 216.6h0M416.9 218.1h0M423.7 216.4h0M417.2 208.7h0M427.7 215.8h0M426.8 215.4h0M417.2 227.6h0M422.3 212.4h0M426.4 209.1h0M417.2 211.0h0M418.1 228.0h0M428.0 212.8h0M418.2 213.2h0M418.6 225.9h0M420.8 207.3h0M422.7 208.0h0M429.0 213.5h0" stroke="#9a6aa8" stroke-width="0.6" stroke-linecap="round" fill="none" stroke-opacity="0.65"/>
<path d="M414.5 209.8h0M423.8 217.6h0M421.8 229.8h0M419.4 214.1h0M422.1 217.9h0M416.5 212.3h0M425.3 207.2h0M422.1 207.9h0M416.2 212.0h0M417.9 218.9h0M413.3 211.3h0M419.8 212.0h0M427.0 215.8h0M416.4 226.2h0M415.6 222.7h0M420.4 225.1h0M416.1 218.3h0M427.3 209.8h0M414.5 219.3h0M426.7 214.4h0M421.3 223.1h0M415.7 210.5h0M420.0 213.4h0M415.2 220.7h0M421.6 226.4h0M421.4 221.2h0M420.1 216.1h0M419.8 212.7h0M417.0 221.4h0M422.2 220.7h0M425.8 220.5h0M429.2 211.0h0M423.8 210.3h0M417.8 223.3h0M422.3 212.0h0M415.1 207.3h0M419.8 225.6h0M425.7 209.6h0M421.9 207.9h0M418.9 226.2h0M414.2 209.2h0M428.0 211.2h0M420.9 224.0h0M418.9 230.4h0M420.2 212.2h0M421.3 227.3h0M420.0 219.4h0M421.7 224.0h0M418.5 220.3h0M422.2 212.8h0M418.2 218.9h0M423.3 208.9h0M425.2 218.6h0M418.8 214.9h0M418.6 211.3h0M430.0 214.7h0M417.1 224.7h0" stroke="#e4283e" stroke-width="0.6" stroke-linecap="round" fill="none" stroke-opacity="0.65"/>
<path d="M430.9 208.0h0M422.0 221.3h0M418.6 218.9h0M418.5 219.7h0M415.4 214.3h0M418.8 212.3h0M428.5 210.6h0M423.1 225.8h0M426.4 218.2h0M428.2 207.0h0M415.3 211.5h0M425.4 209.6h0M426.7 216.3h0M416.5 207.1h0M422.7 219.6h0M418.8 227.8h0M418.5 211.1h0M421.3 209.7h0M425.7 220.7h0M425.3 225.8h0M423.9 212.3h0M413.4 219.1h0M424.1 214.6h0M420.7 208.2h0M427.1 220.5h0M418.9 224.5h0M424.0 209.2h0M414.1 214.4h0M428.1 211.1h0M419.7 222.4h0M416.7 222.9h0M424.0 219.7h0M428.3 209.3h0M419.5 207.7h0M419.9 221.0h0M430.3 213.1h0M419.5 208.9h0M413.0 217.4h0M423.4 223.7h0M417.7 215.6h0M417.0 210.2h0M421.2 209.6h0M419.8 224.5h0M429.5 207.7h0" stroke="#4b95d3" stroke-width="0.6" stroke-linecap="round" fill="none" stroke-opacity="0.65"/>
<path d="M419.2 235.7h0M420.4 240.9h0M412.1 246.9h0M417.0 230.7h0M412.7 249.5h0M419.5 237.2h0M412.7 250.6h0M419.6 236.4h0M418.0 230.2h0M417.0 230.0h0M420.9 241.4h0" stroke="#d9607a" stroke-width="0.7" stroke-linecap="round" fill="none" stroke-opacity="0.55"/>
<path d="M414.9 254.5h0M413.9 230.1h0" stroke="#9a6aa8" stroke-width="0.7" stroke-linecap="round" fill="none" stroke-opacity="0.55"/>
<path d="M413.3 229.6h0M420.9 251.6h0M417.9 229.9h0" stroke="#e4283e" stroke-width="0.7" stroke-linecap="round" fill="none" stroke-opacity="0.55"/>
<path d="M413.0 231.0 L416.0 230.0 L418.5 232.0 L419.5 238.0 L420.5 243.0 L422.0 247.0 L421.0 251.0 L418.0 253.5 L415.0 253.0 L413.0 249.0 L412.0 242.0 L411.8 236.0Z" fill="#dc90a8" fill-opacity="0.22"/>
<path d="M414.4 245.3h0M414.0 250.7h0M414.7 238.0h0M418.5 250.1h0M415.6 250.8h0M415.4 252.7h0M413.7 248.7h0M413.7 242.2h0M420.1 246.7h0M414.5 245.0h0M418.8 241.5h0M417.7 251.7h0M414.4 232.5h0M418.2 231.8h0M414.8 238.1h0M419.1 247.4h0M419.1 237.6h0M420.0 245.9h0M416.7 245.2h0M413.4 244.4h0M414.7 232.0h0M413.6 250.1h0M415.5 244.2h0M412.4 237.2h0M414.0 240.5h0M418.3 240.2h0M419.4 241.3h0M417.7 233.7h0M415.8 231.8h0M416.5 232.8h0M419.2 236.8h0M418.8 251.6h0M418.0 251.8h0M414.3 236.9h0M416.9 233.0h0M418.8 245.3h0M414.5 239.2h0M417.3 232.0h0M419.8 246.5h0M414.1 243.4h0M417.8 240.4h0M418.3 252.1h0M413.1 242.4h0M415.9 240.5h0M417.1 230.9h0M416.8 242.4h0M417.9 245.7h0M415.2 242.1h0M418.3 242.9h0M415.1 238.6h0M415.6 240.3h0M418.4 248.7h0M416.0 232.3h0M413.3 246.8h0M413.8 236.6h0M416.6 241.8h0M416.4 250.2h0M414.7 238.6h0M413.3 234.4h0M415.6 231.4h0M416.0 251.0h0M415.2 250.6h0M412.3 242.2h0M412.8 241.7h0M413.7 250.3h0M415.9 235.8h0M414.9 232.3h0M414.0 236.6h0M415.7 236.5h0M416.7 233.5h0M418.0 245.6h0M418.2 239.9h0M416.3 233.7h0M415.8 246.9h0M421.5 248.0h0M418.6 236.6h0M419.6 242.7h0M414.6 243.3h0M421.5 246.0h0M412.1 240.5h0M421.7 248.1h0M417.1 235.4h0M419.7 250.8h0M415.4 248.0h0M414.5 249.0h0" stroke="#d9607a" stroke-width="0.7" stroke-linecap="round" fill="none" stroke-opacity="0.75"/>
<path d="M413.9 249.9h0M415.5 242.3h0M417.2 250.1h0M416.5 249.6h0M413.0 243.5h0M414.0 231.4h0M413.3 247.9h0M415.5 253.1h0M419.7 247.5h0M414.6 235.8h0M416.7 243.7h0M413.6 240.3h0M414.7 249.6h0M419.4 244.0h0M418.4 233.6h0M416.0 243.3h0M413.7 248.0h0M413.0 235.8h0M418.0 236.5h0M418.5 232.4h0M418.8 242.6h0M417.3 236.3h0M417.0 246.7h0M415.4 238.2h0M415.7 240.0h0M412.7 235.4h0M418.5 242.9h0M416.2 233.1h0M414.8 245.0h0M418.2 237.2h0M413.9 244.4h0M416.8 239.1h0M413.7 231.2h0M417.2 234.0h0M416.0 235.2h0M416.4 230.5h0M417.6 242.4h0M413.9 238.0h0M416.0 232.6h0M416.3 232.5h0M417.2 237.7h0M419.1 246.2h0M415.6 233.4h0M416.3 246.9h0M415.2 250.2h0M414.1 238.6h0M415.7 241.7h0M417.6 240.0h0M413.8 236.5h0M418.5 246.6h0" stroke="#9a6aa8" stroke-width="0.7" stroke-linecap="round" fill="none" stroke-opacity="0.75"/>
<path d="M415.4 236.0h0M415.4 235.8h0M413.1 241.9h0M415.0 239.5h0M414.2 231.3h0M413.4 235.3h0M415.3 230.7h0M418.1 247.4h0M418.4 237.5h0M414.7 236.3h0M414.2 244.5h0M420.0 241.4h0M419.3 243.5h0M414.7 232.6h0M415.9 248.7h0M416.5 244.5h0M418.0 249.7h0M416.6 251.1h0M417.4 234.4h0M415.9 251.6h0M413.1 246.9h0M414.6 243.9h0M413.6 235.7h0M418.5 241.5h0M416.6 241.8h0" stroke="#e4283e" stroke-width="0.7" stroke-linecap="round" fill="none" stroke-opacity="0.75"/>
<path d="M414.0 246.0 L419.0 245.0 L422.0 247.5 L421.0 251.5 L418.0 253.5 L415.0 253.0Z" fill="#d06080" fill-opacity="0.3"/>
<path d="M415.1 252.6h0M416.6 247.6h0M416.9 248.0h0M419.4 249.9h0M417.1 253.1h0M420.9 250.1h0M414.4 247.3h0M419.8 246.2h0M420.0 248.7h0M419.2 251.1h0M418.3 245.8h0M414.9 247.5h0M416.7 250.0h0M416.0 248.7h0M416.0 248.6h0M419.1 247.7h0M414.9 246.7h0M419.0 247.0h0M417.5 249.1h0M417.1 250.9h0M417.4 250.9h0M418.3 252.0h0M421.8 247.3h0M417.9 247.2h0M418.8 250.2h0M416.1 252.2h0M415.6 246.9h0M421.0 247.8h0M417.3 252.8h0M420.6 247.4h0M415.1 245.9h0M420.9 250.1h0M418.1 249.6h0M416.2 245.8h0M417.9 251.0h0M421.1 250.8h0M417.3 251.5h0M421.0 249.1h0" stroke="#c04070" stroke-width="0.7" stroke-linecap="round" fill="none" stroke-opacity="0.8"/>
<path d="M421.4 249.1h0M416.2 251.9h0M421.0 250.5h0M415.3 248.2h0M419.6 248.9h0M414.8 246.4h0M414.2 246.0h0M421.2 250.7h0M420.4 246.7h0M417.1 249.4h0M416.7 252.4h0M416.8 251.8h0M414.8 251.4h0M419.5 251.5h0M418.0 246.5h0M418.1 251.8h0M420.6 250.4h0M418.8 246.9h0M417.1 246.4h0M418.6 248.1h0M415.7 246.0h0M418.7 249.6h0" stroke="#e4283e" stroke-width="0.7" stroke-linecap="round" fill="none" stroke-opacity="0.8"/>
<path d="M453.8 227.1h0M444.1 229.9h0M451.9 225.8h0M445.2 230.2h0M452.4 226.3h0M455.5 227.6h0" stroke="#e4283e" stroke-width="0.7" stroke-linecap="round" fill="none" stroke-opacity="0.55"/>
<path d="M447.0 230.7h0" stroke="#9a6aa8" stroke-width="0.7" stroke-linecap="round" fill="none" stroke-opacity="0.55"/>
<path d="M441.5 224.0 L446.0 224.5 L451.0 226.0 L456.0 228.0 L458.0 230.0 L457.0 232.8 L452.0 232.0 L447.0 230.5 L443.0 229.0 L440.5 226.5Z" fill="#e03048" fill-opacity="0.3"/>
<path d="M454.7 227.8h0M449.4 226.7h0M450.8 227.5h0M449.6 227.6h0M453.0 226.9h0M440.9 226.7h0M454.7 230.5h0M445.7 227.6h0M441.1 226.5h0M441.1 225.6h0M445.2 229.8h0M444.1 225.0h0M456.5 231.7h0M442.1 224.5h0M457.5 231.0h0M453.8 230.5h0M445.6 225.4h0M443.1 226.6h0M449.8 227.5h0M447.4 230.5h0M446.2 228.9h0M456.4 232.7h0M453.0 226.9h0M452.7 229.3h0M447.3 228.8h0M441.3 227.2h0M441.2 225.9h0M450.4 228.0h0M441.4 225.6h0M452.6 229.6h0M447.6 227.4h0M453.2 231.2h0M447.1 225.3h0M448.6 226.3h0M451.3 226.3h0M445.7 229.9h0M449.9 227.4h0M455.0 231.3h0M456.4 229.8h0M443.3 225.7h0M445.0 228.1h0M449.5 229.1h0M445.9 225.1h0M456.3 232.0h0M451.0 226.6h0M444.4 225.5h0M454.8 228.3h0M456.2 230.5h0M445.6 228.5h0M444.2 226.3h0M453.6 227.3h0M444.2 229.3h0M442.5 224.3h0M453.7 229.8h0M442.6 228.4h0M451.2 229.4h0M454.5 230.6h0M444.8 225.5h0M449.6 226.5h0M445.2 225.1h0M450.1 231.1h0M454.7 231.7h0M445.7 225.7h0M442.5 224.3h0M448.4 230.2h0M449.9 227.3h0M448.6 226.6h0M448.7 226.9h0M455.8 230.8h0M454.8 232.0h0M452.0 230.4h0M454.1 230.6h0M449.8 229.0h0M448.5 229.3h0M447.8 228.4h0M455.8 231.3h0M451.8 226.6h0M448.5 225.7h0M450.5 230.5h0M453.8 229.0h0M449.2 229.9h0M448.7 228.0h0M453.8 228.5h0" stroke="#e4283e" stroke-width="0.8" stroke-linecap="round" fill="none" stroke-opacity="0.8"/>
<path d="M443.8 228.1h0M444.3 224.7h0M444.2 229.3h0M452.5 227.1h0M447.6 225.6h0M445.0 227.8h0M454.5 227.6h0M448.7 230.5h0M443.2 224.4h0M443.1 226.9h0M457.6 229.8h0M451.5 230.2h0M446.4 226.3h0M452.6 227.3h0M449.6 226.1h0M450.4 229.3h0M449.2 230.0h0M451.9 230.2h0M452.5 227.5h0M443.8 226.6h0M447.1 225.9h0M447.6 228.0h0M451.4 226.9h0M454.8 227.5h0M453.4 231.1h0M442.2 227.1h0" stroke="#9a6aa8" stroke-width="0.8" stroke-linecap="round" fill="none" stroke-opacity="0.8"/>
<path d="M446.7 219.5 L446.6 220.3 L446.4 221.0 L446.1 221.6 L445.7 222.0 L445.3 222.1 L444.9 222.0 L444.5 221.6 L444.2 221.0 L444.0 220.3 L443.9 219.5 L444.0 218.7 L444.2 218.0 L444.5 217.4 L444.9 217.0 L445.3 216.9 L445.7 217.0 L446.1 217.4 L446.4 218.0 L446.6 218.7Z" fill="#d03040" fill-opacity="0.5"/>
<path d="M445.0 217.2h0M445.7 217.9h0M446.4 220.1h0M444.7 221.6h0M444.6 217.6h0M445.5 221.5h0M445.0 217.3h0M445.2 221.5h0M444.6 221.7h0M445.9 217.5h0M445.0 217.8h0M445.6 217.1h0M445.4 217.0h0M445.7 218.3h0M444.4 220.2h0M444.7 221.5h0M444.6 218.8h0M444.9 220.8h0M445.3 217.2h0M445.8 219.0h0M445.1 220.5h0M444.0 220.0h0" stroke="#e4283e" stroke-width="0.8" stroke-linecap="round" fill="none" stroke-opacity="0.85"/>
<path d="M380.1 219.5h0M379.4 220.6h0M378.6 221.0h0M377.1 222.7h0M376.5 223.4h0M374.6 223.3h0M373.4 223.0h0M372.2 221.8h0M371.8 221.8h0M370.9 220.4h0M370.1 219.1h0M371.0 218.1h0M371.5 217.5h0M371.8 217.2h0M373.8 216.7h0M375.6 216.5h0M376.8 216.4h0M377.3 216.3h0M378.4 216.9h0M379.5 218.8h0" stroke="#b06080" stroke-width="0.7" stroke-linecap="round" fill="none" stroke-opacity="0.8"/>
<path d="M403.0 212.2 L402.9 212.6 L402.7 212.9 L402.4 213.2 L402.0 213.3 L401.6 213.4 L401.2 213.3 L400.8 213.2 L400.5 212.9 L400.3 212.6 L400.2 212.2 L400.3 211.8 L400.5 211.5 L400.8 211.2 L401.2 211.1 L401.6 211.0 L402.0 211.1 L402.4 211.2 L402.7 211.5 L402.9 211.8Z" fill="#d83048" fill-opacity="0.5"/>
<path d="M401.4 211.7h0M402.9 212.0h0M402.1 212.4h0M400.7 213.1h0M402.0 212.4h0M401.0 212.3h0M402.0 211.2h0M401.5 212.4h0M401.2 211.7h0M400.6 212.2h0M402.5 212.2h0M401.0 211.8h0M400.4 212.6h0M401.2 211.1h0" stroke="#e4283e" stroke-width="0.8" stroke-linecap="round" fill="none" stroke-opacity="0.85"/>
<path d="M400.5 212.6h0" stroke="#8a2040" stroke-width="0.8" stroke-linecap="round" fill="none" stroke-opacity="0.85"/>
<path d="M400.5 218.5h0M401.2 219.8h0M399.8 221.0h0M400.8 222.2h0M399.2 222.8h0M401.8 217.5h0" stroke="#b04060" stroke-width="0.8" stroke-linecap="round" fill="none" stroke-opacity="0.8"/>
<path d="M384.8 196.7h0M386.0 196.8h0M387.2 196.6h0" stroke="#a0a0a0" stroke-width="0.7" stroke-linecap="round" fill="none"/>
<line x1="240.3" y1="176" x2="240.3" y2="258.1" stroke="#2a2a2a" stroke-width="1.2"/>
<line x1="239.70000000000002" y1="257.5" x2="334" y2="257.5" stroke="#2a2a2a" stroke-width="1.2"/>
<line x1="367.5" y1="176" x2="367.5" y2="258.1" stroke="#2a2a2a" stroke-width="1.2"/>
<line x1="366.9" y1="257.5" x2="456" y2="257.5" stroke="#2a2a2a" stroke-width="1.2"/>
<line x1="238.0" y1="188.3" x2="240.3" y2="188.3" stroke="#2a2a2a" stroke-width="1"/>
<text x="235.0" y="190.60000000000002" font-size="6.8" text-anchor="end" fill="#1e1e1e" stroke="#1e1e1e" stroke-width="0.07">5</text>
<line x1="238.0" y1="211.3" x2="240.3" y2="211.3" stroke="#2a2a2a" stroke-width="1"/>
<text x="235.0" y="213.60000000000002" font-size="6.8" text-anchor="end" fill="#1e1e1e" stroke="#1e1e1e" stroke-width="0.07">0</text>
<line x1="238.0" y1="234.3" x2="240.3" y2="234.3" stroke="#2a2a2a" stroke-width="1"/>
<text x="235.0" y="236.60000000000002" font-size="6.8" text-anchor="end" fill="#1e1e1e" stroke="#1e1e1e" stroke-width="0.07">-5</text>
<line x1="238.0" y1="257.3" x2="240.3" y2="257.3" stroke="#2a2a2a" stroke-width="1"/>
<text x="235.0" y="259.6" font-size="6.8" text-anchor="end" fill="#1e1e1e" stroke="#1e1e1e" stroke-width="0.07">-10</text>
<line x1="245.6" y1="257.5" x2="245.6" y2="260.0" stroke="#2a2a2a" stroke-width="1"/>
<text x="244.79999999999998" y="268.7" font-size="6.8" text-anchor="middle" fill="#1e1e1e" stroke="#1e1e1e" stroke-width="0.07">-10</text>
<line x1="269.0" y1="257.5" x2="269.0" y2="260.0" stroke="#2a2a2a" stroke-width="1"/>
<text x="268.2" y="268.7" font-size="6.8" text-anchor="middle" fill="#1e1e1e" stroke="#1e1e1e" stroke-width="0.07">-5</text>
<line x1="292.5" y1="257.5" x2="292.5" y2="260.0" stroke="#2a2a2a" stroke-width="1"/>
<text x="292.5" y="268.7" font-size="6.8" text-anchor="middle" fill="#1e1e1e" stroke="#1e1e1e" stroke-width="0.07">0</text>
<line x1="316.3" y1="257.5" x2="316.3" y2="260.0" stroke="#2a2a2a" stroke-width="1"/>
<text x="316.3" y="268.7" font-size="6.8" text-anchor="middle" fill="#1e1e1e" stroke="#1e1e1e" stroke-width="0.07">5</text>
<line x1="365.2" y1="187.5" x2="367.5" y2="187.5" stroke="#2a2a2a" stroke-width="1"/>
<text x="362.2" y="189.8" font-size="6.8" text-anchor="end" fill="#1e1e1e" stroke="#1e1e1e" stroke-width="0.07">5</text>
<line x1="365.2" y1="210.8" x2="367.5" y2="210.8" stroke="#2a2a2a" stroke-width="1"/>
<text x="362.2" y="213.10000000000002" font-size="6.8" text-anchor="end" fill="#1e1e1e" stroke="#1e1e1e" stroke-width="0.07">0</text>
<line x1="365.2" y1="233.8" x2="367.5" y2="233.8" stroke="#2a2a2a" stroke-width="1"/>
<text x="362.2" y="236.10000000000002" font-size="6.8" text-anchor="end" fill="#1e1e1e" stroke="#1e1e1e" stroke-width="0.07">-5</text>
<line x1="365.2" y1="257.3" x2="367.5" y2="257.3" stroke="#2a2a2a" stroke-width="1"/>
<text x="362.2" y="259.6" font-size="6.8" text-anchor="end" fill="#1e1e1e" stroke="#1e1e1e" stroke-width="0.07">-10</text>
<line x1="371.8" y1="257.5" x2="371.8" y2="260.0" stroke="#2a2a2a" stroke-width="1"/>
<text x="371.0" y="268.7" font-size="6.8" text-anchor="middle" fill="#1e1e1e" stroke="#1e1e1e" stroke-width="0.07">-10</text>
<line x1="395.5" y1="257.5" x2="395.5" y2="260.0" stroke="#2a2a2a" stroke-width="1"/>
<text x="394.7" y="268.7" font-size="6.8" text-anchor="middle" fill="#1e1e1e" stroke="#1e1e1e" stroke-width="0.07">-5</text>
<line x1="419.5" y1="257.5" x2="419.5" y2="260.0" stroke="#2a2a2a" stroke-width="1"/>
<text x="419.5" y="268.7" font-size="6.8" text-anchor="middle" fill="#1e1e1e" stroke="#1e1e1e" stroke-width="0.07">0</text>
<line x1="443" y1="257.5" x2="443" y2="260.0" stroke="#2a2a2a" stroke-width="1"/>
<text x="443" y="268.7" font-size="6.8" text-anchor="middle" fill="#1e1e1e" stroke="#1e1e1e" stroke-width="0.07">5</text>
<text x="286.3" y="280" font-size="8.6" text-anchor="middle" fill="#1e1e1e" stroke="#1e1e1e" stroke-width="0.07" textLength="27.7" lengthAdjust="spacingAndGlyphs">UMAP_1</text>
<text x="413.8" y="280" font-size="8.6" text-anchor="middle" fill="#1e1e1e" stroke="#1e1e1e" stroke-width="0.07" textLength="27.7" lengthAdjust="spacingAndGlyphs">UMAP_1</text>
<text x="219.5" y="217.5" font-size="8.6" text-anchor="middle" fill="#1e1e1e" stroke="#1e1e1e" stroke-width="0.07" transform="rotate(-90 219.5 217.5)" textLength="27.6" lengthAdjust="spacingAndGlyphs">UMAP_2</text>
<text x="345.3" y="217.5" font-size="8.6" text-anchor="middle" fill="#1e1e1e" stroke="#1e1e1e" stroke-width="0.07" transform="rotate(-90 345.3 217.5)" textLength="27.6" lengthAdjust="spacingAndGlyphs">UMAP_2</text>
<text x="277.7" y="170.5" font-size="8" text-anchor="start" fill="#1e1e1e" stroke="#1e1e1e" stroke-width="0.07" textLength="16.5" lengthAdjust="spacingAndGlyphs">LKS<tspan font-size="4.96" baseline-shift="3.20">+</tspan></text>
<text x="413.85" y="171.3" font-size="8" text-anchor="middle" fill="#1e1e1e" stroke="#1e1e1e" stroke-width="0.07" textLength="67" lengthAdjust="spacingAndGlyphs">LKS<tspan font-size="4.96" baseline-shift="3.20">−</tspan> CD34<tspan font-size="4.96" baseline-shift="3.20">+</tspan> Fc&#947;R<tspan font-size="4.96" baseline-shift="3.20">+</tspan></text>
<circle cx="474.8" cy="196.7" r="2.8" fill="#3a9fd0"/>
<circle cx="474.8" cy="206.3" r="2.8" fill="#c0102a"/>
<text x="480.8" y="198.8" font-size="6.8" text-anchor="start" fill="#1e1e1e" stroke="#1e1e1e" stroke-width="0.07">M</text>
<text x="480.8" y="208.4" font-size="6.8" text-anchor="start" fill="#1e1e1e" stroke="#1e1e1e" stroke-width="0.07">M+GM</text>
<text x="7.4" y="308.8" font-size="10.9" text-anchor="start" fill="#000" font-weight="bold">F</text>
<path d="M57.7 404.3h0M49.7 402.2h0M43.5 402.7h0M40.7 403.4h0M49.5 409.0h0M48.9 408.6h0M60.6 405.4h0M47.0 402.1h0M60.3 405.9h0M53.3 402.2h0M53.0 408.5h0M47.6 403.3h0M49.1 407.4h0M44.5 404.1h0M47.2 399.4h0M43.8 404.5h0M47.3 400.8h0M58.7 407.5h0M61.3 409.1h0M60.1 404.6h0M55.2 400.6h0M52.2 408.9h0M56.1 400.3h0M42.6 403.5h0M45.1 401.0h0M52.9 407.8h0M61.0 410.1h0M54.2 409.6h0M58.8 409.6h0M61.7 406.9h0M57.9 405.4h0M57.3 407.7h0M57.1 406.9h0M46.6 402.8h0M40.0 402.6h0M41.5 401.2h0M57.3 409.7h0M49.8 406.9h0M43.0 402.8h0M56.8 405.9h0M61.5 405.8h0M57.1 402.1h0M57.1 401.6h0M49.8 402.7h0M49.5 399.8h0M55.9 402.7h0M43.6 404.2h0M44.5 405.1h0M51.0 405.3h0M56.2 407.8h0M49.4 407.5h0M59.4 410.8h0M45.9 407.0h0M51.0 410.1h0M50.3 406.9h0M58.4 405.7h0M53.0 407.6h0M59.6 406.8h0M44.0 404.3h0M60.0 410.8h0M46.5 402.3h0M48.4 408.6h0M56.3 403.1h0M55.4 403.4h0M56.7 403.2h0M52.8 404.8h0M44.2 400.2h0M42.3 403.9h0M52.2 409.8h0M57.7 409.7h0M53.4 409.0h0M57.7 407.8h0M61.6 409.5h0M44.8 404.2h0M54.8 404.6h0M58.8 404.5h0M41.3 403.0h0M55.0 404.9h0M54.1 410.2h0M47.2 403.2h0M59.0 408.8h0M58.6 401.5h0M55.0 404.2h0M46.5 404.0h0M49.7 405.8h0M55.0 401.9h0M57.4 404.3h0M59.3 404.7h0M51.7 405.2h0M45.0 404.0h0M59.7 403.9h0M44.0 405.6h0M57.4 405.0h0M53.7 406.2h0M61.4 408.4h0M60.9 406.0h0M60.7 407.6h0M50.3 405.7h0M60.3 403.8h0M56.9 401.7h0M48.1 405.7h0M57.0 402.5h0M41.2 401.4h0M54.9 408.3h0M51.1 406.7h0M50.6 406.7h0M52.2 406.2h0M52.8 408.3h0M48.8 407.7h0M59.1 406.8h0M57.8 402.8h0M54.5 406.0h0M61.2 405.1h0M49.2 403.1h0M50.2 400.3h0M52.6 406.3h0M55.7 407.0h0M50.7 406.0h0M53.0 405.2h0M58.2 403.6h0M50.5 399.7h0M50.6 408.7h0M49.7 408.0h0M53.4 401.6h0M46.1 405.1h0M54.5 402.4h0M59.3 402.2h0M45.7 402.3h0M44.6 400.8h0M47.1 402.7h0M53.3 409.7h0M48.0 404.7h0M52.6 404.6h0M53.0 404.2h0M58.5 410.5h0M52.6 407.8h0M59.8 406.6h0M55.5 410.8h0M49.2 409.0h0M42.0 403.7h0M59.8 404.2h0M56.2 401.3h0M55.6 409.8h0M49.1 401.1h0M52.5 401.9h0M50.1 404.8h0M46.9 400.0h0M44.5 400.6h0M49.6 403.9h0M52.3 408.2h0M52.8 404.7h0M44.2 405.5h0M46.7 406.6h0M52.4 400.0h0M52.3 406.0h0M42.4 403.6h0M52.4 408.2h0M57.9 406.0h0M53.8 404.0h0M59.0 409.6h0M52.2 405.1h0M41.7 403.2h0M58.7 407.6h0M58.8 407.4h0M51.8 399.7h0M53.7 408.3h0M56.7 410.5h0M46.2 405.5h0M58.0 409.2h0M47.1 405.7h0M52.5 406.5h0M53.7 406.9h0M55.8 410.7h0M48.4 400.3h0M44.1 401.8h0M55.2 404.8h0M56.7 406.2h0M46.9 400.6h0M54.8 408.8h0M48.8 403.1h0M46.4 406.9h0M56.8 408.8h0M47.2 400.8h0M58.9 407.4h0M57.3 401.0h0M54.5 410.8h0M43.5 402.4h0M51.0 408.7h0M60.8 406.3h0M48.8 400.7h0M58.9 405.3h0M44.7 401.3h0M49.2 407.4h0M49.4 409.4h0M51.1 409.8h0M49.7 399.6h0M47.6 407.3h0M52.6 405.4h0M51.8 409.1h0M51.0 402.0h0M51.7 408.7h0M56.5 403.5h0M50.2 400.5h0M47.4 403.3h0M52.3 405.9h0M43.6 405.1h0M50.3 408.7h0M51.5 400.2h0M41.7 403.8h0M50.1 408.9h0M56.9 409.2h0M53.2 408.3h0M41.2 402.6h0M56.9 406.6h0M43.4 401.3h0M57.0 410.6h0M41.9 403.4h0M57.8 403.1h0M45.1 403.5h0M44.9 399.8h0M50.8 402.4h0M44.8 405.2h0M47.8 407.2h0M59.0 402.6h0M60.4 406.6h0M50.4 401.1h0M58.4 405.0h0M47.8 403.1h0M49.0 408.5h0M58.8 408.2h0M51.7 407.1h0M50.5 406.5h0M42.7 401.5h0M56.0 401.7h0M48.1 404.9h0M43.5 402.2h0M43.8 404.1h0M48.6 408.2h0M60.6 403.7h0M59.7 403.4h0M49.1 406.9h0M52.2 410.7h0M50.1 407.5h0M54.7 406.4h0M53.7 404.2h0M43.1 402.1h0M59.4 410.6h0M53.5 410.2h0M54.1 402.5h0M61.0 409.3h0M53.8 406.6h0M58.7 407.7h0M57.9 403.4h0M57.3 407.3h0M52.5 403.4h0M57.0 409.9h0M58.7 402.3h0M44.8 401.3h0M52.6 407.1h0M41.2 402.6h0M48.6 409.3h0M54.4 409.6h0M42.9 404.2h0M54.4 409.7h0M58.3 402.0h0M57.1 410.4h0M50.0 405.0h0M47.5 401.8h0M60.7 409.5h0M60.2 406.5h0M43.2 401.3h0M54.5 401.7h0M54.2 410.2h0M48.0 402.5h0M52.4 406.9h0M45.9 405.3h0M49.2 403.9h0M52.4 399.8h0M51.2 409.1h0M42.3 401.3h0M45.7 405.1h0M59.5 402.2h0M48.0 407.4h0M54.7 401.4h0M53.0 405.9h0M42.0 403.0h0M45.5 402.4h0M51.2 408.6h0M47.9 406.4h0M56.2 400.7h0M57.4 401.7h0M55.4 407.6h0M60.9 410.4h0M42.3 400.9h0M57.3 401.7h0M56.5 407.8h0M60.8 410.5h0M61.7 407.1h0M55.5 401.3h0M55.0 404.2h0M46.5 399.3h0M53.5 410.6h0M44.7 405.8h0M58.0 405.5h0M61.2 408.8h0M48.8 400.4h0M53.7 403.5h0M58.5 403.7h0M41.8 402.8h0M50.3 404.9h0M59.1 406.7h0M60.4 408.2h0M49.6 409.0h0M46.1 406.3h0M56.0 400.9h0M46.9 406.1h0M45.4 404.7h0M60.2 410.4h0M52.9 401.4h0M55.0 400.5h0M57.6 410.3h0M50.0 403.8h0M44.2 400.7h0M52.4 407.6h0M61.6 407.6h0M56.3 404.9h0M44.0 399.8h0M46.1 402.5h0M51.4 405.8h0M49.3 400.6h0M42.7 403.6h0M42.4 401.8h0M47.4 405.2h0M57.5 401.6h0M44.4 402.0h0M48.4 404.4h0M52.3 406.9h0M54.6 410.6h0M61.4 406.5h0M52.2 403.4h0M44.1 400.3h0M52.3 405.0h0M58.9 403.6h0M60.6 406.6h0M56.2 401.0h0M58.1 410.1h0M48.5 403.9h0M49.6 400.1h0M47.9 404.9h0M60.9 404.9h0M42.4 400.6h0M57.4 407.8h0M57.7 402.9h0M44.8 403.1h0M56.5 408.6h0M41.8 403.2h0M50.6 407.9h0M44.6 403.1h0M48.5 409.1h0M61.4 408.9h0M50.3 403.8h0M60.2 404.8h0M55.1 407.8h0M59.4 405.0h0M54.3 400.8h0M56.3 409.8h0M58.7 406.4h0M55.3 404.2h0M51.0 400.8h0M57.6 406.3h0M57.5 400.5h0M55.4 401.3h0M54.0 408.9h0M46.7 406.5h0M55.3 408.8h0M48.1 407.4h0M61.4 407.0h0M52.5 409.8h0M49.9 409.6h0M58.4 405.2h0M51.4 403.4h0M53.6 407.6h0M61.2 408.4h0M60.0 409.3h0M49.0 404.8h0M54.7 405.7h0M56.5 404.2h0M50.8 403.1h0M51.0 406.3h0M55.8 406.8h0M56.7 406.1h0M55.4 402.9h0M56.8 404.9h0M58.5 407.5h0M54.8 406.9h0M49.3 403.8h0M57.3 403.4h0M56.2 403.0h0M59.5 409.9h0M52.1 410.7h0M54.1 403.9h0M54.7 405.5h0M56.0 403.0h0M52.9 404.7h0M60.4 408.1h0M60.4 408.7h0M49.7 405.3h0M49.7 407.1h0M49.8 404.4h0M54.9 410.0h0M52.5 406.2h0M60.7 408.7h0M59.6 406.6h0M48.9 404.6h0M49.7 407.0h0M59.6 405.7h0M55.5 407.8h0M56.6 408.9h0M54.7 406.2h0M54.8 406.5h0M49.8 406.2h0M56.1 407.3h0M54.5 407.3h0M52.1 404.3h0M55.6 406.0h0M50.3 403.5h0M49.8 407.5h0M56.9 409.1h0M51.8 403.6h0M54.7 410.2h0M59.8 409.9h0M56.7 410.0h0M55.3 409.6h0M53.3 402.4h0M53.8 405.9h0M57.3 405.5h0M59.1 408.2h0M53.8 406.0h0M55.2 406.7h0M53.3 402.5h0M56.2 410.5h0M59.9 405.8h0M51.5 407.3h0M50.3 403.8h0M56.8 406.1h0M56.8 409.3h0M55.3 406.0h0M54.1 403.5h0M55.9 409.7h0M48.9 406.5h0M50.0 407.7h0M59.9 410.1h0M50.0 403.9h0M54.1 407.2h0M59.3 410.4h0M54.8 403.7h0M56.1 403.3h0M48.6 405.4h0M48.0 405.2h0M55.1 409.6h0M48.8 406.2h0M54.0 404.4h0M53.7 405.0h0M56.4 410.0h0M60.0 408.8h0M55.3 410.6h0M55.2 405.4h0M48.2 403.8h0M49.0 406.0h0M48.1 405.2h0M59.1 410.1h0M54.8 406.6h0M51.4 404.4h0M60.1 409.9h0M53.6 410.7h0M51.6 407.9h0M55.3 409.6h0M56.5 405.1h0M58.8 406.5h0M51.9 410.2h0M54.9 404.0h0M56.8 404.2h0M55.4 402.4h0M47.8 404.6h0M53.0 403.6h0M48.3 403.8h0M54.6 409.5h0M58.6 410.1h0M55.3 410.1h0M59.5 408.8h0M53.7 408.0h0M57.7 404.6h0M58.1 410.7h0M55.5 402.6h0M49.4 403.5h0M58.0 405.6h0M59.2 406.7h0M52.0 405.7h0M52.3 404.6h0M48.9 406.5h0M54.3 407.5h0M59.1 405.3h0M53.2 410.1h0M54.6 404.4h0M49.9 407.7h0M53.9 403.5h0M53.2 409.1h0M52.3 406.1h0M52.5 409.9h0M55.8 406.3h0M51.6 406.2h0M51.6 407.7h0M53.9 410.4h0M50.7 407.6h0M48.3 404.3h0M58.6 406.3h0M57.0 409.2h0M54.7 405.8h0M58.0 407.4h0M54.6 404.3h0M59.8 407.1h0M60.1 408.5h0M47.6 404.7h0M53.3 405.3h0M59.0 405.4h0M59.3 408.1h0M54.8 409.8h0M51.6 407.4h0M56.8 407.0h0M50.7 405.3h0M47.5 404.1h0M52.6 410.5h0M55.5 407.3h0M50.6 407.1h0M55.4 410.5h0M51.8 407.4h0M53.5 404.3h0M59.2 407.1h0M60.0 406.1h0M53.9 408.2h0M59.2 410.0h0M53.7 408.9h0M52.4 405.1h0M58.4 407.8h0M57.6 405.3h0M58.3 404.8h0M53.6 407.3h0M52.8 406.3h0M57.9 408.1h0M56.7 409.4h0M58.2 405.0h0M58.7 404.5h0M51.3 404.9h0M50.9 403.7h0M56.9 410.3h0M57.6 409.7h0M55.5 402.9h0M59.0 408.3h0M54.9 408.7h0M51.7 403.7h0M57.3 408.1h0M51.8 410.4h0M51.2 405.4h0M58.3 408.6h0M55.4 410.2h0M54.2 408.9h0M54.1 407.7h0M52.1 406.4h0M56.5 403.7h0M49.5 404.0h0M49.3 405.1h0M56.9 409.7h0M52.0 409.9h0M60.0 410.2h0M60.5 408.8h0M52.1 409.2h0M51.6 405.5h0M60.0 409.0h0M55.0 409.5h0M60.3 409.0h0M56.7 406.8h0M54.8 407.8h0M51.3 408.5h0M54.0 409.8h0M54.9 410.5h0M60.3 406.6h0M54.5 407.1h0M54.3 404.3h0M52.6 409.3h0M58.5 408.0h0M57.8 406.2h0M56.1 408.7h0M53.8 408.1h0M57.2 405.6h0M55.3 403.8h0M57.7 409.6h0M61.4 409.2h0M50.9 405.3h0M57.5 405.0h0M58.1 410.1h0M57.4 400.1h0M53.0 397.6h0M51.1 396.7h0M55.7 397.3h0M48.4 395.8h0M47.0 400.5h0M44.7 397.3h0M40.1 401.2h0M50.5 395.5h0M43.6 397.8h0M44.5 396.5h0M50.7 399.2h0M50.9 398.9h0M50.2 396.9h0M80.3 387.5h0M80.5 394.1h0M78.0 392.0h0M86.1 388.6h0M72.0 408.2h0M97.1 392.4h0M79.1 392.6h0M84.5 388.7h0M89.8 402.2h0M79.3 402.1h0M75.4 390.3h0M82.3 393.7h0M95.1 386.8h0M71.6 409.0h0M101.1 386.6h0M76.4 390.4h0M94.2 386.4h0M93.6 388.8h0M96.2 388.1h0M75.4 405.1h0M84.3 394.8h0M90.0 391.5h0M73.2 394.0h0M83.1 389.0h0M81.1 393.4h0M92.2 389.8h0M89.6 401.8h0M80.9 409.0h0M93.5 385.2h0M78.2 399.0h0M93.5 386.3h0M94.7 390.4h0M97.5 389.0h0M79.8 387.6h0M75.3 403.2h0M97.8 385.6h0M95.1 396.9h0M79.0 400.2h0M72.5 396.1h0M79.4 399.7h0M72.1 394.2h0M89.5 394.0h0M97.0 385.6h0M97.3 387.9h0M77.5 408.3h0M89.7 389.1h0M83.8 397.4h0M83.8 403.2h0M93.4 390.0h0M76.5 406.3h0M88.8 399.5h0M72.4 395.6h0M72.8 401.1h0M74.4 395.4h0M95.6 388.3h0M100.4 384.5h0M74.5 403.4h0M95.8 386.3h0M93.6 389.4h0M85.1 403.0h0M86.0 402.3h0M95.5 392.6h0M87.1 390.3h0M99.5 387.0h0M84.6 402.5h0M79.4 393.7h0M72.3 399.0h0M77.5 392.7h0M81.6 398.8h0M87.0 394.4h0M80.7 399.1h0M92.7 399.4h0M76.4 397.9h0M98.3 389.6h0M85.5 392.2h0M88.9 394.3h0M95.4 384.8h0M99.0 387.4h0M74.2 403.7h0M93.1 396.0h0M81.2 397.1h0M75.4 397.4h0M83.5 405.5h0M86.4 395.1h0M82.6 400.5h0M79.7 393.7h0M87.5 385.8h0M98.9 387.0h0M81.2 393.1h0M88.7 394.5h0M72.8 406.7h0M91.7 389.6h0M84.3 402.5h0M77.4 407.3h0M78.8 388.3h0M99.1 391.6h0M73.4 406.5h0M93.6 384.7h0M72.6 392.6h0M80.1 389.5h0M88.0 388.9h0M75.0 398.4h0M98.8 386.8h0M80.3 398.1h0M87.0 401.3h0M73.2 402.7h0M100.5 387.3h0M79.2 388.0h0M95.1 387.4h0M73.6 410.3h0M80.4 394.6h0M71.7 398.8h0M75.1 397.6h0M77.6 393.9h0M80.2 399.1h0M83.8 407.8h0M88.1 397.4h0M75.7 406.7h0M78.2 410.7h0M72.4 395.0h0M73.0 395.5h0M72.7 401.3h0M94.2 388.8h0M96.4 385.7h0M92.3 388.9h0M96.7 390.3h0M92.3 397.2h0M81.3 400.8h0M75.2 402.7h0M93.9 387.9h0M91.8 385.0h0M76.5 402.7h0M86.6 395.0h0M76.3 405.7h0M99.8 386.5h0M89.1 396.0h0M80.0 410.0h0M82.7 389.2h0M80.4 395.8h0M79.4 403.2h0M99.8 390.5h0M77.8 396.6h0M86.1 386.7h0M86.7 394.5h0M95.0 390.8h0M78.2 403.2h0M100.1 389.7h0M82.7 387.9h0M75.5 400.3h0M72.8 404.6h0M81.5 402.5h0M88.1 403.6h0M89.8 389.2h0M94.0 396.3h0M82.7 397.7h0M102.5 382.7h0M80.8 409.5h0M76.2 393.4h0M90.3 397.8h0M87.5 403.0h0M88.8 391.4h0M91.5 399.7h0M82.6 389.6h0M80.0 391.1h0M88.7 396.4h0M88.5 401.7h0M97.6 390.1h0M97.2 383.8h0M98.7 387.4h0M95.4 393.8h0M84.5 408.7h0M99.7 389.5h0M90.9 398.4h0M83.5 392.5h0M84.2 387.9h0M80.8 396.5h0M89.1 390.3h0M102.6 383.3h0M93.2 391.9h0M88.0 403.7h0M77.5 398.6h0M80.7 409.1h0M89.1 402.7h0M98.1 385.4h0M90.3 399.0h0M88.8 392.2h0M72.0 397.9h0M71.1 406.2h0M75.7 409.9h0M98.3 388.0h0M78.9 408.5h0M77.5 400.8h0M96.8 393.2h0M76.2 399.4h0M98.1 386.6h0M79.8 391.0h0M78.5 399.6h0M90.4 396.1h0M78.5 398.5h0M80.4 390.7h0M98.7 391.8h0M96.6 395.5h0M101.3 386.0h0M82.6 408.3h0M84.5 397.3h0M83.4 404.2h0M98.4 388.0h0M82.6 408.6h0M88.4 401.4h0M88.6 393.2h0M92.8 396.1h0M90.3 397.4h0M95.7 391.2h0M84.9 407.2h0M99.2 389.1h0M92.4 394.2h0M85.3 402.8h0M75.0 395.3h0M87.1 387.4h0M72.4 407.1h0M88.3 387.8h0M87.7 405.0h0M76.7 401.0h0M85.2 398.0h0M94.0 392.2h0M94.1 397.7h0M80.2 401.5h0M87.4 396.6h0M85.2 402.3h0M85.8 405.8h0M83.7 403.7h0M79.1 399.1h0M83.3 400.7h0M91.9 394.5h0M94.3 386.4h0M93.0 390.8h0M89.1 389.3h0M78.7 398.9h0M87.7 396.4h0M89.2 394.7h0M81.6 404.5h0M71.5 408.1h0M97.3 391.9h0M74.3 409.6h0M84.0 401.3h0M81.4 398.5h0M92.2 399.9h0M76.1 389.6h0M86.2 391.9h0M97.9 388.1h0M74.9 404.9h0M80.8 406.0h0M92.1 391.1h0M95.8 386.4h0M100.6 384.9h0M76.5 394.5h0M71.5 410.5h0M74.4 401.4h0M88.7 390.7h0M75.7 404.0h0M71.5 400.9h0M72.8 393.1h0M86.9 404.9h0M74.6 403.6h0M76.4 398.4h0M76.4 395.9h0M89.5 388.9h0M79.7 405.9h0M76.6 409.6h0M85.9 390.7h0M77.9 399.9h0M79.5 396.9h0M77.3 391.4h0M77.5 397.1h0M77.9 409.3h0M80.2 396.2h0M96.1 383.9h0M94.0 385.9h0M97.0 392.4h0M88.3 393.9h0M88.2 395.1h0M84.1 392.7h0M80.7 407.0h0M95.6 395.5h0M74.9 404.0h0M98.9 389.5h0M84.3 387.8h0M76.0 409.4h0M78.3 393.3h0M82.4 392.2h0M82.6 400.4h0M85.0 396.1h0M98.9 391.5h0M87.2 396.3h0M91.5 395.3h0M82.8 407.8h0M92.4 397.2h0M92.9 399.2h0M97.9 386.3h0M83.1 394.0h0M93.6 387.6h0M73.7 407.0h0M73.1 405.7h0M88.9 396.3h0M90.1 392.0h0M74.6 397.5h0M71.3 408.8h0M95.5 391.7h0M99.9 388.4h0M78.6 389.3h0M77.9 402.9h0M98.8 390.8h0M101.7 383.7h0M85.2 391.0h0M97.1 384.4h0M82.6 391.1h0M82.0 391.6h0M84.4 388.0h0M83.8 401.0h0M85.5 389.2h0M85.6 407.2h0M83.3 387.8h0M96.6 386.8h0M84.1 391.4h0M99.8 383.3h0M75.6 403.5h0M89.4 392.5h0M87.2 388.9h0M85.5 397.4h0M78.3 389.4h0M71.6 398.9h0M85.0 401.4h0M85.0 394.2h0M91.8 399.9h0M99.2 389.0h0M98.4 390.5h0M98.5 384.3h0M75.1 407.4h0M93.0 391.9h0M82.1 408.5h0M72.6 404.5h0M89.3 391.0h0M77.8 406.4h0M77.0 396.8h0M96.7 384.9h0M93.5 392.5h0M79.4 393.2h0M72.4 405.1h0M87.6 389.8h0M92.7 386.0h0M92.4 386.9h0M73.1 405.2h0M94.6 389.1h0M87.6 398.4h0M76.2 399.8h0M87.4 396.9h0M85.3 401.7h0M80.2 393.6h0M74.1 396.8h0M85.1 395.9h0M81.5 389.0h0M86.5 398.0h0M95.0 385.1h0M92.4 395.8h0M78.1 391.1h0M92.9 396.2h0M86.6 390.2h0M71.8 406.9h0M101.0 389.8h0M93.1 385.1h0M81.0 390.4h0M75.1 393.4h0M84.1 394.7h0M90.5 391.3h0M84.6 406.7h0M89.4 392.3h0M92.6 388.7h0M101.1 389.1h0M74.7 396.9h0M87.8 393.8h0M91.4 395.1h0M85.6 407.4h0M83.3 405.8h0M99.4 387.4h0M90.2 401.2h0M90.8 388.0h0M90.7 397.7h0M89.7 399.0h0M101.9 385.1h0M73.6 403.3h0M82.9 388.2h0M73.2 392.7h0M91.6 391.9h0M83.5 390.8h0M89.1 398.7h0M85.0 406.6h0M75.3 409.6h0M98.3 392.7h0M83.7 388.6h0M99.0 384.2h0M88.1 391.3h0M92.2 396.6h0M78.6 390.0h0M92.8 394.2h0M76.4 389.4h0M84.8 402.2h0M87.6 389.2h0M83.2 410.3h0M92.4 396.3h0M89.9 398.4h0M81.0 409.8h0M85.6 390.2h0M83.8 396.9h0M80.2 390.3h0M80.2 397.8h0M83.2 407.7h0M75.5 399.1h0M84.6 400.0h0M95.3 396.9h0M85.4 407.6h0M71.2 409.6h0M75.1 397.6h0M74.8 403.0h0M80.5 397.4h0M78.7 403.3h0M72.8 401.1h0M91.7 397.5h0M82.2 391.0h0M72.4 392.0h0M85.2 387.3h0M98.6 387.7h0M94.7 387.6h0M75.2 409.2h0M88.3 389.3h0M93.9 396.6h0M87.5 400.2h0M83.4 386.9h0M98.4 385.4h0M82.3 394.0h0M76.8 399.8h0M96.6 394.7h0M101.0 383.9h0M80.5 390.4h0M74.6 402.6h0M73.5 405.7h0M78.6 389.8h0M80.3 388.6h0M83.6 396.2h0M87.3 385.9h0M93.9 389.0h0M96.2 392.4h0M85.6 406.1h0M96.0 393.4h0M89.9 401.7h0M76.0 408.8h0M99.3 391.0h0M99.6 390.9h0M73.7 395.7h0M87.9 392.1h0M83.6 399.3h0M89.2 395.4h0M79.9 397.2h0M101.8 385.4h0M81.4 388.9h0M91.4 391.9h0M92.5 394.1h0M85.6 398.5h0M80.2 396.6h0M72.3 397.3h0M100.4 388.9h0M78.2 406.5h0M74.2 409.8h0M72.6 408.3h0M82.0 404.3h0M84.8 402.8h0M75.2 405.1h0M79.2 389.1h0M73.9 397.6h0M80.7 401.6h0M90.8 393.2h0M78.0 401.7h0M90.1 388.7h0M74.1 398.7h0M80.7 403.2h0M73.4 394.0h0M83.8 397.5h0M88.0 388.7h0M88.8 399.0h0M75.4 407.5h0M87.1 393.3h0M95.5 395.0h0M91.7 385.1h0M98.8 384.4h0M95.0 395.6h0M83.6 403.3h0M77.2 403.6h0M91.5 394.9h0M78.0 402.8h0M72.7 398.9h0M100.3 390.3h0M89.6 385.6h0M92.2 386.3h0M89.4 396.5h0M84.2 402.1h0M92.9 395.8h0M99.7 387.6h0M72.1 401.2h0M99.9 386.1h0M95.5 395.3h0M89.1 394.2h0M97.0 390.9h0M79.1 402.4h0M82.3 401.0h0M78.7 395.0h0M93.5 394.0h0M78.8 390.5h0M77.8 404.9h0M71.4 404.1h0M82.0 407.1h0M82.0 396.7h0M73.7 396.1h0M78.4 391.9h0M86.7 394.2h0M85.0 406.8h0M81.9 406.2h0M90.5 400.2h0M80.6 398.5h0M97.8 384.9h0M90.9 398.5h0M88.4 401.0h0M87.4 387.4h0M102.2 383.2h0M90.9 394.1h0M83.3 386.7h0M78.8 389.4h0M81.2 399.6h0M78.8 392.1h0M82.5 390.9h0M72.0 403.3h0M73.4 395.0h0M86.7 394.2h0M94.2 384.2h0M82.2 397.2h0M86.6 393.1h0M90.6 387.4h0M90.6 392.5h0M83.9 402.6h0M81.8 408.5h0M89.6 395.9h0M88.9 387.8h0M102.6 384.8h0M100.7 386.4h0M85.3 396.2h0M82.9 407.2h0M76.0 391.8h0M83.1 402.3h0M72.2 399.4h0M73.4 393.5h0M88.4 394.2h0M83.3 391.4h0M78.7 405.8h0M97.2 387.0h0M90.3 387.4h0M79.9 389.9h0M74.3 409.6h0M78.2 396.2h0M96.6 388.5h0M100.9 386.3h0M78.1 406.7h0M73.2 392.1h0M73.5 406.5h0M73.3 408.3h0M79.7 403.6h0M74.6 390.1h0M82.8 392.0h0M74.2 399.8h0M82.3 400.7h0M73.9 401.4h0M72.3 395.0h0M88.2 391.8h0M92.1 390.1h0M87.6 391.8h0M94.9 394.2h0M97.1 393.1h0M72.0 397.1h0M85.5 393.2h0M86.4 400.5h0M85.7 403.9h0M81.6 389.6h0M98.8 388.9h0M72.9 395.0h0M82.6 405.1h0M89.1 401.4h0M86.6 388.9h0M90.0 390.5h0M91.7 391.2h0M91.6 389.3h0M78.1 393.9h0M89.2 391.6h0M86.3 390.2h0M80.9 401.6h0M75.6 392.5h0M71.1 402.9h0M71.9 404.9h0M98.1 385.8h0M85.9 387.9h0M83.6 400.3h0M71.5 403.1h0M101.1 388.4h0M96.5 386.3h0M79.3 395.1h0M86.3 391.2h0M75.3 400.2h0M87.8 397.7h0M76.5 400.5h0M84.4 386.5h0M81.1 402.0h0M87.2 403.2h0M82.2 388.0h0M88.6 398.0h0M93.3 392.7h0M90.3 387.9h0M100.0 387.5h0M90.9 391.9h0M91.9 393.7h0M96.1 392.8h0M81.8 390.3h0M77.8 398.9h0M97.3 384.7h0M81.9 397.8h0M74.9 399.2h0M79.9 392.4h0M100.9 389.7h0M83.9 405.7h0M72.9 401.9h0M83.7 406.6h0M75.6 399.9h0M89.7 385.6h0M88.8 402.1h0M96.9 394.8h0M86.5 402.5h0M101.6 383.6h0M92.5 392.4h0M83.6 389.2h0M85.1 396.9h0M76.1 394.8h0M83.6 389.1h0M76.9 399.4h0M71.4 408.3h0M94.9 385.5h0M86.3 402.4h0M72.8 404.2h0M86.3 386.8h0M89.3 390.2h0M91.1 385.1h0M76.9 396.6h0M81.7 405.4h0M83.0 394.1h0M75.6 408.5h0M94.5 385.5h0M99.6 387.6h0M95.2 393.7h0M87.9 398.4h0M80.9 407.3h0M86.2 402.8h0M89.7 395.4h0M101.0 383.9h0M73.5 401.1h0M96.1 394.0h0M81.8 400.4h0M78.7 409.2h0M94.9 390.8h0M77.1 389.5h0M83.6 391.2h0M86.0 393.6h0M98.9 389.4h0M77.2 402.1h0M94.1 395.7h0M97.3 388.0h0M79.4 397.7h0M94.5 393.7h0M92.2 387.3h0M87.0 392.3h0M87.7 394.8h0M79.2 408.1h0M94.9 391.5h0M92.7 387.9h0M88.6 401.7h0M91.1 396.8h0M73.4 404.8h0M84.8 399.5h0M77.9 409.2h0M76.7 400.9h0M93.5 385.2h0M79.5 409.9h0M86.3 386.1h0M94.4 391.1h0M74.6 398.3h0M95.4 390.3h0M74.5 390.9h0M90.3 400.0h0M78.8 394.4h0M74.3 394.8h0M84.0 400.9h0M86.6 394.7h0M85.0 391.3h0M82.3 390.5h0M95.1 385.4h0M84.1 395.0h0M72.2 404.7h0M79.4 396.2h0M94.2 397.5h0M100.1 392.0h0M83.9 392.0h0M77.2 394.3h0M91.1 388.2h0M91.1 396.7h0M72.2 405.7h0M92.9 385.3h0M70.7 407.1h0M82.1 391.1h0M96.1 393.4h0M76.1 393.1h0M72.6 398.5h0M78.1 398.1h0M89.1 390.1h0M87.9 397.7h0M100.7 387.3h0M83.8 402.8h0M79.1 396.6h0M75.0 399.9h0M94.6 397.1h0M88.4 397.4h0M72.9 394.3h0M80.4 401.0h0M86.9 400.5h0M70.7 408.9h0M96.4 387.5h0M100.8 383.4h0M76.8 410.6h0M81.1 407.8h0M84.2 390.3h0M83.7 399.3h0M74.7 395.6h0M83.4 397.4h0M87.4 388.5h0M76.2 399.5h0M87.3 399.7h0M90.6 392.0h0M88.4 398.9h0M71.1 409.6h0M71.6 402.6h0M76.2 398.4h0M84.0 392.7h0M82.6 395.8h0M85.4 391.4h0M78.9 394.5h0M84.0 407.2h0M86.8 397.2h0M88.4 404.4h0M87.0 400.6h0M81.9 401.8h0M81.4 399.2h0M83.5 393.7h0M97.7 387.1h0M86.5 393.0h0M82.2 409.3h0M71.2 404.6h0M98.4 391.4h0M88.3 399.3h0M76.3 396.7h0M95.6 389.1h0M75.1 398.9h0M85.8 395.4h0M80.9 400.1h0M89.3 396.1h0M81.0 392.0h0M93.3 397.5h0M70.8 408.5h0M76.8 389.4h0M83.0 393.0h0M85.1 388.8h0M83.7 391.2h0M92.0 399.5h0M84.4 395.2h0M92.6 396.5h0M96.2 394.4h0M85.6 395.8h0M77.7 400.6h0M80.8 408.7h0M79.1 396.7h0M87.2 395.1h0M92.7 399.9h0M79.2 394.5h0M101.4 386.4h0M88.5 390.5h0M78.4 400.7h0M101.3 383.2h0M81.0 403.6h0M99.2 388.8h0M74.4 395.0h0M93.4 396.9h0M81.4 409.7h0M79.6 405.1h0M77.7 400.0h0M82.9 405.0h0M74.2 392.6h0M81.5 405.2h0M81.9 397.6h0M86.7 404.1h0M87.6 397.4h0M93.6 396.4h0M82.1 400.1h0M86.5 391.5h0M74.5 396.6h0M71.9 400.0h0M92.0 385.3h0M78.3 395.7h0M95.9 385.3h0M93.7 394.2h0M89.9 392.2h0M79.9 407.3h0M80.3 406.5h0M96.2 393.0h0M79.1 394.1h0M99.8 388.9h0M85.0 403.4h0M91.5 401.3h0M89.5 395.1h0M70.9 410.8h0M72.5 397.2h0M99.6 384.2h0M97.6 386.7h0M82.0 387.5h0M89.7 390.0h0M81.2 397.9h0M83.1 408.4h0M82.2 400.6h0M89.4 390.1h0M91.3 390.9h0M76.3 395.4h0M90.8 393.2h0M75.2 399.2h0M96.8 392.5h0M96.0 394.7h0M84.0 408.9h0M86.6 390.7h0M89.7 403.3h0M83.4 399.4h0M83.3 392.4h0M80.2 401.3h0M96.1 385.9h0M86.9 404.3h0M87.7 388.5h0M76.3 393.1h0M82.2 410.3h0M76.5 398.9h0M72.9 401.5h0M91.1 393.0h0M95.0 395.4h0M77.8 403.6h0M85.6 396.9h0M80.4 408.6h0M83.5 406.0h0M86.5 394.7h0M94.0 398.7h0M92.9 388.2h0M92.8 390.1h0M82.6 395.6h0M81.1 391.8h0M85.6 405.7h0M91.3 387.5h0M84.0 394.3h0M84.8 398.3h0M98.4 386.9h0M97.4 393.6h0M95.8 387.7h0M91.6 397.5h0M72.4 391.9h0M91.6 387.2h0M84.2 397.1h0M90.6 401.0h0M81.2 388.1h0M78.0 400.7h0M87.1 393.9h0M81.4 405.2h0M82.9 410.2h0M81.3 404.7h0M93.2 392.0h0M89.8 402.3h0M85.3 401.3h0M75.4 407.4h0M84.7 403.3h0M89.8 391.2h0M98.0 384.7h0M82.7 409.9h0M74.8 406.8h0M89.4 386.7h0M71.8 406.9h0M80.6 388.0h0M79.6 408.9h0M71.4 409.4h0M100.7 389.0h0M89.0 395.4h0M82.2 404.2h0M79.0 407.0h0M92.0 399.8h0M78.8 394.2h0M82.8 407.3h0M85.0 397.7h0M97.5 383.9h0M97.6 393.4h0M70.8 409.1h0M92.6 396.6h0M95.9 392.9h0M92.2 395.4h0M82.5 389.7h0M96.6 390.8h0M96.1 395.6h0M83.0 399.5h0M86.2 400.4h0M82.3 389.2h0M96.2 394.3h0M74.1 405.3h0M72.9 396.2h0M82.6 408.0h0M95.0 392.1h0M91.5 388.9h0M72.4 400.5h0M94.3 386.0h0M84.7 399.0h0M75.3 395.3h0M89.1 399.0h0M89.6 389.6h0M85.5 397.1h0M97.7 391.2h0M76.0 401.5h0M90.8 389.0h0M71.4 404.4h0M94.9 391.6h0M80.3 405.5h0M83.2 408.2h0M90.3 385.5h0M88.7 396.9h0M82.9 402.1h0M97.3 384.5h0M80.9 406.6h0M76.1 395.4h0M80.0 393.8h0M74.6 401.2h0M72.8 408.5h0M77.2 408.5h0M94.2 388.8h0M83.3 393.2h0M81.4 389.0h0M78.0 398.4h0M91.3 399.6h0M85.1 403.6h0M79.4 396.8h0M90.4 401.0h0M101.3 388.3h0M76.0 389.7h0M95.5 384.2h0M74.1 393.8h0M83.5 387.8h0M81.5 403.8h0M84.9 394.8h0M88.6 402.5h0M86.1 399.5h0M90.8 386.6h0M77.9 403.7h0M85.6 395.7h0M77.6 397.2h0M99.5 392.2h0M75.6 401.5h0M80.0 398.1h0M78.3 405.1h0M80.5 389.7h0M71.5 406.7h0M82.6 395.9h0M84.1 387.7h0M93.6 388.2h0M70.7 409.7h0M95.9 386.1h0M84.2 408.0h0M80.6 406.5h0M92.9 389.3h0M80.4 394.9h0M92.6 393.4h0M82.4 389.7h0M94.4 387.9h0M76.2 407.6h0M75.1 403.2h0M94.0 393.0h0M73.9 397.7h0M75.6 400.3h0M88.7 388.3h0M87.7 389.6h0M85.5 403.0h0M91.6 386.1h0M86.9 397.6h0M84.7 405.2h0M83.3 403.1h0M78.9 403.2h0M86.0 396.4h0M75.1 405.0h0M75.1 404.6h0M75.0 408.7h0M86.4 404.4h0M77.6 403.7h0M75.7 406.9h0M80.7 401.1h0M82.6 403.2h0M84.1 403.3h0M88.5 396.7h0M87.5 395.8h0M88.7 398.2h0M85.2 404.1h0M85.6 402.3h0M78.9 407.4h0M78.0 404.1h0M79.3 401.9h0M77.3 405.2h0M88.1 398.9h0M81.3 401.5h0M80.7 398.6h0M83.7 397.0h0M71.7 409.8h0M83.5 400.3h0M78.8 401.5h0M77.6 410.5h0M71.4 406.4h0M72.6 405.6h0M85.7 397.2h0M78.2 410.7h0M83.2 407.2h0M74.9 410.6h0M80.4 398.8h0M74.0 410.2h0M77.4 408.0h0M78.7 401.1h0M74.7 410.1h0M82.5 402.8h0M82.4 399.6h0M79.5 406.5h0M81.2 403.9h0M86.8 399.9h0M81.2 402.8h0M86.0 397.0h0M80.3 407.8h0M74.6 402.2h0M85.9 396.9h0M83.1 403.3h0M76.7 403.0h0M71.6 409.1h0M88.7 397.4h0M75.0 402.8h0M75.8 407.8h0M85.6 398.5h0M77.4 402.5h0M83.8 405.2h0M83.8 406.0h0M82.5 400.3h0M81.8 407.5h0M82.1 410.0h0M88.3 397.7h0M85.0 407.0h0M78.1 406.0h0M86.3 404.6h0M81.3 402.2h0M71.5 405.2h0M85.1 400.7h0M72.0 408.8h0M83.5 409.0h0M76.5 400.0h0M72.7 403.4h0M81.6 399.3h0M86.1 403.6h0M77.4 402.2h0M79.5 408.2h0M88.3 397.4h0M78.6 399.4h0M84.6 401.1h0M82.3 409.8h0M81.4 397.7h0M83.5 400.3h0M91.9 394.1h0M83.4 400.9h0M87.5 401.5h0M73.0 406.2h0M80.2 404.8h0M71.9 406.4h0M73.9 402.8h0M75.1 402.6h0M72.5 404.1h0M74.6 409.8h0M82.6 405.5h0M82.6 401.5h0M79.8 410.6h0M76.2 402.5h0M77.9 410.7h0M79.7 399.3h0M84.4 405.4h0M83.9 401.0h0M71.6 404.3h0M85.2 406.1h0M71.3 407.6h0M83.7 401.7h0M81.0 409.9h0M78.9 408.7h0M86.7 397.8h0M83.8 396.8h0M79.4 408.2h0M80.4 406.4h0M84.6 405.6h0M83.8 405.7h0M73.7 410.1h0M71.4 408.1h0M75.7 406.5h0M75.6 405.0h0M76.1 401.8h0M76.0 407.0h0M77.0 408.0h0M78.9 404.2h0M85.3 398.3h0M78.7 408.7h0M82.0 410.8h0M72.7 408.3h0M77.6 408.6h0M85.6 400.1h0M78.4 409.7h0M82.9 398.5h0M74.5 407.1h0M90.7 395.6h0M76.5 403.3h0M77.0 399.9h0M77.8 409.4h0M72.6 403.5h0M74.7 403.8h0M88.7 396.4h0M77.7 400.4h0M82.7 399.1h0M83.7 400.9h0M77.3 401.6h0M80.0 400.4h0M79.8 404.6h0M86.1 399.7h0M85.1 401.5h0M87.5 401.2h0M71.8 403.4h0M82.8 404.2h0M81.4 406.2h0M72.4 403.2h0M73.5 404.8h0M86.5 400.1h0M85.7 399.0h0M78.2 408.3h0M84.3 401.1h0M87.5 401.9h0M88.0 400.5h0M72.0 407.2h0M78.3 409.1h0M80.4 408.5h0M76.1 403.9h0M89.0 395.4h0M88.1 399.2h0M83.5 407.9h0M80.1 402.3h0M79.6 409.9h0M77.6 410.7h0M73.6 404.3h0M84.9 398.2h0M84.6 401.2h0M83.7 404.5h0M85.2 405.9h0M84.9 406.5h0M80.6 406.4h0M82.6 403.4h0M81.6 408.5h0M81.5 408.1h0M80.5 398.5h0M73.9 405.0h0M80.2 410.7h0M77.9 408.0h0M75.1 406.2h0M90.0 397.4h0M82.9 401.5h0M71.0 409.6h0M77.9 410.7h0M86.1 403.7h0M77.1 407.2h0M79.7 398.8h0M86.2 403.1h0M75.4 401.4h0M74.9 401.1h0M82.3 402.9h0M74.4 405.5h0M71.9 406.0h0M73.7 405.1h0M75.3 404.3h0M78.8 405.1h0M82.7 408.0h0M88.3 396.7h0M82.4 403.1h0M78.1 403.2h0M77.8 408.3h0M79.2 404.4h0M76.0 404.6h0M76.6 406.4h0M84.0 406.6h0M85.4 397.9h0M82.3 399.4h0M89.8 397.5h0M71.3 410.1h0M79.2 409.2h0M72.6 409.0h0M77.5 410.1h0M77.6 405.8h0M86.6 396.1h0M88.9 396.1h0M70.8 407.9h0M86.6 401.8h0M84.8 396.7h0M85.2 398.4h0M73.1 409.5h0M73.8 405.1h0M80.4 409.0h0M82.8 403.4h0M87.3 400.6h0M85.9 397.9h0M74.2 404.8h0M81.5 402.7h0M82.1 398.0h0M77.0 409.0h0M76.6 401.3h0M86.7 397.6h0M75.1 400.8h0M78.2 403.8h0M74.4 407.2h0M82.4 406.6h0M76.2 404.4h0M87.5 397.3h0M88.8 398.5h0M79.7 410.7h0M81.1 409.9h0M79.7 410.6h0M83.3 402.2h0M78.4 399.3h0M84.1 400.2h0M79.0 406.7h0M88.3 398.1h0M82.5 403.5h0M82.1 402.4h0M82.6 405.7h0M82.4 407.8h0M81.4 405.7h0M88.7 396.7h0M79.2 399.0h0M82.4 404.0h0M86.4 397.7h0M73.5 409.7h0M75.5 405.0h0M91.1 394.6h0M80.4 406.0h0M77.0 403.7h0M80.0 401.6h0M74.1 409.1h0M84.1 400.4h0M82.8 404.0h0M76.6 404.1h0M84.3 403.2h0M71.4 403.8h0M80.3 400.9h0M79.3 404.2h0M83.8 408.4h0M83.2 401.1h0M75.0 403.7h0M81.7 409.5h0M86.0 401.0h0M76.3 400.4h0M87.9 402.1h0M73.2 407.5h0M78.1 403.7h0M78.4 403.5h0M82.3 398.2h0M83.9 407.1h0M86.8 397.7h0M74.9 401.5h0M84.0 407.5h0M73.2 401.2h0M82.5 405.2h0M78.2 409.4h0M86.1 396.6h0M84.5 397.7h0M72.5 403.5h0M84.8 399.4h0M86.1 402.2h0M83.1 405.1h0M77.0 404.0h0M79.1 402.4h0M83.1 403.5h0M78.8 400.3h0M81.7 408.5h0M73.7 409.2h0M78.0 399.1h0M84.3 399.9h0M74.3 406.3h0M83.2 404.9h0M73.7 405.2h0M85.1 399.9h0M81.9 401.3h0M84.4 399.9h0M83.2 405.0h0M82.6 400.2h0M79.9 403.0h0M82.3 404.1h0M83.5 400.0h0M83.9 406.9h0M81.2 405.3h0M77.3 400.9h0M80.9 407.0h0M82.8 406.8h0M78.6 402.8h0M78.2 399.9h0M80.6 397.9h0M86.5 397.2h0M72.2 406.6h0M72.5 409.1h0M78.1 407.7h0M80.1 401.3h0M83.7 401.6h0M83.9 404.2h0M83.2 402.8h0M85.1 397.5h0M78.3 399.1h0M86.6 404.7h0M73.2 406.8h0M79.0 398.7h0M86.0 397.2h0M76.9 404.2h0M80.6 410.0h0M82.5 408.0h0M84.2 397.6h0M78.5 409.9h0M85.7 405.3h0M81.5 400.1h0M87.9 398.2h0M77.3 406.1h0M78.3 410.2h0M86.9 397.2h0M77.0 409.1h0M72.3 404.3h0M89.3 397.7h0M72.7 407.0h0M78.2 404.8h0M86.1 401.3h0M81.4 403.8h0M75.5 404.8h0M83.6 403.4h0M82.1 406.2h0M78.8 404.4h0M78.9 400.0h0M73.4 407.4h0M80.3 399.7h0M76.3 409.5h0M78.5 410.1h0M87.5 398.3h0M71.2 405.5h0M85.3 401.8h0M79.6 402.5h0M75.2 402.7h0M79.1 399.1h0M90.1 397.1h0M74.7 403.3h0M74.5 407.9h0M76.2 402.2h0M77.5 410.7h0M73.3 403.4h0M79.0 410.2h0M86.1 397.6h0M80.7 402.9h0M90.1 397.3h0M73.8 403.2h0M81.4 407.6h0M72.1 410.2h0M80.4 400.7h0M83.3 401.8h0M76.8 402.8h0M73.2 402.6h0M74.6 409.3h0M82.2 404.6h0M74.0 402.2h0M91.2 394.9h0M79.7 410.5h0M77.3 403.2h0M78.9 403.0h0M71.1 406.6h0M82.8 403.5h0M78.5 398.8h0M84.2 407.2h0M85.1 402.9h0M75.5 401.0h0M78.2 407.3h0M82.3 403.5h0M74.2 401.8h0M89.1 395.6h0M85.0 404.3h0M74.0 405.3h0M81.0 400.2h0M73.2 403.9h0M83.1 398.6h0M78.9 401.7h0M71.2 410.7h0M71.9 402.5h0M81.0 407.2h0M73.4 408.4h0M85.6 404.2h0M72.1 409.0h0M83.3 399.7h0M79.2 408.2h0M72.4 404.3h0M82.0 408.1h0M83.7 402.8h0M74.2 410.3h0M72.1 405.5h0M79.4 399.2h0M79.3 410.1h0M82.7 406.3h0M84.8 397.5h0M74.8 402.2h0M75.3 405.8h0M75.1 403.8h0M72.6 407.2h0M85.6 398.5h0M80.7 406.0h0M84.6 405.2h0M82.5 404.0h0M84.7 402.1h0M87.4 399.1h0M78.2 403.5h0M76.6 402.4h0M77.1 407.7h0M79.2 408.9h0M72.3 405.6h0M76.0 400.1h0M83.8 402.6h0M84.6 406.1h0M72.8 404.1h0M89.1 397.3h0M71.5 404.1h0M89.5 382.9h0M94.2 373.4h0M102.8 382.4h0M96.7 379.6h0M101.8 375.8h0M104.0 380.4h0M75.6 386.7h0M76.9 387.8h0M97.7 368.1h0M87.5 376.4h0M100.2 378.9h0M100.8 380.7h0M103.8 364.7h0M86.6 381.9h0M99.7 374.1h0M84.3 387.1h0M88.2 374.9h0M92.2 381.9h0M96.4 380.5h0M101.1 378.4h0M89.2 383.6h0M95.7 377.8h0M92.7 373.7h0M100.1 371.5h0M98.0 366.9h0M79.0 381.4h0M94.8 372.0h0M83.6 385.6h0M75.7 387.9h0M83.8 384.5h0M88.6 385.9h0M101.5 372.0h0M97.0 373.7h0M102.9 373.1h0M93.8 380.5h0M103.5 367.5h0M91.5 380.6h0M83.9 379.1h0M102.0 367.9h0M102.5 371.4h0M81.1 386.5h0M89.3 385.9h0M87.0 384.1h0M101.4 375.6h0M88.4 382.6h0M100.8 369.2h0M81.8 386.5h0M99.5 375.4h0M89.2 383.0h0M89.9 384.1h0M91.8 382.1h0M77.2 383.9h0M102.3 368.8h0M84.4 380.4h0M98.3 381.4h0M102.1 367.1h0M84.8 385.2h0M87.5 382.2h0M90.0 385.4h0M86.3 378.0h0M80.2 383.5h0M99.7 376.9h0M87.3 377.3h0M98.4 367.8h0M88.9 381.2h0M88.3 372.7h0M76.7 387.4h0M91.8 383.6h0M91.1 373.7h0M80.6 380.2h0M102.7 377.3h0M79.8 383.7h0M101.9 368.2h0M94.6 384.9h0M82.4 381.2h0M85.8 370.3h0M86.0 371.7h0M90.4 365.2h0M93.2 356.2h0M87.7 368.2h0M89.6 365.5h0M101.8 360.5h0M100.4 361.2h0M90.2 360.1h0M95.5 352.6h0M95.8 363.5h0M87.1 360.2h0M100.5 357.8h0M103.4 362.5h0M102.1 360.6h0M93.9 353.9h0M100.2 358.4h0M103.1 354.1h0M96.6 360.2h0M87.1 363.5h0M101.5 355.7h0M101.2 364.8h0M113.9 374.5h0M104.0 369.3h0M102.9 374.3h0M100.1 382.9h0M110.5 373.7h0M106.8 377.3h0M105.3 374.0h0M106.6 363.8h0M113.5 370.1h0M111.5 376.9h0M105.8 372.5h0M116.1 370.1h0M106.4 368.5h0M104.6 367.0h0M108.7 365.7h0M104.7 366.5h0M111.8 360.7h0M101.8 378.1h0M107.9 379.8h0M106.5 376.1h0M103.8 381.4h0M114.0 371.1h0M74.4 327.7h0M98.8 323.9h0M88.5 335.3h0M92.5 342.9h0M101.9 342.9h0M89.3 347.9h0M117.7 351.7h0M127.1 370.7h0M119.2 373.2h0M114.5 365.7h0M122.4 377.0h0M111.4 373.2h0M103.5 370.7h0M106.7 363.1h0M84.6 358.1h0M95.6 355.5h0M97.2 360.6h0M40.5 397.3h0M45.2 394.8h0M53.1 391.0h0M50.0 394.8h0M56.2 393.5h0M35.8 396.0h0" stroke="#5e1f6e" stroke-width="1.25" stroke-linecap="round" fill="none"/>
<line x1="34.9" y1="320.8" x2="34.9" y2="411.8" stroke="#2a2a2a" stroke-width="1.2"/>
<line x1="34.3" y1="411.2" x2="130.3" y2="411.2" stroke="#2a2a2a" stroke-width="1.2"/>
<line x1="32.7" y1="335.5" x2="34.9" y2="335.5" stroke="#2a2a2a" stroke-width="1"/>
<text x="29.6" y="337.8" font-size="6.6" text-anchor="end" fill="#1e1e1e" stroke="#1e1e1e" stroke-width="0.07">60</text>
<line x1="32.7" y1="360.5" x2="34.9" y2="360.5" stroke="#2a2a2a" stroke-width="1"/>
<text x="29.6" y="362.8" font-size="6.6" text-anchor="end" fill="#1e1e1e" stroke="#1e1e1e" stroke-width="0.07">40</text>
<line x1="32.7" y1="385.8" x2="34.9" y2="385.8" stroke="#2a2a2a" stroke-width="1"/>
<text x="29.6" y="388.1" font-size="6.6" text-anchor="end" fill="#1e1e1e" stroke="#1e1e1e" stroke-width="0.07">20</text>
<line x1="32.7" y1="411.2" x2="34.9" y2="411.2" stroke="#2a2a2a" stroke-width="1"/>
<text x="29.6" y="413.5" font-size="6.6" text-anchor="end" fill="#1e1e1e" stroke="#1e1e1e" stroke-width="0.07">0</text>
<line x1="34" y1="411.2" x2="34" y2="413.8" stroke="#2a2a2a" stroke-width="1"/>
<text x="33" y="422.5" font-size="6.8" text-anchor="middle" fill="#1e1e1e" stroke="#1e1e1e" stroke-width="0.07">-2</text>
<line x1="65.7" y1="411.2" x2="65.7" y2="413.8" stroke="#2a2a2a" stroke-width="1"/>
<text x="65.7" y="422.5" font-size="6.8" text-anchor="middle" fill="#1e1e1e" stroke="#1e1e1e" stroke-width="0.07">0</text>
<line x1="97.2" y1="411.2" x2="97.2" y2="413.8" stroke="#2a2a2a" stroke-width="1"/>
<text x="97.2" y="422.5" font-size="6.8" text-anchor="middle" fill="#1e1e1e" stroke="#1e1e1e" stroke-width="0.07">2</text>
<line x1="127.9" y1="411.2" x2="127.9" y2="413.8" stroke="#2a2a2a" stroke-width="1"/>
<text x="127.9" y="422.5" font-size="6.8" text-anchor="middle" fill="#1e1e1e" stroke="#1e1e1e" stroke-width="0.07">4</text>
<text x="82.75" y="435.3" font-size="8.2" text-anchor="middle" fill="#1e1e1e" stroke="#1e1e1e" stroke-width="0.07" textLength="45.9" lengthAdjust="spacingAndGlyphs">Average log<tspan font-size="5.08" baseline-shift="-1.64">2</tspan>FC</text>
<text x="83.25" y="444.6" font-size="8.2" text-anchor="middle" fill="#1e1e1e" stroke="#1e1e1e" stroke-width="0.07" textLength="32.3" lengthAdjust="spacingAndGlyphs">(C3 vs. C0)</text>
<text x="82.2" y="315.3" font-size="8.4" text-anchor="middle" fill="#1e1e1e" stroke="#1e1e1e" stroke-width="0.07" textLength="67.5" lengthAdjust="spacingAndGlyphs">LKS<tspan font-size="5.21" baseline-shift="3.36">−</tspan> CD34<tspan font-size="5.21" baseline-shift="3.36">+</tspan> Fc&#947;R<tspan font-size="5.21" baseline-shift="3.36">+</tspan></text>
<text x="14.0" y="365.5" font-size="8.4" text-anchor="middle" fill="#1e1e1e" stroke="#1e1e1e" stroke-width="0.07" transform="rotate(-90 14.0 365.5)" textLength="34" lengthAdjust="spacingAndGlyphs">-log<tspan font-size="5.21" baseline-shift="-1.68">10</tspan>(p<tspan font-size="5.21" baseline-shift="-1.68">adj</tspan>)</text>
<text x="147.2" y="308.2" font-size="10.9" text-anchor="start" fill="#000" font-weight="bold">G</text>
<rect x="240.4" y="326.2" width="90.16" height="11.4" fill="#4a5568"/>
<rect x="240.4" y="343" width="50.599999999999994" height="11.4" fill="#4a5568"/>
<rect x="240.4" y="360.5" width="23.460000000000008" height="11.4" fill="#4a5568"/>
<rect x="240.4" y="377.1" width="17.940000000000026" height="11.4" fill="#4a5568"/>
<rect x="240.4" y="394.3" width="15.640000000000015" height="11.4" fill="#4a5568"/>
<line x1="240.4" y1="319.8" x2="240.4" y2="412.8" stroke="#2a2a2a" stroke-width="1.2"/>
<line x1="239.8" y1="412.2" x2="337.6" y2="412.2" stroke="#2a2a2a" stroke-width="1.2"/>
<line x1="238.0" y1="331.9" x2="240.4" y2="331.9" stroke="#2a2a2a" stroke-width="1"/>
<line x1="238.0" y1="348.7" x2="240.4" y2="348.7" stroke="#2a2a2a" stroke-width="1"/>
<line x1="238.0" y1="366.2" x2="240.4" y2="366.2" stroke="#2a2a2a" stroke-width="1"/>
<line x1="238.0" y1="382.8" x2="240.4" y2="382.8" stroke="#2a2a2a" stroke-width="1"/>
<line x1="238.0" y1="400.0" x2="240.4" y2="400.0" stroke="#2a2a2a" stroke-width="1"/>
<line x1="240.4" y1="412.2" x2="240.4" y2="414.8" stroke="#2a2a2a" stroke-width="1"/>
<text x="240.4" y="423.5" font-size="6.8" text-anchor="middle" fill="#1e1e1e" stroke="#1e1e1e" stroke-width="0.07">0</text>
<line x1="263.4" y1="412.2" x2="263.4" y2="414.8" stroke="#2a2a2a" stroke-width="1"/>
<text x="263.4" y="423.5" font-size="6.8" text-anchor="middle" fill="#1e1e1e" stroke="#1e1e1e" stroke-width="0.07">5</text>
<line x1="286.4" y1="412.2" x2="286.4" y2="414.8" stroke="#2a2a2a" stroke-width="1"/>
<text x="286.4" y="423.5" font-size="6.8" text-anchor="middle" fill="#1e1e1e" stroke="#1e1e1e" stroke-width="0.07">10</text>
<line x1="309.4" y1="412.2" x2="309.4" y2="414.8" stroke="#2a2a2a" stroke-width="1"/>
<text x="309.4" y="423.5" font-size="6.8" text-anchor="middle" fill="#1e1e1e" stroke="#1e1e1e" stroke-width="0.07">15</text>
<line x1="332.4" y1="412.2" x2="332.4" y2="414.8" stroke="#2a2a2a" stroke-width="1"/>
<text x="332.4" y="423.5" font-size="6.8" text-anchor="middle" fill="#1e1e1e" stroke="#1e1e1e" stroke-width="0.07">20</text>
<text x="289.2" y="435.6" font-size="8.7" text-anchor="middle" fill="#1e1e1e" stroke="#1e1e1e" stroke-width="0.07" textLength="48.8" lengthAdjust="spacingAndGlyphs">Fold enrichment</text>
<text x="289.1" y="305.2" font-size="7.8" text-anchor="middle" fill="#1e1e1e" stroke="#1e1e1e" stroke-width="0.07" textLength="77" lengthAdjust="spacingAndGlyphs">Ontology enrichment</text>
<text x="289.7" y="314.6" font-size="7.8" text-anchor="middle" fill="#1e1e1e" stroke="#1e1e1e" stroke-width="0.07" textLength="96.5" lengthAdjust="spacingAndGlyphs">of C3 vs. C0 nearest genes</text>
<text x="234.1" y="330.4" font-size="6.6" text-anchor="end" fill="#1e1e1e" stroke="#1e1e1e" stroke-width="0.07" textLength="80.3" lengthAdjust="spacingAndGlyphs">Monounsaturated fatty acid</text>
<text x="234.1" y="337.8" font-size="6.6" text-anchor="end" fill="#1e1e1e" stroke="#1e1e1e" stroke-width="0.07" textLength="58" lengthAdjust="spacingAndGlyphs">biosynthetic process</text>
<text x="234.1" y="347.3" font-size="6.6" text-anchor="end" fill="#1e1e1e" stroke="#1e1e1e" stroke-width="0.07" textLength="86.5" lengthAdjust="spacingAndGlyphs">Establishment or maintenance</text>
<text x="234.1" y="354.7" font-size="6.6" text-anchor="end" fill="#1e1e1e" stroke="#1e1e1e" stroke-width="0.07" textLength="67" lengthAdjust="spacingAndGlyphs">of cytoskeleton polarity</text>
<text x="234.1" y="367.9" font-size="6.6" text-anchor="end" fill="#1e1e1e" stroke="#1e1e1e" stroke-width="0.07" textLength="72" lengthAdjust="spacingAndGlyphs">Focal adhesion assembly</text>
<text x="234.1" y="381.2" font-size="6.6" text-anchor="end" fill="#1e1e1e" stroke="#1e1e1e" stroke-width="0.07" textLength="80" lengthAdjust="spacingAndGlyphs">Integrin-mediated signaling</text>
<text x="234.1" y="388.6" font-size="6.6" text-anchor="end" fill="#1e1e1e" stroke="#1e1e1e" stroke-width="0.07" textLength="24" lengthAdjust="spacingAndGlyphs">pathway</text>
<text x="234.1" y="398.1" font-size="6.6" text-anchor="end" fill="#1e1e1e" stroke="#1e1e1e" stroke-width="0.07" textLength="64" lengthAdjust="spacingAndGlyphs">Regulation of myeloid</text>
<text x="234.1" y="405.9" font-size="6.6" text-anchor="end" fill="#1e1e1e" stroke="#1e1e1e" stroke-width="0.07" textLength="87" lengthAdjust="spacingAndGlyphs">Leukocyte mediated immunity</text>
<text x="354" y="308.3" font-size="10.9" text-anchor="start" fill="#000" font-weight="bold">H</text>
<rect x="403.5" y="323.04999999999995" width="103.39999999999998" height="5.3" fill="#4a5568"/>
<line x1="401.3" y1="325.65" x2="403.5" y2="325.65" stroke="#2a2a2a" stroke-width="1"/>
<text x="397" y="327.2" font-size="6.8" text-anchor="end" fill="#1e1e1e" stroke="#1e1e1e" stroke-width="0.07">Stat5a::Stat5b</text>
<rect x="403.5" y="332.03" width="68.5025" height="5.3" fill="#4a5568"/>
<line x1="401.3" y1="334.63" x2="403.5" y2="334.63" stroke="#2a2a2a" stroke-width="1"/>
<text x="397" y="336.2" font-size="6.8" text-anchor="end" fill="#1e1e1e" stroke="#1e1e1e" stroke-width="0.07">Stat5b</text>
<rect x="403.5" y="341.00999999999993" width="60.7475" height="5.3" fill="#4a5568"/>
<line x1="401.3" y1="343.60999999999996" x2="403.5" y2="343.60999999999996" stroke="#2a2a2a" stroke-width="1"/>
<text x="397" y="344.9" font-size="6.8" text-anchor="end" fill="#1e1e1e" stroke="#1e1e1e" stroke-width="0.07">STAT1</text>
<rect x="403.5" y="349.98999999999995" width="60.7475" height="5.3" fill="#4a5568"/>
<line x1="401.3" y1="352.59" x2="403.5" y2="352.59" stroke="#2a2a2a" stroke-width="1"/>
<text x="397" y="354.1" font-size="6.8" text-anchor="end" fill="#1e1e1e" stroke="#1e1e1e" stroke-width="0.07">Stat5a</text>
<rect x="403.5" y="358.96999999999997" width="52.99250000000001" height="5.3" fill="#4a5568"/>
<line x1="401.3" y1="361.57" x2="403.5" y2="361.57" stroke="#2a2a2a" stroke-width="1"/>
<text x="397" y="362.9" font-size="6.8" text-anchor="end" fill="#1e1e1e" stroke="#1e1e1e" stroke-width="0.07">FOSL2</text>
<rect x="403.5" y="367.94999999999993" width="49.11500000000001" height="5.3" fill="#4a5568"/>
<line x1="401.3" y1="370.54999999999995" x2="403.5" y2="370.54999999999995" stroke="#2a2a2a" stroke-width="1"/>
<text x="397" y="372" font-size="6.8" text-anchor="end" fill="#1e1e1e" stroke="#1e1e1e" stroke-width="0.07">JUN</text>
<rect x="403.5" y="376.92999999999995" width="42.652499999999975" height="5.3" fill="#4a5568"/>
<line x1="401.3" y1="379.53" x2="403.5" y2="379.53" stroke="#2a2a2a" stroke-width="1"/>
<text x="397" y="380.6" font-size="6.8" text-anchor="end" fill="#1e1e1e" stroke="#1e1e1e" stroke-width="0.07">Smad2::Smad3</text>
<rect x="403.5" y="385.90999999999997" width="42.652499999999975" height="5.3" fill="#4a5568"/>
<line x1="401.3" y1="388.51" x2="403.5" y2="388.51" stroke="#2a2a2a" stroke-width="1"/>
<text x="397" y="389.8" font-size="6.8" text-anchor="end" fill="#1e1e1e" stroke="#1e1e1e" stroke-width="0.07">FOS</text>
<rect x="403.5" y="394.89" width="41.360000000000014" height="5.3" fill="#4a5568"/>
<line x1="401.3" y1="397.49" x2="403.5" y2="397.49" stroke="#2a2a2a" stroke-width="1"/>
<text x="397" y="398.5" font-size="6.8" text-anchor="end" fill="#1e1e1e" stroke="#1e1e1e" stroke-width="0.07">FOS::JUND</text>
<rect x="403.5" y="403.86999999999995" width="40.067499999999995" height="5.3" fill="#4a5568"/>
<line x1="401.3" y1="406.46999999999997" x2="403.5" y2="406.46999999999997" stroke="#2a2a2a" stroke-width="1"/>
<text x="397" y="407.5" font-size="6.8" text-anchor="end" fill="#1e1e1e" stroke="#1e1e1e" stroke-width="0.07">Stat4</text>
<line x1="403.3" y1="320.5" x2="403.3" y2="412.1" stroke="#2a2a2a" stroke-width="1.2"/>
<line x1="402.7" y1="411.5" x2="510.8" y2="411.5" stroke="#2a2a2a" stroke-width="1.2"/>
<line x1="403.5" y1="411.5" x2="403.5" y2="414.2" stroke="#2a2a2a" stroke-width="1"/>
<text x="403.5" y="423.5" font-size="6.8" text-anchor="middle" fill="#1e1e1e" stroke="#1e1e1e" stroke-width="0.07">20</text>
<line x1="429.35" y1="411.5" x2="429.35" y2="414.2" stroke="#2a2a2a" stroke-width="1"/>
<text x="429.35" y="423.5" font-size="6.8" text-anchor="middle" fill="#1e1e1e" stroke="#1e1e1e" stroke-width="0.07">40</text>
<line x1="455.2" y1="411.5" x2="455.2" y2="414.2" stroke="#2a2a2a" stroke-width="1"/>
<text x="455.2" y="423.5" font-size="6.8" text-anchor="middle" fill="#1e1e1e" stroke="#1e1e1e" stroke-width="0.07">60</text>
<line x1="481.05" y1="411.5" x2="481.05" y2="414.2" stroke="#2a2a2a" stroke-width="1"/>
<text x="481.05" y="423.5" font-size="6.8" text-anchor="middle" fill="#1e1e1e" stroke="#1e1e1e" stroke-width="0.07">80</text>
<line x1="506.9" y1="411.5" x2="506.9" y2="414.2" stroke="#2a2a2a" stroke-width="1"/>
<text x="506.9" y="423.5" font-size="6.8" text-anchor="middle" fill="#1e1e1e" stroke="#1e1e1e" stroke-width="0.07">100</text>
<text x="457.6" y="434.3" font-size="8.4" text-anchor="middle" fill="#1e1e1e" stroke="#1e1e1e" stroke-width="0.07" textLength="54" lengthAdjust="spacingAndGlyphs">-log<tspan font-size="5.21" baseline-shift="-1.68">10</tspan>(p-value<tspan font-size="5.21" baseline-shift="-1.68">adj</tspan>)</text>
<text x="7.2" y="473.2" font-size="10.9" text-anchor="start" fill="#000" font-weight="bold">I</text>
<rect x="36.3" y="477.6" width="117" height="103.2" fill="none" stroke="#333" stroke-width="1.1"/>
<path d="M40.8 492.15L43.949999999999996 497.25L37.65 497.25Z" fill="#1f93c0"/>
<path d="M90 480.15L93.15 485.25L86.85 485.25Z" fill="#1f93c0"/>
<path d="M102 479.15L105.15 484.25L98.85 484.25Z" fill="#1f93c0"/>
<path d="M67.5 513.4499999999999L70.65 518.55L64.35 518.55Z" fill="#d2103c"/>
<path d="M145 499.15L148.15 504.25L141.85 504.25Z" fill="#d2103c"/>
<path d="M148 497.34999999999997L151.15 502.45L144.85 502.45Z" fill="#d2103c"/>
<circle cx="71.8" cy="550.5" r="2.2" fill="#1f93c0"/>
<circle cx="95.5" cy="561.3" r="2.2" fill="#1f93c0"/>
<circle cx="97" cy="576.3" r="2.2" fill="#1f93c0"/>
<circle cx="93.8" cy="574.5" r="2.2" fill="#d2103c"/>
<circle cx="124.3" cy="548.3" r="2.2" fill="#d2103c"/>
<circle cx="121.3" cy="555" r="2.2" fill="#d2103c"/>
<line x1="34.2" y1="501.5" x2="36.3" y2="501.5" stroke="#2a2a2a" stroke-width="1"/>
<text x="31.5" y="503.8" font-size="6.8" text-anchor="end" fill="#1e1e1e" stroke="#1e1e1e" stroke-width="0.07">100</text>
<line x1="34.2" y1="528.5" x2="36.3" y2="528.5" stroke="#2a2a2a" stroke-width="1"/>
<text x="31.5" y="530.8" font-size="6.8" text-anchor="end" fill="#1e1e1e" stroke="#1e1e1e" stroke-width="0.07">0</text>
<line x1="34.2" y1="555.1" x2="36.3" y2="555.1" stroke="#2a2a2a" stroke-width="1"/>
<text x="31.5" y="557.4" font-size="6.8" text-anchor="end" fill="#1e1e1e" stroke="#1e1e1e" stroke-width="0.07">100</text>
<line x1="36.5" y1="580.8" x2="36.5" y2="583.3" stroke="#2a2a2a" stroke-width="1"/>
<text x="34.5" y="591.8" font-size="6.8" text-anchor="middle" fill="#1e1e1e" stroke="#1e1e1e" stroke-width="0.07">−300</text>
<line x1="57.6" y1="580.8" x2="57.6" y2="583.3" stroke="#2a2a2a" stroke-width="1"/>
<text x="55.6" y="591.8" font-size="6.8" text-anchor="middle" fill="#1e1e1e" stroke="#1e1e1e" stroke-width="0.07">−200</text>
<line x1="78.7" y1="580.8" x2="78.7" y2="583.3" stroke="#2a2a2a" stroke-width="1"/>
<text x="76.7" y="591.8" font-size="6.8" text-anchor="middle" fill="#1e1e1e" stroke="#1e1e1e" stroke-width="0.07">−100</text>
<line x1="99.8" y1="580.8" x2="99.8" y2="583.3" stroke="#2a2a2a" stroke-width="1"/>
<text x="99.8" y="591.8" font-size="6.8" text-anchor="middle" fill="#1e1e1e" stroke="#1e1e1e" stroke-width="0.07">0</text>
<line x1="120.9" y1="580.8" x2="120.9" y2="583.3" stroke="#2a2a2a" stroke-width="1"/>
<text x="120.9" y="591.8" font-size="6.8" text-anchor="middle" fill="#1e1e1e" stroke="#1e1e1e" stroke-width="0.07">100</text>
<line x1="142" y1="580.8" x2="142" y2="583.3" stroke="#2a2a2a" stroke-width="1"/>
<text x="142" y="591.8" font-size="6.8" text-anchor="middle" fill="#1e1e1e" stroke="#1e1e1e" stroke-width="0.07">200</text>
<text x="95" y="603.3" font-size="8" text-anchor="middle" fill="#1e1e1e" stroke="#1e1e1e" stroke-width="0.07" textLength="41.2" lengthAdjust="spacingAndGlyphs">PC1 (31.44%)</text>
<text x="14.0" y="529" font-size="7.8" text-anchor="middle" fill="#1e1e1e" stroke="#1e1e1e" stroke-width="0.07" transform="rotate(-90 14.0 529)" textLength="41.8" lengthAdjust="spacingAndGlyphs">PC2 (24.46%)</text>
<text x="165.6" y="492.7" font-size="6.8" text-anchor="start" fill="#1e1e1e" stroke="#1e1e1e" stroke-width="0.07" textLength="28" lengthAdjust="spacingAndGlyphs">Treatment</text>
<rect x="165.1" y="499.3" width="7.5" height="6.5" fill="#1b96c4"/>
<text x="175.9" y="504.3" font-size="6.8" text-anchor="start" fill="#1e1e1e" stroke="#1e1e1e" stroke-width="0.07">M</text>
<rect x="165.1" y="510.7" width="7.5" height="6.6" fill="#d0103a"/>
<text x="175.9" y="515.7" font-size="6.8" text-anchor="start" fill="#1e1e1e" stroke="#1e1e1e" stroke-width="0.07">M+GM</text>
<text x="165.6" y="531.5" font-size="6.8" text-anchor="start" fill="#1e1e1e" stroke="#1e1e1e" stroke-width="0.07" textLength="26" lengthAdjust="spacingAndGlyphs">Cell type</text>
<circle cx="168.3" cy="541.3" r="3.0" fill="#111"/>
<text x="174.9" y="543.5" font-size="6.8" text-anchor="start" fill="#1e1e1e" stroke="#1e1e1e" stroke-width="0.07">LKS<tspan font-size="4.22" baseline-shift="2.72">+</tspan></text>
<path d="M168.5 548.4L172.6 555.6L164.4 555.6Z" fill="#111"/>
<text x="174.9" y="555.3" font-size="6.8" text-anchor="start" fill="#1e1e1e" stroke="#1e1e1e" stroke-width="0.07">LKS<tspan font-size="4.22" baseline-shift="2.72">−</tspan></text>
<text x="174.9" y="562.7" font-size="6.8" text-anchor="start" fill="#1e1e1e" stroke="#1e1e1e" stroke-width="0.07">CD34<tspan font-size="4.22" baseline-shift="2.72">+</tspan></text>
<text x="174.9" y="570.7" font-size="6.8" text-anchor="start" fill="#1e1e1e" stroke="#1e1e1e" stroke-width="0.07">Fc&#947;R<tspan font-size="4.22" baseline-shift="2.72">+</tspan></text>
<text x="212.2" y="474.3" font-size="10.9" text-anchor="start" fill="#000" font-weight="bold">J</text>
<text x="265.5" y="492.5" font-size="8" text-anchor="middle" fill="#1e1e1e" stroke="#1e1e1e" stroke-width="0.07" textLength="47.3" lengthAdjust="spacingAndGlyphs">LKS<tspan font-size="4.96" baseline-shift="3.20">+</tspan>-derived</text>
<text x="265.5" y="501.8" font-size="8" text-anchor="middle" fill="#1e1e1e" stroke="#1e1e1e" stroke-width="0.07" textLength="47.3" lengthAdjust="spacingAndGlyphs">M+GM vs. M</text>
<text x="350.9" y="482.7" font-size="8" text-anchor="middle" fill="#1e1e1e" stroke="#1e1e1e" stroke-width="0.07" textLength="42" lengthAdjust="spacingAndGlyphs">LKS<tspan font-size="4.96" baseline-shift="3.20">−</tspan> CD34<tspan font-size="4.96" baseline-shift="3.20">+</tspan></text>
<text x="351.4" y="492.5" font-size="8" text-anchor="middle" fill="#1e1e1e" stroke="#1e1e1e" stroke-width="0.07" textLength="50.2" lengthAdjust="spacingAndGlyphs">Fc&#947;R<tspan font-size="4.96" baseline-shift="3.20">+</tspan>-derived</text>
<text x="351.15" y="501.7" font-size="8" text-anchor="middle" fill="#1e1e1e" stroke="#1e1e1e" stroke-width="0.07" textLength="46.1" lengthAdjust="spacingAndGlyphs">M+GM vs. M</text>
<path d="M261.3 548.1h0M261.8 551.8h0M263.0 561.3h0M263.9 575.5h0M263.4 567.4h0M262.3 554.4h0M262.6 561.1h0M261.7 562.0h0M263.5 566.5h0M263.2 561.9h0M261.7 568.1h0M261.0 557.6h0M263.2 557.7h0M263.7 561.3h0M263.0 558.6h0M263.8 576.1h0M261.4 555.4h0M262.5 561.9h0M262.3 558.8h0M263.0 547.9h0M262.0 561.0h0M262.0 562.3h0M262.4 567.7h0M262.5 571.4h0M261.9 558.4h0M261.6 555.8h0M263.8 560.1h0M263.6 556.6h0M263.6 568.6h0M262.5 567.3h0M262.6 548.0h0M262.9 551.3h0M262.9 570.6h0M261.5 552.8h0M261.5 559.6h0M260.9 553.7h0M262.0 556.4h0M261.5 566.6h0M263.9 565.5h0M262.8 571.3h0M262.8 570.2h0M263.6 568.9h0M263.0 572.6h0M263.7 557.7h0M261.5 560.4h0M262.8 572.6h0M261.6 564.6h0M262.2 550.2h0M262.5 562.8h0M261.8 555.6h0M260.6 553.1h0M261.2 562.1h0M262.8 550.4h0M263.8 564.3h0M261.8 563.0h0M263.2 553.8h0M261.6 562.1h0M262.1 570.1h0M262.1 547.9h0M262.4 552.0h0M262.4 567.7h0M263.1 563.3h0M263.4 567.5h0M262.9 563.3h0M261.0 552.9h0M262.5 560.3h0M263.8 574.6h0M262.6 572.1h0M262.5 558.0h0M263.8 573.2h0M260.9 555.4h0M263.2 557.0h0M263.6 559.9h0M261.9 561.5h0M261.9 559.9h0M263.8 566.3h0M263.7 573.8h0M263.8 564.3h0M262.1 567.9h0M263.4 568.6h0M261.2 551.1h0M263.6 569.5h0M262.7 562.1h0M262.6 572.2h0M261.4 557.9h0M263.2 552.7h0M263.5 557.7h0M262.5 557.9h0M261.4 566.1h0M260.6 553.7h0M262.0 550.6h0M261.1 549.8h0M263.5 571.1h0M261.8 557.1h0M262.3 552.5h0M260.6 558.6h0M262.7 571.9h0M263.1 574.1h0M263.4 561.6h0M263.9 568.0h0M261.4 547.8h0M262.3 559.9h0M262.1 561.3h0M262.4 571.2h0M262.9 548.0h0M261.9 549.8h0M262.1 547.5h0M262.7 556.1h0M261.4 554.7h0M261.5 549.6h0M263.6 576.2h0M261.3 557.7h0M263.5 570.5h0M263.7 565.0h0M263.6 574.5h0M261.8 548.4h0M262.7 563.9h0M263.2 550.9h0M262.5 571.4h0M260.7 551.2h0M262.4 554.9h0M263.5 567.0h0M263.1 550.9h0M263.4 560.6h0M262.7 567.0h0M262.2 550.3h0M263.1 569.2h0M261.2 556.9h0M263.0 550.7h0M261.0 556.9h0M263.3 566.2h0M261.7 566.6h0M261.9 550.6h0M263.1 570.9h0M263.1 551.7h0M263.8 571.3h0M262.2 554.4h0M263.9 567.7h0M261.5 549.2h0M263.2 571.0h0M261.9 549.4h0M263.4 558.0h0M261.0 551.8h0M261.9 561.2h0M261.6 567.3h0M262.7 571.1h0M264.1 574.0h0M262.2 561.9h0M263.4 565.3h0M261.0 556.8h0M261.7 554.9h0M262.5 566.5h0M261.1 560.6h0M261.6 558.6h0M260.4 554.4h0M261.6 549.7h0M261.9 557.9h0M263.0 559.3h0M262.1 550.6h0M262.2 571.4h0M263.6 559.6h0M260.5 548.8h0M261.6 551.7h0M261.0 556.0h0M260.5 556.7h0M263.5 575.4h0M262.0 558.1h0M262.8 547.6h0M260.7 556.1h0M263.9 573.7h0M263.1 559.7h0M263.1 547.8h0M261.1 562.9h0M262.1 561.8h0M261.4 556.6h0M263.5 564.5h0M262.0 565.6h0M262.1 549.2h0M261.8 563.4h0M263.0 556.1h0M263.5 566.1h0M263.4 569.5h0M262.6 560.6h0M263.4 549.3h0M264.2 570.9h0M263.7 567.2h0M263.2 550.3h0M263.5 571.5h0M263.0 547.9h0M261.7 553.4h0M262.0 549.4h0M263.0 570.4h0M263.7 560.8h0M263.1 557.3h0M261.4 560.0h0M261.5 565.4h0M260.4 552.8h0M263.7 574.4h0M263.4 555.1h0M261.9 548.6h0M263.6 567.1h0M261.9 549.5h0M261.2 559.8h0M262.7 567.5h0M262.9 553.4h0M263.0 551.9h0M262.4 571.9h0M263.1 551.7h0M262.3 566.7h0M260.5 552.0h0M262.2 547.9h0M263.3 552.7h0M262.7 552.6h0M264.1 568.2h0M263.0 566.6h0M262.2 562.9h0M260.8 560.0h0M262.5 563.1h0M263.4 559.9h0M261.8 560.2h0M261.6 550.1h0M260.8 559.8h0M262.8 561.0h0M263.2 568.3h0M263.2 576.3h0M262.7 557.4h0M263.3 574.9h0M261.7 561.9h0M261.4 560.6h0M262.9 557.4h0M261.9 553.7h0M261.4 549.2h0M263.6 574.9h0M263.7 565.5h0M262.7 550.9h0M261.3 566.2h0M262.5 561.6h0M262.6 567.5h0M264.0 566.6h0M263.3 561.7h0M262.4 563.5h0M264.1 575.7h0M262.5 560.2h0M261.7 557.9h0M260.8 548.1h0M261.1 559.1h0M263.9 567.3h0M263.0 564.5h0M263.1 559.2h0M263.3 552.0h0M263.2 560.2h0M262.8 566.0h0M263.1 550.4h0M260.6 553.7h0M263.7 558.7h0M263.4 556.4h0M262.7 553.7h0M260.7 550.8h0M263.0 574.7h0M261.9 559.2h0M263.3 556.6h0M262.9 574.5h0M261.2 560.9h0M263.1 558.0h0M262.8 573.2h0M260.6 556.7h0M261.7 559.1h0M263.2 555.0h0M263.4 557.1h0M261.0 548.1h0M264.0 567.8h0M261.2 562.0h0M262.2 562.9h0M262.3 553.8h0M261.4 560.9h0M262.5 562.1h0M262.7 567.9h0M261.1 555.9h0M263.5 563.9h0M263.6 554.7h0M261.2 553.8h0M263.6 556.7h0M262.1 550.1h0M260.8 555.8h0M262.2 563.0h0M262.5 551.7h0M262.0 556.3h0M263.4 560.1h0M262.8 555.1h0M260.4 554.0h0M261.7 560.9h0M260.8 551.0h0M263.4 554.3h0M261.8 555.3h0M262.2 549.0h0M263.9 576.6h0M263.4 554.5h0M262.8 570.5h0M262.3 562.7h0M263.3 553.7h0M263.9 567.4h0M261.4 566.0h0M264.1 573.7h0M262.3 558.5h0M262.7 552.9h0M263.1 558.1h0M263.9 565.4h0M261.7 568.7h0M261.4 552.8h0M263.7 559.7h0M264.1 574.2h0M261.6 548.0h0M262.8 568.7h0M264.0 566.8h0M260.4 554.6h0M262.7 556.4h0M261.7 566.1h0M261.8 559.9h0M263.1 570.6h0M262.9 567.6h0M262.5 558.0h0M262.9 559.5h0M262.1 552.7h0M263.4 567.7h0M262.8 566.5h0M263.2 561.4h0M263.0 570.7h0M261.6 553.2h0M262.8 567.9h0M261.3 552.4h0M262.6 552.9h0M260.9 551.1h0M263.2 550.1h0M261.6 549.3h0M261.9 549.0h0M262.3 566.5h0M262.6 550.9h0M261.7 555.9h0M262.2 558.9h0M260.6 550.1h0M265.7 556.1h0M265.2 572.1h0M265.9 552.5h0M266.3 571.3h0M267.1 552.5h0M265.4 562.5h0M269.1 554.1h0M267.0 570.2h0M266.7 554.1h0M269.1 554.0h0M266.8 550.3h0M266.8 546.2h0M266.4 551.2h0M268.0 547.7h0M267.9 547.9h0M267.1 564.1h0M266.3 560.1h0M267.8 559.4h0M267.0 558.8h0M265.5 564.8h0M267.3 549.6h0M267.9 547.4h0M266.0 555.9h0M266.5 546.5h0M265.7 567.5h0M267.1 568.8h0M267.8 562.5h0M265.9 559.1h0M267.1 566.2h0M269.0 548.7h0M268.9 556.9h0M267.2 549.6h0M265.8 557.6h0M267.3 564.3h0M266.5 550.1h0M267.3 549.5h0M267.6 554.6h0M265.8 557.8h0M267.4 548.4h0M267.5 551.7h0M267.9 545.7h0M265.7 569.2h0M267.9 556.6h0M265.6 557.7h0M267.9 555.0h0M267.3 561.7h0M268.0 555.5h0M268.5 553.5h0M265.9 554.6h0M266.3 558.7h0M269.1 552.1h0M266.0 565.9h0M267.6 548.2h0M269.1 557.7h0M265.5 555.0h0M267.9 565.5h0M267.8 565.5h0M267.2 555.7h0M267.6 547.4h0M267.0 560.9h0M265.8 557.2h0M269.4 553.7h0M267.7 564.5h0M268.6 554.9h0M265.6 553.9h0M266.4 548.6h0M269.2 547.5h0M267.6 567.0h0M265.5 566.7h0M265.6 555.8h0M265.7 557.0h0M266.0 571.0h0M268.0 553.6h0M266.0 554.1h0M265.9 563.5h0M266.8 571.9h0M266.7 562.1h0M265.8 560.7h0M267.7 556.8h0M268.0 552.4h0M265.8 570.6h0M267.3 545.8h0M266.8 564.7h0M267.8 550.4h0M266.9 554.9h0M265.8 554.9h0M265.5 546.2h0M265.7 575.6h0M265.7 567.1h0M267.9 552.6h0M266.9 549.4h0M268.0 559.2h0M268.5 559.4h0M265.8 552.6h0M267.2 556.1h0M265.6 562.4h0M266.2 566.7h0M265.8 567.1h0M267.1 558.2h0M266.5 545.5h0M265.2 568.7h0M265.8 560.9h0M265.5 554.5h0M265.6 556.8h0M265.6 566.2h0M266.1 566.5h0M266.0 546.0h0M265.9 566.2h0M268.3 553.8h0M266.5 549.0h0M265.6 548.1h0M266.5 551.7h0M268.7 555.1h0M265.3 566.1h0M268.9 558.6h0M267.7 550.6h0M268.0 554.6h0M266.0 553.3h0M266.1 570.4h0M265.5 566.1h0M269.1 546.8h0M267.0 549.1h0M266.6 560.2h0M268.7 559.8h0M268.0 549.0h0M267.5 545.6h0M267.5 555.4h0M266.8 564.3h0M266.5 560.7h0M266.8 559.0h0M266.3 550.7h0M266.4 550.1h0M265.9 566.7h0M265.4 569.4h0M267.4 552.5h0M269.0 548.1h0M267.8 557.9h0M267.5 556.7h0M267.0 566.7h0M266.7 568.3h0M265.7 561.2h0M268.0 565.8h0M269.1 550.2h0M268.9 559.5h0M267.6 557.9h0M266.6 557.0h0M267.6 546.2h0M267.6 560.9h0M265.8 559.3h0M268.1 558.6h0M265.9 564.0h0M266.4 548.5h0M265.7 571.3h0M267.1 562.8h0M268.3 556.9h0M266.0 558.2h0M266.5 563.7h0M266.5 561.2h0M265.7 570.3h0M267.3 546.6h0M266.6 550.4h0M268.5 547.6h0M268.6 549.3h0M266.3 565.2h0M266.1 566.9h0M268.6 560.6h0M269.1 549.4h0M265.8 566.1h0M267.7 556.7h0M267.9 549.4h0M269.1 555.6h0M268.4 555.0h0M268.5 556.8h0M268.4 561.2h0M269.2 548.2h0M267.1 550.6h0M266.9 559.1h0M268.2 550.2h0M268.4 558.5h0M267.8 551.3h0M266.9 555.8h0M268.9 550.8h0M268.6 550.2h0M269.1 553.3h0M266.9 545.8h0M265.7 560.1h0M265.2 572.3h0M265.8 563.5h0M268.3 556.2h0M268.2 558.7h0M268.4 557.8h0M266.6 570.5h0M266.3 548.1h0M266.9 564.1h0M265.2 570.4h0M267.9 554.3h0M267.2 558.8h0M268.1 561.9h0M267.3 568.4h0M265.6 564.6h0M267.5 553.9h0M267.8 548.6h0M268.1 556.1h0M266.1 554.6h0M265.5 572.2h0M265.9 561.4h0M266.2 552.7h0M267.9 560.6h0M267.0 559.6h0M267.2 562.3h0M266.5 554.7h0M265.3 575.3h0M266.8 553.6h0M268.0 551.8h0M268.2 563.8h0M266.0 548.7h0M267.2 569.9h0M266.1 560.6h0M267.8 566.9h0M268.1 547.6h0M268.3 547.2h0M266.0 569.8h0M265.9 555.2h0M267.3 551.4h0M267.9 553.1h0M266.2 550.7h0M266.6 556.0h0M268.3 549.6h0M267.5 561.1h0M265.7 553.5h0M266.2 550.0h0M266.0 575.1h0M265.4 554.3h0M267.7 545.6h0M265.6 557.1h0M269.0 547.9h0M268.9 547.4h0M269.1 552.4h0M266.6 568.8h0M265.4 574.3h0M266.5 556.8h0M266.6 559.1h0M265.5 548.9h0M266.9 570.5h0M265.9 550.6h0M269.0 557.4h0M267.9 562.5h0M266.7 546.5h0M267.8 550.1h0M267.7 560.8h0M268.3 548.8h0M267.7 564.8h0M265.4 567.2h0M266.4 561.8h0M265.4 558.5h0M268.4 546.1h0M265.3 565.0h0M266.6 565.3h0M265.7 550.6h0M267.8 563.5h0M266.5 567.6h0M269.0 555.7h0M268.5 551.5h0M268.6 561.0h0M266.4 545.9h0M266.3 553.7h0M266.0 555.9h0M267.6 557.9h0M267.0 552.0h0M266.1 558.1h0M265.9 553.9h0M265.8 546.4h0M267.3 564.2h0M265.8 547.1h0M268.4 563.0h0M265.6 575.6h0M265.9 547.6h0M266.6 568.8h0M265.9 572.2h0M267.8 546.9h0M267.0 546.6h0M267.1 555.3h0M268.2 549.4h0M265.8 546.6h0M268.5 554.2h0M265.1 571.0h0M265.5 566.9h0M268.8 546.7h0M266.9 554.9h0M266.4 549.4h0M268.7 559.5h0M265.8 573.7h0M267.0 562.3h0M265.9 565.3h0M266.3 561.7h0M266.8 565.6h0M267.6 555.6h0M266.4 552.8h0M266.8 567.2h0M267.6 559.2h0M265.5 568.0h0M265.9 548.1h0M267.6 561.2h0M265.1 572.4h0M266.2 564.8h0M265.8 568.4h0M269.2 546.4h0M266.3 562.3h0M267.0 565.8h0M266.3 558.3h0M266.3 545.7h0M267.7 552.9h0M265.6 569.5h0M265.3 576.4h0M267.3 564.9h0M266.3 569.0h0M266.6 546.8h0M266.8 571.9h0M265.6 564.5h0M267.9 552.4h0M265.8 552.4h0M265.6 572.4h0M268.6 548.1h0M267.8 566.4h0M268.9 548.9h0M268.2 555.0h0M265.5 570.0h0M267.2 545.8h0M265.9 548.2h0M266.2 553.3h0M268.6 556.6h0M266.7 553.3h0M267.2 551.1h0M268.1 553.4h0M267.2 561.5h0M266.7 567.9h0M265.7 567.2h0M268.5 546.3h0M269.3 547.7h0M266.1 562.2h0M269.2 555.0h0M265.4 551.6h0M266.1 570.2h0M266.9 555.9h0M266.2 546.6h0M265.6 546.3h0M267.7 554.7h0M267.8 546.1h0M266.1 545.4h0M266.3 557.2h0M266.0 571.0h0M267.8 551.1h0M268.9 546.0h0M268.0 565.0h0M268.4 562.4h0M265.2 571.8h0M266.3 547.3h0M265.4 556.6h0M265.9 574.8h0M266.8 547.4h0M268.1 547.8h0M268.1 549.1h0M266.4 570.8h0M267.8 560.4h0M268.7 549.6h0M266.3 557.1h0M267.5 556.4h0M265.4 554.2h0M269.0 547.5h0M267.1 558.3h0M266.6 571.1h0M267.1 555.5h0M265.4 565.7h0M267.8 561.1h0M269.1 554.1h0M266.4 550.1h0M268.3 562.2h0M266.6 557.2h0M268.1 557.4h0M266.3 553.8h0M265.1 571.5h0M264.7 569.7h0M264.3 573.3h0M264.2 569.2h0M264.8 569.3h0M264.9 575.1h0M265.6 569.0h0M265.2 569.2h0M263.9 573.9h0M264.6 576.0h0M265.6 568.5h0M263.0 569.0h0M263.4 575.4h0M264.3 568.6h0M263.6 574.0h0M263.4 569.6h0M264.7 571.7h0M264.9 575.7h0M265.7 568.7h0M265.3 576.7h0M265.9 573.4h0M264.6 570.8h0M265.3 576.5h0M264.8 569.7h0M264.6 572.9h0M263.1 568.9h0M265.6 574.7h0M263.6 572.1h0M264.9 574.0h0M264.2 573.9h0M265.7 570.3h0M264.6 572.9h0M265.3 574.0h0M266.0 571.9h0M263.3 574.7h0M262.8 569.4h0M265.6 576.2h0M265.3 568.5h0M264.4 574.8h0M263.5 575.5h0M265.4 575.3h0M264.8 574.5h0M265.1 569.0h0M264.6 576.6h0M263.3 568.2h0M265.2 569.1h0M264.2 575.7h0M263.4 570.4h0M265.4 575.0h0M264.5 576.3h0M264.6 574.8h0M264.3 572.3h0M263.7 576.6h0M265.8 571.8h0M263.1 571.0h0M263.7 572.9h0M263.8 573.1h0M262.9 568.2h0M265.1 572.6h0M263.5 572.0h0M260.3 542.0h0M261.1 541.1h0M261.9 543.0h0M261.2 547.4h0M261.2 546.6h0M261.3 546.0h0M268.2 537.0h0M266.1 543.7h0M267.8 536.1h0M267.6 539.2h0M267.0 545.3h0M268.2 539.5h0" stroke="#111" stroke-width="1.15" stroke-linecap="round" fill="none"/>
<path d="M274.9 555.5h0M269.1 571.3h0M263.6 570.9h0M270.7 549.9h0M264.0 572.1h0M256.1 571.8h0M271.0 567.0h0M271.7 560.6h0M264.5 550.6h0M265.7 561.8h0M267.7 571.7h0M263.9 541.8h0M267.0 539.1h0M265.4 537.9h0M258.6 571.7h0M262.7 560.2h0M266.9 537.0h0M258.6 551.2h0M261.8 545.7h0M268.6 542.9h0M256.7 570.8h0M267.3 546.3h0M259.5 567.0h0M261.6 560.0h0M271.1 569.5h0" stroke="#999" stroke-width="0.6" stroke-linecap="round" fill="none" stroke-opacity="0.6"/>
<path d="M348.0 528.7h0M348.0 563.3h0M348.7 542.1h0M348.2 545.1h0M346.3 534.7h0M348.5 549.0h0M346.7 552.3h0M348.6 566.1h0M348.6 531.6h0M346.4 539.9h0M349.2 562.0h0M346.6 531.3h0M348.4 523.2h0M348.4 548.8h0M348.8 567.7h0M346.7 532.2h0M346.3 545.5h0M347.1 552.8h0M348.3 526.7h0M348.4 557.7h0M348.2 561.1h0M345.9 536.7h0M348.5 536.8h0M346.2 532.7h0M349.3 567.8h0M346.3 537.0h0M347.7 547.1h0M349.3 563.2h0M348.0 526.6h0M348.0 539.5h0M347.9 559.8h0M347.1 556.0h0M349.6 576.5h0M348.7 540.6h0M348.2 521.8h0M347.0 559.5h0M346.7 526.8h0M347.6 547.9h0M348.6 547.0h0M347.6 541.3h0M346.3 522.5h0M348.2 553.2h0M348.0 559.9h0M346.6 535.0h0M348.0 535.7h0M348.2 543.3h0M348.0 550.2h0M346.5 525.6h0M347.8 556.8h0M347.3 524.0h0M347.1 544.7h0M346.9 526.2h0M346.9 548.6h0M347.1 554.3h0M348.9 548.3h0M347.3 555.8h0M347.5 554.9h0M348.6 555.3h0M346.8 527.0h0M349.0 555.3h0M349.2 558.5h0M348.2 565.1h0M347.9 530.5h0M348.7 561.7h0M349.1 568.4h0M349.2 563.5h0M349.4 574.7h0M346.9 522.3h0M347.6 540.7h0M349.0 569.6h0M348.1 543.4h0M349.3 563.5h0M346.7 535.4h0M346.6 535.7h0M349.3 576.3h0M347.8 562.8h0M347.8 540.3h0M348.8 574.8h0M347.8 566.0h0M347.0 553.5h0M347.4 537.7h0M348.8 556.1h0M347.2 523.1h0M346.3 535.2h0M346.5 521.8h0M348.7 539.7h0M347.0 534.1h0M347.7 522.4h0M348.7 572.8h0M348.9 560.2h0M347.5 548.0h0M348.5 561.2h0M347.8 546.3h0M348.3 539.1h0M348.6 551.9h0M348.2 524.8h0M349.2 561.4h0M349.3 571.6h0M349.5 571.5h0M349.0 567.8h0M348.2 522.3h0M349.0 570.0h0M349.0 560.1h0M348.2 552.4h0M347.1 524.1h0M348.4 531.4h0M348.8 553.4h0M348.2 563.7h0M346.7 532.1h0M347.6 536.6h0M349.4 562.4h0M349.6 569.7h0M347.7 521.9h0M346.9 553.5h0M348.9 554.1h0M348.6 542.5h0M346.5 545.8h0M347.5 522.2h0M346.6 549.9h0M349.0 567.4h0M346.3 543.1h0M346.9 540.5h0M347.2 556.2h0M346.1 530.7h0M349.5 569.6h0M347.8 543.8h0M347.7 533.6h0M347.9 533.9h0M348.1 531.7h0M346.8 538.7h0M348.8 545.8h0M346.8 542.8h0M349.3 566.8h0M346.8 557.2h0M346.7 536.0h0M349.2 576.0h0M348.0 532.4h0M348.3 554.3h0M349.1 557.4h0M348.5 538.5h0M346.9 544.6h0M347.8 533.9h0M348.1 547.4h0M348.7 554.9h0M348.4 563.4h0M348.5 562.3h0M347.9 553.6h0M348.6 537.3h0M347.2 530.8h0M347.7 558.5h0M347.3 545.5h0M346.0 539.1h0M348.6 537.8h0M347.5 525.7h0M346.2 541.9h0M348.4 571.3h0M347.7 535.2h0M347.9 547.0h0M346.7 546.2h0M348.9 554.1h0M346.5 546.7h0M348.4 528.0h0M348.5 564.0h0M348.8 567.3h0M347.6 526.9h0M346.7 554.1h0M347.2 545.4h0M348.4 553.3h0M349.4 575.0h0M346.8 549.4h0M348.7 543.7h0M348.2 558.8h0M349.3 564.6h0M348.2 553.3h0M347.6 563.6h0M346.8 533.8h0M346.3 523.7h0M346.4 524.2h0M346.9 538.3h0M349.3 560.7h0M349.6 570.0h0M347.6 541.4h0M348.0 535.5h0M347.1 556.8h0M349.0 555.0h0M347.1 530.0h0M347.4 548.4h0M348.4 523.9h0M348.8 540.8h0M348.5 542.3h0M347.4 549.6h0M348.2 522.4h0M346.3 547.9h0M349.0 568.0h0M346.8 537.9h0M348.5 525.0h0M346.7 545.2h0M348.2 549.8h0M346.4 522.5h0M347.8 558.5h0M349.4 575.0h0M347.9 529.2h0M347.8 524.4h0M348.3 523.7h0M345.9 535.7h0M348.3 561.4h0M348.4 533.7h0M347.9 527.7h0M348.2 557.0h0M347.5 525.7h0M347.7 546.3h0M346.0 531.4h0M348.9 560.8h0M348.2 552.1h0M346.4 535.1h0M346.3 527.1h0M347.9 542.8h0M348.3 569.8h0M346.9 534.2h0M346.9 555.7h0M348.8 547.2h0M346.6 524.7h0M347.7 550.7h0M348.5 553.6h0M346.4 521.3h0M346.3 530.6h0M347.1 528.3h0M346.2 528.8h0M347.2 530.6h0M345.9 532.0h0M348.3 546.4h0M346.2 522.0h0M348.2 540.9h0M347.1 524.5h0M346.4 540.6h0M349.2 570.1h0M347.3 555.5h0M346.0 535.4h0M348.6 561.8h0M349.2 554.9h0M348.4 522.5h0M347.2 539.0h0M348.2 568.7h0M347.5 549.9h0M348.9 561.9h0M346.7 554.2h0M347.2 539.9h0M348.6 573.7h0M348.3 553.5h0M346.4 547.2h0M348.4 544.0h0M348.4 547.0h0M348.0 525.3h0M348.0 531.8h0M346.1 525.2h0M348.4 569.0h0M347.3 551.6h0M347.9 554.8h0M347.5 549.0h0M348.5 560.7h0M348.3 555.1h0M348.2 551.5h0M346.7 542.7h0M349.1 567.1h0M346.2 524.6h0M347.3 529.5h0M347.7 544.9h0M348.3 553.9h0M349.1 551.2h0M347.1 546.9h0M346.3 526.6h0M346.5 524.4h0M349.3 568.0h0M348.8 571.5h0M347.3 544.1h0M346.4 527.4h0M347.6 540.1h0M347.4 548.0h0M348.6 551.8h0M348.2 524.7h0M348.6 558.4h0M349.1 567.3h0M348.5 569.7h0M346.4 533.4h0M347.8 547.9h0M349.2 562.7h0M346.4 523.6h0M347.0 538.5h0M347.6 549.2h0M346.8 545.5h0M346.7 544.4h0M348.1 537.2h0M347.5 551.7h0M346.3 543.9h0M348.0 524.6h0M346.6 532.9h0M347.5 537.9h0M348.2 566.5h0M348.9 544.5h0M348.3 560.5h0M348.1 552.5h0M346.4 535.7h0M346.3 527.7h0M348.1 542.6h0M348.7 542.1h0M348.8 571.7h0M347.4 551.6h0M347.6 554.7h0M348.9 558.7h0M346.1 545.4h0M347.4 543.6h0M347.6 521.7h0M349.6 573.3h0M347.6 557.4h0M346.6 548.1h0M346.0 539.1h0M346.6 534.9h0M349.0 567.6h0M348.0 534.8h0M346.2 530.2h0M347.3 533.6h0M346.9 550.4h0M348.3 558.5h0M346.6 531.8h0M348.1 530.8h0M348.8 557.9h0M347.0 521.1h0M346.3 543.7h0M348.4 551.0h0M347.6 558.5h0M347.6 539.7h0M347.4 523.4h0M346.4 529.2h0M348.5 571.0h0M347.9 565.6h0M349.1 575.4h0M346.1 538.7h0M347.2 555.1h0M349.5 566.9h0M349.2 576.0h0M348.4 540.6h0M346.9 523.8h0M346.4 542.3h0M347.5 551.4h0M348.9 572.7h0M348.3 569.8h0M348.1 557.5h0M348.0 549.6h0M348.2 543.5h0M348.0 544.0h0M348.2 567.4h0M347.8 555.1h0M347.2 554.9h0M348.2 560.9h0M347.5 543.7h0M346.8 556.1h0M347.2 535.1h0M349.1 570.1h0M347.8 536.1h0M348.8 537.6h0M348.8 558.1h0M348.6 562.2h0M348.4 531.6h0M348.9 571.6h0M346.2 535.6h0M346.0 541.6h0M347.7 530.9h0M347.0 550.0h0M348.0 565.6h0M347.8 562.7h0M347.0 552.6h0M346.8 542.1h0M345.9 536.6h0M346.7 528.9h0M347.8 539.6h0M347.5 534.0h0M346.2 525.5h0M346.4 530.2h0M346.4 541.1h0M347.1 542.3h0M346.5 515.2h0M347.5 518.7h0M347.3 511.4h0M347.8 517.7h0M347.1 512.8h0M346.8 518.1h0M348.3 516.8h0M346.9 520.3h0M346.8 512.4h0M346.6 513.3h0M351.4 561.5h0M356.5 554.1h0M352.8 569.4h0M351.6 563.4h0M354.4 560.9h0M351.6 563.2h0M358.1 552.1h0M352.1 571.8h0M357.2 551.2h0M350.6 576.6h0M354.5 557.5h0M351.6 560.0h0M351.2 565.5h0M356.9 556.6h0M352.1 552.8h0M355.6 557.6h0M352.0 563.6h0M353.3 562.6h0M350.8 576.4h0M352.0 553.6h0M356.7 556.6h0M351.1 563.0h0M351.6 571.4h0M355.0 560.7h0M352.2 557.5h0M352.4 568.5h0M351.7 567.6h0M352.8 563.5h0M352.1 573.0h0M351.8 557.8h0M358.7 550.3h0M358.1 550.6h0M356.7 551.6h0M351.4 576.5h0M356.7 551.9h0M352.5 566.8h0M351.9 574.6h0M355.4 560.3h0M352.4 569.4h0M350.8 568.2h0M351.6 570.7h0M353.7 553.2h0M354.7 559.6h0M352.6 563.9h0M355.4 551.5h0M351.7 559.0h0M351.2 568.6h0M355.9 553.4h0M351.8 558.2h0M356.6 554.4h0M353.9 556.2h0M357.0 551.3h0M351.9 569.4h0M352.0 552.0h0M351.5 572.1h0M357.4 553.7h0M353.2 552.3h0M352.2 572.0h0M352.8 560.9h0M355.2 555.0h0M353.4 559.7h0M351.7 554.0h0M350.8 566.7h0M353.5 562.6h0M353.4 558.3h0M351.4 552.2h0M352.5 554.7h0M352.0 569.1h0M352.3 560.7h0M352.3 560.4h0M351.4 552.3h0M352.2 566.6h0M352.8 550.9h0M357.8 552.5h0M358.2 551.3h0M354.0 552.5h0M353.2 549.9h0M353.5 552.0h0M351.8 552.2h0M351.5 571.2h0M353.8 562.1h0M351.4 563.7h0M355.7 556.4h0M354.9 561.9h0M353.1 553.7h0M353.0 568.9h0M352.5 564.8h0M353.3 560.9h0M352.8 562.3h0M352.0 571.6h0M358.2 551.4h0M353.8 560.2h0M351.2 570.2h0M352.4 567.3h0M353.0 559.3h0M356.8 556.0h0M352.0 572.3h0M351.2 575.9h0M352.2 559.2h0M357.2 555.3h0M358.3 551.0h0M357.9 552.3h0M352.2 566.4h0M357.5 553.3h0M357.7 552.8h0M357.5 551.8h0M353.8 559.5h0M352.4 551.5h0M352.7 556.2h0M354.6 557.1h0M357.1 552.2h0M353.4 551.6h0M357.0 553.3h0M355.4 558.3h0M352.7 551.0h0M352.2 570.0h0M352.7 558.5h0M352.9 554.8h0M351.8 567.8h0M355.1 561.0h0M352.1 558.6h0M352.8 562.8h0M351.7 558.5h0M353.2 564.6h0M351.2 574.7h0M353.7 556.6h0M355.9 552.0h0M353.2 553.7h0M351.7 555.1h0M353.7 559.0h0M355.4 560.0h0M357.6 555.6h0M356.7 554.5h0M354.1 554.9h0M356.4 557.7h0M351.1 569.0h0M351.1 559.0h0M352.5 563.2h0M353.1 561.1h0M351.7 552.0h0M352.8 566.9h0M356.6 549.8h0M356.0 556.1h0M352.6 558.1h0M358.8 549.9h0M354.1 552.6h0M355.5 557.6h0M353.6 557.8h0M355.2 552.7h0M355.2 554.4h0M351.9 563.3h0M352.7 558.2h0M352.6 569.3h0M351.8 550.8h0M352.3 569.4h0M355.5 557.1h0M352.2 565.7h0M354.3 559.1h0M352.7 558.2h0M351.9 556.8h0M354.2 561.9h0M353.9 557.7h0M358.6 550.4h0M350.7 572.2h0M356.4 552.3h0M354.0 552.7h0M357.9 552.9h0M353.6 551.7h0M352.4 568.8h0M354.3 557.2h0M351.5 570.5h0M354.3 561.4h0M353.3 563.2h0M353.1 560.3h0M353.3 557.5h0M356.2 551.5h0M357.0 549.5h0M357.6 550.2h0M355.3 557.3h0M355.5 557.0h0M355.1 555.8h0M352.7 556.8h0M355.7 557.2h0M350.9 568.5h0M356.5 551.6h0M351.5 567.7h0M350.8 567.6h0M351.0 557.5h0M353.3 554.7h0M354.8 555.0h0M351.4 561.5h0M354.4 561.6h0M353.2 553.4h0M351.4 565.6h0M354.7 556.5h0M356.0 549.6h0M352.6 563.6h0M352.6 564.2h0M353.7 550.8h0M353.3 553.9h0M353.8 563.9h0M357.6 554.2h0M352.6 553.9h0M351.7 571.7h0M351.0 573.0h0M355.8 556.7h0M357.9 553.2h0M354.2 561.9h0M355.6 557.6h0M352.6 554.7h0M353.7 564.1h0M352.6 566.4h0M351.3 555.3h0M357.8 551.8h0M357.8 553.6h0M354.0 557.1h0M354.8 554.6h0M351.2 557.1h0M355.6 558.7h0M356.7 556.1h0M356.2 550.9h0M354.0 555.5h0M352.2 554.7h0M353.5 557.7h0M354.8 552.1h0M355.0 552.7h0M351.2 563.9h0M356.6 552.3h0M355.9 558.3h0M352.2 566.9h0M352.6 556.5h0M354.2 563.7h0M355.8 560.0h0M352.3 562.3h0M356.2 558.8h0M351.5 549.6h0M352.5 568.8h0M356.6 558.0h0M351.6 553.1h0M352.4 556.6h0M351.1 567.0h0M355.1 556.5h0M352.2 555.0h0M354.1 555.4h0M355.8 558.4h0M351.1 557.8h0M352.4 557.2h0M350.9 572.4h0M353.1 561.0h0M356.0 557.7h0M351.8 556.3h0M351.2 559.7h0M353.2 566.4h0M356.4 556.8h0M354.3 552.5h0M353.6 564.0h0M350.8 575.4h0M356.8 549.9h0M354.8 560.3h0M353.7 550.0h0M355.6 554.0h0M353.8 562.7h0M353.4 559.4h0M354.4 558.2h0M351.8 560.9h0M352.3 567.7h0M353.2 554.7h0M352.3 557.7h0M352.6 560.0h0M356.5 558.3h0M356.5 552.3h0M351.5 562.0h0M356.6 555.1h0M352.8 566.9h0M351.9 556.0h0M351.2 563.6h0M355.2 558.2h0M352.2 558.1h0M354.0 550.2h0M356.9 554.7h0M351.6 564.2h0M352.6 556.1h0M353.6 555.1h0M352.0 566.0h0M350.7 571.3h0M351.9 557.6h0M351.5 560.3h0M350.8 565.2h0M354.7 552.7h0M353.9 558.4h0M354.5 550.0h0M351.6 572.4h0M352.6 567.3h0M354.5 563.1h0M353.1 558.1h0M352.3 563.2h0M357.4 554.8h0M352.5 563.9h0M352.2 557.5h0M353.8 561.6h0M351.4 555.1h0M355.7 558.6h0M352.2 571.9h0M354.4 557.3h0M351.5 556.0h0M352.0 571.9h0M351.0 568.7h0M352.6 560.1h0M355.1 550.2h0M353.9 559.1h0M353.4 556.1h0M357.3 556.0h0M351.7 549.5h0M352.6 557.5h0M352.2 559.6h0M352.1 563.2h0M354.7 554.4h0M354.3 560.9h0M353.1 556.3h0M353.3 551.3h0M353.6 550.8h0M357.8 550.3h0M352.2 571.6h0M352.4 552.5h0M351.5 568.4h0M353.4 557.8h0M356.5 551.3h0M352.3 571.5h0M354.2 563.7h0M354.1 562.7h0M351.2 573.5h0M356.4 551.4h0M355.2 551.7h0M354.3 550.3h0M352.4 570.5h0M351.7 569.9h0M355.4 556.8h0M356.3 557.6h0M352.8 562.5h0M357.9 550.2h0M356.4 552.0h0M351.2 573.0h0M352.7 569.1h0M355.6 557.1h0M352.0 558.9h0M354.2 559.5h0M351.9 557.2h0M351.2 568.9h0M356.4 555.4h0M355.9 557.0h0M355.0 560.2h0M357.7 551.6h0M351.9 572.5h0M351.9 568.1h0M353.6 551.4h0M352.3 556.6h0M352.1 569.9h0M351.2 557.7h0M353.1 552.7h0M351.0 571.7h0M352.8 562.4h0M351.1 568.4h0M354.8 550.0h0M351.7 553.6h0M351.9 568.4h0M354.3 557.9h0M355.2 555.9h0M351.2 561.9h0M352.8 557.4h0M352.9 556.8h0M354.6 557.5h0M353.7 555.3h0M353.4 563.2h0M356.5 554.9h0M351.9 569.5h0M351.6 558.2h0M352.4 553.8h0M354.3 552.0h0M354.4 561.5h0M355.8 552.1h0" stroke="#111" stroke-width="1.15" stroke-linecap="round" fill="none"/>
<path d="M355.3 545.6h0M357.2 545.9h0M352.9 533.5h0M358.5 545.3h0M353.1 529.2h0M356.0 542.1h0M353.3 543.6h0M359.2 541.2h0M358.9 535.5h0M357.1 530.7h0M353.5 537.4h0M352.7 535.0h0M354.1 532.2h0M352.8 538.3h0M353.2 549.7h0M356.9 546.8h0M358.3 546.7h0M351.9 544.7h0M359.0 545.8h0M353.9 549.6h0M353.1 536.2h0M353.3 537.1h0M357.1 532.9h0M353.0 541.2h0M354.0 524.0h0M358.0 546.7h0M356.4 532.2h0M352.8 526.8h0M355.3 534.0h0M355.4 530.6h0M354.1 548.6h0M354.7 547.5h0M352.6 539.4h0M356.6 533.7h0M352.5 546.7h0M353.1 529.6h0M357.5 529.0h0M354.8 529.7h0M357.8 532.2h0M353.2 536.5h0M352.9 526.6h0M356.4 538.7h0M356.1 542.3h0M351.7 537.4h0M354.2 539.0h0M352.1 525.3h0M352.5 534.7h0M355.6 530.4h0M355.4 549.1h0M353.4 542.7h0M357.9 547.3h0M352.5 526.9h0M355.6 537.4h0M358.8 544.3h0M355.1 529.3h0M354.9 534.1h0M353.6 541.0h0M356.1 549.8h0M352.8 542.1h0M355.8 527.8h0M352.7 536.9h0M354.3 541.6h0M358.7 541.4h0M358.2 534.9h0M357.2 546.4h0M352.5 528.7h0M355.9 548.8h0M357.7 547.3h0M353.8 542.6h0M357.3 534.9h0M359.0 537.5h0M352.6 541.2h0M354.7 526.2h0M356.2 538.6h0M351.7 540.6h0M354.7 547.3h0M353.1 531.5h0M353.7 542.9h0M356.5 531.4h0M352.1 537.5h0M352.4 527.5h0M352.5 533.8h0M353.2 546.0h0M355.8 534.3h0M357.3 543.1h0M352.5 525.6h0M358.9 547.8h0M357.5 535.5h0M354.0 536.6h0M353.8 528.0h0M355.1 526.8h0M353.2 528.5h0M354.6 541.3h0M352.1 538.4h0M355.0 547.0h0M356.5 526.0h0M352.9 534.3h0M355.2 528.4h0M356.8 548.9h0M355.0 538.3h0M353.2 532.9h0M359.3 547.8h0M354.1 542.2h0M354.9 540.4h0M354.8 526.1h0M359.5 548.9h0M357.7 539.8h0M354.6 546.4h0M355.1 532.7h0M357.7 542.2h0M356.4 528.6h0M355.9 530.5h0M351.6 545.5h0M353.6 524.7h0M353.4 527.2h0M353.8 544.2h0M356.8 526.4h0M354.5 530.0h0M353.5 546.9h0M354.8 547.2h0M353.4 549.1h0M352.2 539.0h0M357.4 543.4h0M355.3 542.5h0M356.9 531.4h0M356.8 546.4h0M352.2 541.8h0M353.6 547.4h0M358.6 535.2h0M356.2 546.3h0M353.5 533.0h0M351.6 536.5h0M353.9 525.4h0M353.4 523.0h0M357.4 536.5h0M357.5 531.8h0M358.3 544.1h0M355.2 540.5h0M353.3 526.0h0M355.2 528.4h0M356.9 531.3h0M353.6 536.9h0M352.5 526.3h0M353.2 526.0h0M354.2 530.3h0M354.4 531.5h0M356.1 528.7h0M351.9 538.8h0M353.1 535.6h0M355.8 526.8h0M354.9 536.2h0M354.8 528.7h0M352.1 534.9h0M357.6 529.1h0M354.1 549.2h0M355.3 530.6h0M358.5 543.2h0M353.1 527.5h0M353.0 536.0h0M354.5 531.9h0M351.6 539.7h0M358.7 548.6h0M356.5 538.1h0M352.5 524.3h0M356.8 542.0h0M359.5 548.0h0M354.0 540.3h0M355.7 539.9h0M353.7 526.2h0M352.8 545.1h0M358.8 537.3h0M355.4 538.3h0M356.2 545.9h0M353.0 541.2h0M351.7 532.4h0M356.3 544.8h0M352.2 540.8h0M354.0 533.5h0M352.6 524.9h0M354.4 539.0h0M353.4 530.9h0M352.4 534.8h0M352.9 545.1h0M356.0 535.7h0M351.9 543.9h0M358.1 539.5h0M358.5 535.0h0M351.7 540.5h0M355.7 548.0h0M353.5 525.9h0M353.1 524.3h0M355.7 533.3h0M357.8 536.9h0M358.1 548.2h0M352.5 538.6h0M357.7 539.2h0M351.8 539.6h0M359.6 549.4h0M351.9 549.0h0M354.8 526.5h0M351.8 545.3h0M358.1 544.4h0M355.7 546.3h0M354.1 544.1h0M357.2 543.5h0M355.8 548.5h0M357.9 541.1h0M356.7 544.7h0M355.7 546.5h0M352.4 531.6h0M352.2 547.9h0M353.8 547.5h0M355.0 535.8h0M354.0 544.3h0M356.8 546.8h0M356.7 548.5h0M351.9 542.3h0M356.2 538.9h0M351.9 544.2h0M352.5 525.3h0M358.5 537.2h0M353.8 545.3h0M355.4 547.8h0M358.5 533.2h0M352.6 529.9h0M352.9 536.9h0M359.2 543.8h0M352.1 546.8h0M353.8 543.0h0M352.8 527.6h0M354.5 539.5h0M352.8 527.6h0M358.0 539.6h0M355.7 525.0h0M356.4 531.4h0M357.1 531.2h0M356.3 548.4h0M359.2 543.7h0M356.1 534.8h0M352.6 524.7h0M353.5 548.2h0M356.7 528.0h0M352.1 526.4h0M351.9 528.5h0M354.9 525.7h0M353.1 539.1h0M357.1 547.5h0M353.6 535.1h0M353.6 537.7h0M355.9 528.1h0M357.9 546.1h0M353.2 549.5h0M354.6 543.5h0M351.9 536.4h0M355.6 539.7h0M355.3 524.3h0M359.1 546.8h0M354.0 540.6h0M356.1 539.7h0M355.1 549.7h0M355.7 534.9h0M354.1 523.2h0M352.7 544.1h0M354.1 523.2h0M356.1 528.9h0M358.7 544.4h0M356.3 542.0h0M357.7 537.8h0M357.9 539.6h0M356.8 543.7h0M359.5 547.7h0M353.4 523.9h0M353.7 538.0h0M352.4 526.2h0M352.3 533.0h0M353.4 543.4h0M353.1 531.1h0M353.5 531.2h0M357.8 543.0h0M357.8 532.1h0M357.3 542.4h0M356.1 549.6h0M352.4 527.8h0M353.7 533.5h0M355.4 549.1h0M353.9 527.9h0M355.3 529.9h0M356.4 544.3h0M358.2 548.8h0M353.9 531.0h0M353.8 533.7h0M356.0 533.2h0M354.4 539.1h0M357.0 545.9h0M355.2 535.7h0M353.7 527.5h0M353.4 549.6h0M358.2 535.4h0M352.6 532.2h0M357.5 545.1h0M355.5 523.7h0M354.5 523.2h0M355.4 530.9h0M354.5 524.2h0M355.1 538.2h0M351.9 537.2h0M352.2 545.5h0M354.2 542.2h0M352.0 547.8h0M351.6 544.9h0M357.3 537.2h0M354.0 544.7h0M354.7 533.7h0M359.4 548.4h0M358.5 547.3h0M356.6 531.9h0M358.0 533.8h0M357.9 545.9h0M355.4 543.4h0M352.8 546.0h0M356.4 546.5h0M357.2 536.7h0M353.2 533.0h0M352.8 528.4h0M352.1 539.7h0M353.6 547.5h0M354.0 536.5h0M354.4 541.5h0M352.1 530.2h0M357.8 541.6h0M353.8 538.0h0M355.2 535.1h0M355.8 530.6h0M358.6 547.4h0M353.8 544.0h0M357.6 541.7h0M351.7 537.9h0M358.0 548.4h0M355.3 533.4h0M356.2 547.7h0M354.6 524.7h0M355.1 526.6h0M357.1 536.9h0M356.3 525.1h0M359.2 545.3h0M355.1 540.5h0M353.3 539.7h0M352.7 545.5h0M356.0 533.2h0M353.2 525.3h0M354.7 533.2h0M358.9 537.2h0M356.3 530.1h0M354.0 524.8h0M354.0 547.7h0M356.9 545.5h0M353.8 549.2h0M353.6 524.5h0M354.4 549.0h0M356.0 546.8h0M354.8 534.9h0M356.4 541.1h0M354.1 529.1h0M352.1 530.5h0M354.2 549.5h0M356.1 543.0h0M352.7 535.0h0M358.8 548.9h0M352.1 532.8h0M353.6 537.0h0M353.3 544.7h0M358.3 548.0h0M354.5 535.8h0M354.9 525.2h0M356.8 530.7h0M357.3 530.9h0M356.1 544.6h0M356.2 525.5h0M356.5 537.4h0M354.3 527.3h0M354.2 538.2h0M358.6 541.3h0M352.7 534.3h0M356.0 526.9h0M357.0 537.7h0M353.7 525.2h0M354.0 536.3h0M357.5 537.7h0M357.1 546.7h0M352.1 543.1h0M352.8 533.7h0M353.9 535.8h0M355.8 526.9h0M352.0 527.6h0M357.5 531.7h0M353.8 546.2h0M359.4 547.5h0M352.8 526.0h0M356.8 538.1h0M355.5 523.9h0M358.6 534.9h0M356.0 536.6h0M356.6 534.4h0M355.8 541.7h0M356.5 532.0h0M354.6 545.6h0M358.2 545.8h0M356.3 543.6h0M355.5 545.8h0M356.2 527.3h0M357.2 525.9h0M353.7 541.5h0M352.9 538.6h0M354.4 528.5h0M358.9 539.1h0M355.9 542.2h0M351.7 537.8h0M355.4 546.0h0M357.6 534.8h0M353.4 537.4h0M356.8 526.5h0M352.9 546.6h0M359.1 544.1h0M355.8 542.4h0M358.8 536.5h0M354.8 531.0h0M359.2 544.7h0M354.0 536.3h0M355.3 544.3h0M352.2 535.8h0M362.5 549.3h0M367.1 545.0h0M370.3 544.2h0M365.4 543.7h0M369.6 543.0h0M360.6 530.0h0M366.4 543.6h0M366.9 539.9h0M360.5 539.7h0M361.8 546.5h0M363.2 535.0h0M362.7 536.6h0M361.2 546.6h0M359.0 527.5h0M361.8 529.5h0M359.3 530.1h0M366.5 546.8h0M369.6 547.4h0M364.5 545.3h0M359.5 529.8h0M361.1 528.4h0M362.0 530.4h0M363.7 543.1h0M360.7 533.4h0M370.3 545.7h0M367.9 539.8h0M367.2 542.9h0M362.8 549.0h0M362.3 535.5h0M364.8 533.6h0M365.7 534.3h0M362.8 531.3h0M370.0 543.6h0M366.4 540.4h0M368.5 536.1h0M365.2 532.4h0M362.1 531.3h0M362.5 547.2h0M367.9 539.4h0M366.3 542.5h0M367.5 538.4h0M367.6 531.0h0M368.9 538.5h0M372.0 538.6h0M368.3 528.0h0M363.3 530.6h0M371.8 545.2h0M372.0 537.6h0" stroke="#ec4020" stroke-width="1.05" stroke-linecap="round" fill="none"/>
<path d="M361.3 549.7h0M361.1 549.5h0M367.3 551.9h0M367.7 552.6h0M367.9 552.4h0M366.0 552.9h0M365.4 551.5h0M365.9 549.9h0M362.1 550.6h0M364.5 550.9h0" stroke="#3a9ab0" stroke-width="0.8" stroke-linecap="round" fill="none"/>
<line x1="236.6" y1="508.5" x2="236.6" y2="577.7" stroke="#2a2a2a" stroke-width="1.2"/>
<line x1="236.0" y1="577.1" x2="294.4" y2="577.1" stroke="#2a2a2a" stroke-width="1.2"/>
<line x1="234.2" y1="511.7" x2="236.6" y2="511.7" stroke="#2a2a2a" stroke-width="1"/>
<text x="232.0" y="514.0" font-size="6.8" text-anchor="end" fill="#1e1e1e" stroke="#1e1e1e" stroke-width="0.07">6</text>
<line x1="234.2" y1="533.5" x2="236.6" y2="533.5" stroke="#2a2a2a" stroke-width="1"/>
<text x="232.0" y="535.8" font-size="6.8" text-anchor="end" fill="#1e1e1e" stroke="#1e1e1e" stroke-width="0.07">4</text>
<line x1="234.2" y1="555.3" x2="236.6" y2="555.3" stroke="#2a2a2a" stroke-width="1"/>
<text x="232.0" y="557.5999999999999" font-size="6.8" text-anchor="end" fill="#1e1e1e" stroke="#1e1e1e" stroke-width="0.07">2</text>
<line x1="234.2" y1="577.1" x2="236.6" y2="577.1" stroke="#2a2a2a" stroke-width="1"/>
<text x="232.0" y="579.4" font-size="6.8" text-anchor="end" fill="#1e1e1e" stroke="#1e1e1e" stroke-width="0.07">0</text>
<line x1="322.3" y1="508.5" x2="322.3" y2="577.7" stroke="#2a2a2a" stroke-width="1.2"/>
<line x1="321.7" y1="577.1" x2="378" y2="577.1" stroke="#2a2a2a" stroke-width="1.2"/>
<line x1="319.90000000000003" y1="511.7" x2="322.3" y2="511.7" stroke="#2a2a2a" stroke-width="1"/>
<text x="317.7" y="514.0" font-size="6.8" text-anchor="end" fill="#1e1e1e" stroke="#1e1e1e" stroke-width="0.07">6</text>
<line x1="319.90000000000003" y1="533.5" x2="322.3" y2="533.5" stroke="#2a2a2a" stroke-width="1"/>
<text x="317.7" y="535.8" font-size="6.8" text-anchor="end" fill="#1e1e1e" stroke="#1e1e1e" stroke-width="0.07">4</text>
<line x1="319.90000000000003" y1="555.3" x2="322.3" y2="555.3" stroke="#2a2a2a" stroke-width="1"/>
<text x="317.7" y="557.5999999999999" font-size="6.8" text-anchor="end" fill="#1e1e1e" stroke="#1e1e1e" stroke-width="0.07">2</text>
<line x1="319.90000000000003" y1="577.1" x2="322.3" y2="577.1" stroke="#2a2a2a" stroke-width="1"/>
<text x="317.7" y="579.4" font-size="6.8" text-anchor="end" fill="#1e1e1e" stroke="#1e1e1e" stroke-width="0.07">0</text>
<line x1="236.6" y1="577.1" x2="236.6" y2="579.6" stroke="#2a2a2a" stroke-width="1"/>
<text x="235.0" y="588.2" font-size="6.8" text-anchor="middle" fill="#1e1e1e" stroke="#1e1e1e" stroke-width="0.07">−10</text>
<line x1="250.5" y1="577.1" x2="250.5" y2="579.6" stroke="#2a2a2a" stroke-width="1"/>
<text x="248.9" y="588.2" font-size="6.8" text-anchor="middle" fill="#1e1e1e" stroke="#1e1e1e" stroke-width="0.07">−5</text>
<line x1="264.5" y1="577.1" x2="264.5" y2="579.6" stroke="#2a2a2a" stroke-width="1"/>
<text x="264.5" y="588.2" font-size="6.8" text-anchor="middle" fill="#1e1e1e" stroke="#1e1e1e" stroke-width="0.07">0</text>
<line x1="278.5" y1="577.1" x2="278.5" y2="579.6" stroke="#2a2a2a" stroke-width="1"/>
<text x="278.5" y="588.2" font-size="6.8" text-anchor="middle" fill="#1e1e1e" stroke="#1e1e1e" stroke-width="0.07">5</text>
<line x1="292.5" y1="577.1" x2="292.5" y2="579.6" stroke="#2a2a2a" stroke-width="1"/>
<text x="292.5" y="588.2" font-size="6.8" text-anchor="middle" fill="#1e1e1e" stroke="#1e1e1e" stroke-width="0.07">10</text>
<line x1="322.3" y1="577.1" x2="322.3" y2="579.6" stroke="#2a2a2a" stroke-width="1"/>
<line x1="336.4" y1="577.1" x2="336.4" y2="579.6" stroke="#2a2a2a" stroke-width="1"/>
<line x1="349.9" y1="577.1" x2="349.9" y2="579.6" stroke="#2a2a2a" stroke-width="1"/>
<line x1="364" y1="577.1" x2="364" y2="579.6" stroke="#2a2a2a" stroke-width="1"/>
<line x1="372" y1="577.1" x2="372" y2="579.6" stroke="#2a2a2a" stroke-width="1"/>
<text x="320" y="588.2" font-size="6.8" text-anchor="middle" fill="#1e1e1e" stroke="#1e1e1e" stroke-width="0.07">−10</text>
<text x="334.8" y="588.2" font-size="6.8" text-anchor="middle" fill="#1e1e1e" stroke="#1e1e1e" stroke-width="0.07">−5</text>
<text x="349.9" y="588.2" font-size="6.8" text-anchor="middle" fill="#1e1e1e" stroke="#1e1e1e" stroke-width="0.07">0</text>
<text x="364" y="588.2" font-size="6.8" text-anchor="middle" fill="#1e1e1e" stroke="#1e1e1e" stroke-width="0.07">5</text>
<text x="372.8" y="588.2" font-size="6.8" text-anchor="middle" fill="#1e1e1e" stroke="#1e1e1e" stroke-width="0.07">10</text>
<text x="265.45" y="600.3" font-size="8.8" text-anchor="middle" fill="#1e1e1e" stroke="#1e1e1e" stroke-width="0.07" textLength="17.1" lengthAdjust="spacingAndGlyphs">logFC</text>
<text x="351.3" y="600.4" font-size="8.8" text-anchor="middle" fill="#1e1e1e" stroke="#1e1e1e" stroke-width="0.07" textLength="17" lengthAdjust="spacingAndGlyphs">logFC</text>
<text x="219.4" y="542.1" font-size="8.6" text-anchor="middle" fill="#1e1e1e" stroke="#1e1e1e" stroke-width="0.07" transform="rotate(-90 219.4 542.1)" textLength="40.4" lengthAdjust="spacingAndGlyphs">-log<tspan font-size="5.33" baseline-shift="-1.72">10</tspan>(<tspan font-style="italic">P</tspan><tspan font-size="5.33" baseline-shift="-1.72">Value</tspan>)</text>
<text x="305.1" y="541.9" font-size="8.6" text-anchor="middle" fill="#1e1e1e" stroke="#1e1e1e" stroke-width="0.07" transform="rotate(-90 305.1 541.9)" textLength="40" lengthAdjust="spacingAndGlyphs">-log<tspan font-size="5.33" baseline-shift="-1.72">10</tspan>(<tspan font-style="italic">P</tspan><tspan font-size="5.33" baseline-shift="-1.72">Value</tspan>)</text>
<text x="392.8" y="473.2" font-size="10.9" text-anchor="start" fill="#000" font-weight="bold">K</text>
<text x="443.5" y="476.8" font-size="7.8" text-anchor="middle" fill="#1e1e1e" stroke="#1e1e1e" stroke-width="0.07" textLength="64" lengthAdjust="spacingAndGlyphs">LKS<tspan font-size="4.84" baseline-shift="3.12">−</tspan> CD34<tspan font-size="4.84" baseline-shift="3.12">+</tspan> Fc&#947;R<tspan font-size="4.84" baseline-shift="3.12">+</tspan></text>
<text x="445.3" y="485.6" font-size="7.8" text-anchor="middle" fill="#1e1e1e" stroke="#1e1e1e" stroke-width="0.07" textLength="42" lengthAdjust="spacingAndGlyphs">-derived m&#981;</text>
<line x1="414.2" y1="491.4" x2="475.5" y2="491.4" stroke="#444" stroke-width="1.2"/>
<line x1="414.4" y1="576.6" x2="443.8" y2="576.6" stroke="#555" stroke-width="1.4"/>
<line x1="445.2" y1="576.6" x2="475.6" y2="576.6" stroke="#555" stroke-width="1.4"/>
<text x="429.2" y="585.6" font-size="8" text-anchor="middle" fill="#1e1e1e" stroke="#1e1e1e" stroke-width="0.07">M</text>
<text x="460.6" y="585.6" font-size="8" text-anchor="middle" fill="#1e1e1e" stroke="#1e1e1e" stroke-width="0.07" textLength="21" lengthAdjust="spacingAndGlyphs">M+GM</text>
<rect x="414.4" y="495.4" width="9.850000000000012" height="2.6900000000000013" fill="#dcc4a4"/>
<rect x="424.2" y="495.4" width="10.150000000000023" height="2.6900000000000013" fill="#dcc8a8"/>
<rect x="434.3" y="495.4" width="10.74999999999999" height="2.6900000000000013" fill="#e8e4cc"/>
<rect x="445.0" y="495.4" width="10.55" height="2.6900000000000013" fill="#fbf2bd"/>
<rect x="455.5" y="495.4" width="10.150000000000023" height="2.6900000000000013" fill="#fdc778"/>
<rect x="465.6" y="495.4" width="10.05" height="2.6900000000000013" fill="#f67d4a"/>
<rect x="414.4" y="498.03999999999996" width="9.850000000000012" height="2.6900000000000013" fill="#c5e5f0"/>
<rect x="424.2" y="498.03999999999996" width="10.150000000000023" height="2.6900000000000013" fill="#ebf5e6"/>
<rect x="434.3" y="498.03999999999996" width="10.74999999999999" height="2.6900000000000013" fill="#9dcee3"/>
<rect x="445.0" y="498.03999999999996" width="10.55" height="2.6900000000000013" fill="#f9f7ce"/>
<rect x="455.5" y="498.03999999999996" width="10.150000000000023" height="2.6900000000000013" fill="#fba25b"/>
<rect x="465.6" y="498.03999999999996" width="10.05" height="2.6900000000000013" fill="#e24731"/>
<rect x="414.4" y="500.68" width="9.850000000000012" height="2.6900000000000013" fill="#d7eef5"/>
<rect x="424.2" y="500.68" width="10.150000000000023" height="2.6900000000000013" fill="#e9f4e9"/>
<rect x="434.3" y="500.68" width="10.74999999999999" height="2.6900000000000013" fill="#a9d8e8"/>
<rect x="445.0" y="500.68" width="10.55" height="2.6900000000000013" fill="#fbf6c7"/>
<rect x="455.5" y="500.68" width="10.150000000000023" height="2.6900000000000013" fill="#f7844d"/>
<rect x="465.6" y="500.68" width="10.05" height="2.6900000000000013" fill="#e75237"/>
<rect x="414.4" y="503.32" width="9.850000000000012" height="2.6900000000000013" fill="#aedaea"/>
<rect x="424.2" y="503.32" width="10.150000000000023" height="2.6900000000000013" fill="#bfe2ee"/>
<rect x="434.3" y="503.32" width="10.74999999999999" height="2.6900000000000013" fill="#acd9e9"/>
<rect x="445.0" y="503.32" width="10.55" height="2.6900000000000013" fill="#fbf5c5"/>
<rect x="455.5" y="503.32" width="10.150000000000023" height="2.6900000000000013" fill="#fdb265"/>
<rect x="465.6" y="503.32" width="10.05" height="2.6900000000000013" fill="#e54f35"/>
<rect x="414.4" y="505.96" width="9.850000000000012" height="2.6900000000000013" fill="#c1e4ef"/>
<rect x="424.2" y="505.96" width="10.150000000000023" height="2.6900000000000013" fill="#e4f3f0"/>
<rect x="434.3" y="505.96" width="10.74999999999999" height="2.6900000000000013" fill="#bee2ee"/>
<rect x="445.0" y="505.96" width="10.55" height="2.6900000000000013" fill="#fbf5c4"/>
<rect x="455.5" y="505.96" width="10.150000000000023" height="2.6900000000000013" fill="#fdc476"/>
<rect x="465.6" y="505.96" width="10.05" height="2.6900000000000013" fill="#e04330"/>
<rect x="414.4" y="508.59999999999997" width="9.850000000000012" height="2.6900000000000013" fill="#a6d5e6"/>
<rect x="424.2" y="508.59999999999997" width="10.150000000000023" height="2.6900000000000013" fill="#d3ecf4"/>
<rect x="434.3" y="508.59999999999997" width="10.74999999999999" height="2.6900000000000013" fill="#9acce1"/>
<rect x="445.0" y="508.59999999999997" width="10.55" height="2.6900000000000013" fill="#fbf5c5"/>
<rect x="455.5" y="508.59999999999997" width="10.150000000000023" height="2.6900000000000013" fill="#fdb76a"/>
<rect x="465.6" y="508.59999999999997" width="10.05" height="2.6900000000000013" fill="#e34b33"/>
<rect x="414.4" y="511.24" width="9.850000000000012" height="2.6900000000000013" fill="#f8f7d0"/>
<rect x="424.2" y="511.24" width="10.150000000000023" height="2.6900000000000013" fill="#edf5e2"/>
<rect x="434.3" y="511.24" width="10.74999999999999" height="2.6900000000000013" fill="#71aacf"/>
<rect x="445.0" y="511.24" width="10.55" height="2.6900000000000013" fill="#f9f7ce"/>
<rect x="455.5" y="511.24" width="10.150000000000023" height="2.6900000000000013" fill="#fba45c"/>
<rect x="465.6" y="511.24" width="10.05" height="2.6900000000000013" fill="#f46f44"/>
<rect x="414.4" y="513.88" width="9.850000000000012" height="2.6900000000000013" fill="#dbf0f6"/>
<rect x="424.2" y="513.88" width="10.150000000000023" height="2.6900000000000013" fill="#eff5de"/>
<rect x="434.3" y="513.88" width="10.74999999999999" height="2.6900000000000013" fill="#679dc9"/>
<rect x="445.0" y="513.88" width="10.55" height="2.6900000000000013" fill="#fbf6c9"/>
<rect x="455.5" y="513.88" width="10.150000000000023" height="2.6900000000000013" fill="#f89053"/>
<rect x="465.6" y="513.88" width="10.05" height="2.6900000000000013" fill="#fb9f5a"/>
<rect x="414.4" y="516.52" width="9.850000000000012" height="2.6900000000000013" fill="#ecf5e3"/>
<rect x="424.2" y="516.52" width="10.150000000000023" height="2.6900000000000013" fill="#eaf4e6"/>
<rect x="434.3" y="516.52" width="10.74999999999999" height="2.6900000000000013" fill="#6fa7ce"/>
<rect x="445.0" y="516.52" width="10.55" height="2.6900000000000013" fill="#fbf0b9"/>
<rect x="455.5" y="516.52" width="10.150000000000023" height="2.6900000000000013" fill="#f7864e"/>
<rect x="465.6" y="516.52" width="10.05" height="2.6900000000000013" fill="#fa9857"/>
<rect x="414.4" y="519.16" width="9.850000000000012" height="2.6900000000000013" fill="#e5f3ef"/>
<rect x="424.2" y="519.16" width="10.150000000000023" height="2.6900000000000013" fill="#ecf5e3"/>
<rect x="434.3" y="519.16" width="10.74999999999999" height="2.6900000000000013" fill="#78b0d2"/>
<rect x="445.0" y="519.16" width="10.55" height="2.6900000000000013" fill="#fcedb0"/>
<rect x="455.5" y="519.16" width="10.150000000000023" height="2.6900000000000013" fill="#fa9a57"/>
<rect x="465.6" y="519.16" width="10.05" height="2.6900000000000013" fill="#fa9e59"/>
<rect x="414.4" y="521.8" width="9.850000000000012" height="2.6900000000000013" fill="#e3f3f2"/>
<rect x="424.2" y="521.8" width="10.150000000000023" height="2.6900000000000013" fill="#f0f5dd"/>
<rect x="434.3" y="521.8" width="10.74999999999999" height="2.6900000000000013" fill="#7eb5d5"/>
<rect x="445.0" y="521.8" width="10.55" height="2.6900000000000013" fill="#fbf3bf"/>
<rect x="455.5" y="521.8" width="10.150000000000023" height="2.6900000000000013" fill="#f89053"/>
<rect x="465.6" y="521.8" width="10.05" height="2.6900000000000013" fill="#f57446"/>
<rect x="414.4" y="524.4399999999999" width="9.850000000000012" height="2.6900000000000013" fill="#dff2f7"/>
<rect x="424.2" y="524.4399999999999" width="10.150000000000023" height="2.6900000000000013" fill="#eef5e0"/>
<rect x="434.3" y="524.4399999999999" width="10.74999999999999" height="2.6900000000000013" fill="#689fc9"/>
<rect x="445.0" y="524.4399999999999" width="10.55" height="2.6900000000000013" fill="#fbf4c2"/>
<rect x="455.5" y="524.4399999999999" width="10.150000000000023" height="2.6900000000000013" fill="#fdb467"/>
<rect x="465.6" y="524.4399999999999" width="10.05" height="2.6900000000000013" fill="#f99254"/>
<rect x="414.4" y="527.08" width="9.850000000000012" height="2.6900000000000013" fill="#e2f3f4"/>
<rect x="424.2" y="527.08" width="10.150000000000023" height="2.6900000000000013" fill="#f5f7d4"/>
<rect x="434.3" y="527.08" width="10.74999999999999" height="2.6900000000000013" fill="#73acd0"/>
<rect x="445.0" y="527.08" width="10.55" height="2.6900000000000013" fill="#fceaaa"/>
<rect x="455.5" y="527.08" width="10.150000000000023" height="2.6900000000000013" fill="#f88a50"/>
<rect x="465.6" y="527.08" width="10.05" height="2.6900000000000013" fill="#f46e43"/>
<rect x="414.4" y="529.72" width="9.850000000000012" height="2.6900000000000013" fill="#def2f7"/>
<rect x="424.2" y="529.72" width="10.150000000000023" height="2.6900000000000013" fill="#f1f6db"/>
<rect x="434.3" y="529.72" width="10.74999999999999" height="2.6900000000000013" fill="#80b7d6"/>
<rect x="445.0" y="529.72" width="10.55" height="2.6900000000000013" fill="#fbf2be"/>
<rect x="455.5" y="529.72" width="10.150000000000023" height="2.6900000000000013" fill="#fdae61"/>
<rect x="465.6" y="529.72" width="10.05" height="2.6900000000000013" fill="#e24832"/>
<rect x="414.4" y="532.36" width="9.850000000000012" height="2.6900000000000013" fill="#d0ebf3"/>
<rect x="424.2" y="532.36" width="10.150000000000023" height="2.6900000000000013" fill="#f4f6d7"/>
<rect x="434.3" y="532.36" width="10.74999999999999" height="2.6900000000000013" fill="#99cae1"/>
<rect x="445.0" y="532.36" width="10.55" height="2.6900000000000013" fill="#fbf5c5"/>
<rect x="455.5" y="532.36" width="10.150000000000023" height="2.6900000000000013" fill="#db382a"/>
<rect x="465.6" y="532.36" width="10.05" height="2.6900000000000013" fill="#fdc375"/>
<rect x="414.4" y="535.0" width="9.850000000000012" height="2.6900000000000013" fill="#cfebf3"/>
<rect x="424.2" y="535.0" width="10.150000000000023" height="2.6900000000000013" fill="#f2f6d9"/>
<rect x="434.3" y="535.0" width="10.74999999999999" height="2.6900000000000013" fill="#90c4dd"/>
<rect x="445.0" y="535.0" width="10.55" height="2.6900000000000013" fill="#fbf4c3"/>
<rect x="455.5" y="535.0" width="10.150000000000023" height="2.6900000000000013" fill="#ed5f3c"/>
<rect x="465.6" y="535.0" width="10.05" height="2.6900000000000013" fill="#fdd585"/>
<rect x="414.4" y="537.64" width="9.850000000000012" height="2.6900000000000013" fill="#def2f7"/>
<rect x="424.2" y="537.64" width="10.150000000000023" height="2.6900000000000013" fill="#f2f6d9"/>
<rect x="434.3" y="537.64" width="10.74999999999999" height="2.6900000000000013" fill="#8bbfdb"/>
<rect x="445.0" y="537.64" width="10.55" height="2.6900000000000013" fill="#fcefb6"/>
<rect x="455.5" y="537.64" width="10.150000000000023" height="2.6900000000000013" fill="#f7864e"/>
<rect x="465.6" y="537.64" width="10.05" height="2.6900000000000013" fill="#f99656"/>
<rect x="414.4" y="540.28" width="9.850000000000012" height="2.6900000000000013" fill="#def2f7"/>
<rect x="424.2" y="540.28" width="10.150000000000023" height="2.6900000000000013" fill="#e7f4eb"/>
<rect x="434.3" y="540.28" width="10.74999999999999" height="2.6900000000000013" fill="#659bc7"/>
<rect x="445.0" y="540.28" width="10.55" height="2.6900000000000013" fill="#fbf7cb"/>
<rect x="455.5" y="540.28" width="10.150000000000023" height="2.6900000000000013" fill="#f57647"/>
<rect x="465.6" y="540.28" width="10.05" height="2.6900000000000013" fill="#fa9b58"/>
<rect x="414.4" y="542.92" width="9.850000000000012" height="2.6900000000000013" fill="#e4f3f0"/>
<rect x="424.2" y="542.92" width="10.150000000000023" height="2.6900000000000013" fill="#dff2f7"/>
<rect x="434.3" y="542.92" width="10.74999999999999" height="2.6900000000000013" fill="#8abeda"/>
<rect x="445.0" y="542.92" width="10.55" height="2.6900000000000013" fill="#fbf2bd"/>
<rect x="455.5" y="542.92" width="10.150000000000023" height="2.6900000000000013" fill="#f67c4a"/>
<rect x="465.6" y="542.92" width="10.05" height="2.6900000000000013" fill="#fdcb7c"/>
<rect x="414.4" y="545.56" width="9.850000000000012" height="2.6900000000000013" fill="#d9eff6"/>
<rect x="424.2" y="545.56" width="10.150000000000023" height="2.6900000000000013" fill="#fbf4c2"/>
<rect x="434.3" y="545.56" width="10.74999999999999" height="2.6900000000000013" fill="#a0d0e4"/>
<rect x="445.0" y="545.56" width="10.55" height="2.6900000000000013" fill="#fbf7cb"/>
<rect x="455.5" y="545.56" width="10.150000000000023" height="2.6900000000000013" fill="#f6804c"/>
<rect x="465.6" y="545.56" width="10.05" height="2.6900000000000013" fill="#fba15b"/>
<rect x="414.4" y="548.2" width="9.850000000000012" height="2.6900000000000013" fill="#f1f6db"/>
<rect x="424.2" y="548.2" width="10.150000000000023" height="2.6900000000000013" fill="#f1f6db"/>
<rect x="434.3" y="548.2" width="10.74999999999999" height="2.6900000000000013" fill="#8cc0db"/>
<rect x="445.0" y="548.2" width="10.55" height="2.6900000000000013" fill="#fceeb4"/>
<rect x="455.5" y="548.2" width="10.150000000000023" height="2.6900000000000013" fill="#f57b49"/>
<rect x="465.6" y="548.2" width="10.05" height="2.6900000000000013" fill="#f6814c"/>
<rect x="414.4" y="550.84" width="9.850000000000012" height="2.6900000000000013" fill="#bee2ee"/>
<rect x="424.2" y="550.84" width="10.150000000000023" height="2.6900000000000013" fill="#e5f4ee"/>
<rect x="434.3" y="550.84" width="10.74999999999999" height="2.6900000000000013" fill="#99cbe1"/>
<rect x="445.0" y="550.84" width="10.55" height="2.6900000000000013" fill="#fcefb6"/>
<rect x="455.5" y="550.84" width="10.150000000000023" height="2.6900000000000013" fill="#f46f44"/>
<rect x="465.6" y="550.84" width="10.05" height="2.6900000000000013" fill="#fb9f5a"/>
<rect x="414.4" y="553.48" width="9.850000000000012" height="2.6900000000000013" fill="#aad8e8"/>
<rect x="424.2" y="553.48" width="10.150000000000023" height="2.6900000000000013" fill="#e3f3f2"/>
<rect x="434.3" y="553.48" width="10.74999999999999" height="2.6900000000000013" fill="#7cb3d4"/>
<rect x="445.0" y="553.48" width="10.55" height="2.6900000000000013" fill="#fbf6c7"/>
<rect x="455.5" y="553.48" width="10.150000000000023" height="2.6900000000000013" fill="#f47044"/>
<rect x="465.6" y="553.48" width="10.05" height="2.6900000000000013" fill="#fcac60"/>
<rect x="414.4" y="556.12" width="9.850000000000012" height="2.6900000000000013" fill="#d8eff5"/>
<rect x="424.2" y="556.12" width="10.150000000000023" height="2.6900000000000013" fill="#ebf5e4"/>
<rect x="434.3" y="556.12" width="10.74999999999999" height="2.6900000000000013" fill="#82b8d7"/>
<rect x="445.0" y="556.12" width="10.55" height="2.6900000000000013" fill="#fbf3c1"/>
<rect x="455.5" y="556.12" width="10.150000000000023" height="2.6900000000000013" fill="#f47345"/>
<rect x="465.6" y="556.12" width="10.05" height="2.6900000000000013" fill="#f99555"/>
<rect x="414.4" y="558.76" width="9.850000000000012" height="2.6900000000000013" fill="#c2e4ef"/>
<rect x="424.2" y="558.76" width="10.150000000000023" height="2.6900000000000013" fill="#e8f4ea"/>
<rect x="434.3" y="558.76" width="10.74999999999999" height="2.6900000000000013" fill="#6da4cc"/>
<rect x="445.0" y="558.76" width="10.55" height="2.6900000000000013" fill="#fceeb4"/>
<rect x="455.5" y="558.76" width="10.150000000000023" height="2.6900000000000013" fill="#ef633e"/>
<rect x="465.6" y="558.76" width="10.05" height="2.6900000000000013" fill="#fca95e"/>
<rect x="414.4" y="561.4" width="9.850000000000012" height="2.6900000000000013" fill="#c2e4ef"/>
<rect x="424.2" y="561.4" width="10.150000000000023" height="2.6900000000000013" fill="#dcf1f7"/>
<rect x="434.3" y="561.4" width="10.74999999999999" height="2.6900000000000013" fill="#8dc1dc"/>
<rect x="445.0" y="561.4" width="10.55" height="2.6900000000000013" fill="#fbf3c1"/>
<rect x="455.5" y="561.4" width="10.150000000000023" height="2.6900000000000013" fill="#e95739"/>
<rect x="465.6" y="561.4" width="10.05" height="2.6900000000000013" fill="#fba15b"/>
<rect x="414.4" y="564.04" width="9.850000000000012" height="2.6900000000000013" fill="#bde1ee"/>
<rect x="424.2" y="564.04" width="10.150000000000023" height="2.6900000000000013" fill="#cbe8f2"/>
<rect x="434.3" y="564.04" width="10.74999999999999" height="2.6900000000000013" fill="#a9d7e8"/>
<rect x="445.0" y="564.04" width="10.55" height="2.6900000000000013" fill="#fbf3c1"/>
<rect x="455.5" y="564.04" width="10.150000000000023" height="2.6900000000000013" fill="#f99455"/>
<rect x="465.6" y="564.04" width="10.05" height="2.6900000000000013" fill="#fba25b"/>
<rect x="414.4" y="566.6800000000001" width="9.850000000000012" height="2.6900000000000013" fill="#aedae9"/>
<rect x="424.2" y="566.6800000000001" width="10.150000000000023" height="2.6900000000000013" fill="#fceeb4"/>
<rect x="434.3" y="566.6800000000001" width="10.74999999999999" height="2.6900000000000013" fill="#a2d2e5"/>
<rect x="445.0" y="566.6800000000001" width="10.55" height="2.6900000000000013" fill="#fbf2bd"/>
<rect x="455.5" y="566.6800000000001" width="10.150000000000023" height="2.6900000000000013" fill="#f67c4a"/>
<rect x="465.6" y="566.6800000000001" width="10.05" height="2.6900000000000013" fill="#fdc779"/>
<rect x="414.4" y="569.32" width="9.850000000000012" height="2.6900000000000013" fill="#c8e7f1"/>
<rect x="424.2" y="569.32" width="10.150000000000023" height="2.6900000000000013" fill="#d8eff5"/>
<rect x="434.3" y="569.32" width="10.74999999999999" height="2.6900000000000013" fill="#97c9e0"/>
<rect x="445.0" y="569.32" width="10.55" height="2.6900000000000013" fill="#f1f6db"/>
<rect x="455.5" y="569.32" width="10.150000000000023" height="2.6900000000000013" fill="#f7884f"/>
<rect x="465.6" y="569.32" width="10.05" height="2.6900000000000013" fill="#f88e52"/>
<rect x="414.4" y="571.96" width="9.850000000000012" height="2.6900000000000013" fill="#e5f4ee"/>
<rect x="424.2" y="571.96" width="10.150000000000023" height="2.6900000000000013" fill="#ddf1f7"/>
<rect x="434.3" y="571.96" width="10.74999999999999" height="2.6900000000000013" fill="#69a1ca"/>
<rect x="445.0" y="571.96" width="10.55" height="2.6900000000000013" fill="#fbf1bb"/>
<rect x="455.5" y="571.96" width="10.150000000000023" height="2.6900000000000013" fill="#f36c42"/>
<rect x="465.6" y="571.96" width="10.05" height="2.6900000000000013" fill="#fdb669"/>
<line x1="412.8" y1="495.2" x2="412.8" y2="574.6" stroke="#2a2a2a" stroke-width="1.4"/>
<line x1="409.187361913308" y1="495.79999999999995" x2="412" y2="495.79999999999995" stroke="#888" stroke-width="0.5"/>
<line x1="408.3381673457259" y1="497.11999999999995" x2="412" y2="497.11999999999995" stroke="#888" stroke-width="0.5"/>
<line x1="409.03937612133893" y1="498.43999999999994" x2="412" y2="498.43999999999994" stroke="#888" stroke-width="0.5"/>
<line x1="409.13103415260366" y1="499.75999999999993" x2="412" y2="499.75999999999993" stroke="#888" stroke-width="0.5"/>
<line x1="407.2807071009075" y1="501.0799999999999" x2="412" y2="501.0799999999999" stroke="#888" stroke-width="0.5"/>
<line x1="409.2379150942306" y1="502.4" x2="412" y2="502.4" stroke="#888" stroke-width="0.5"/>
<line x1="410.47662765830916" y1="503.71999999999997" x2="412" y2="503.71999999999997" stroke="#888" stroke-width="0.5"/>
<line x1="410.0792714018886" y1="505.03999999999996" x2="412" y2="505.03999999999996" stroke="#888" stroke-width="0.5"/>
<line x1="409.5487247679794" y1="506.35999999999996" x2="412" y2="506.35999999999996" stroke="#888" stroke-width="0.5"/>
<line x1="408.359527161493" y1="507.67999999999995" x2="412" y2="507.67999999999995" stroke="#888" stroke-width="0.5"/>
<line x1="409.5726335304197" y1="508.99999999999994" x2="412" y2="508.99999999999994" stroke="#888" stroke-width="0.5"/>
<line x1="409.0333350755434" y1="510.31999999999994" x2="412" y2="510.31999999999994" stroke="#888" stroke-width="0.5"/>
<line x1="408.5418287338255" y1="511.63999999999993" x2="412" y2="511.63999999999993" stroke="#888" stroke-width="0.5"/>
<line x1="409.93429510216697" y1="512.9599999999999" x2="412" y2="512.9599999999999" stroke="#888" stroke-width="0.5"/>
<line x1="407.2932377779144" y1="514.28" x2="412" y2="514.28" stroke="#888" stroke-width="0.5"/>
<line x1="409.62573562041564" y1="515.5999999999999" x2="412" y2="515.5999999999999" stroke="#888" stroke-width="0.5"/>
<line x1="407.10426440526413" y1="516.92" x2="412" y2="516.92" stroke="#888" stroke-width="0.5"/>
<line x1="409.10449842592374" y1="518.24" x2="412" y2="518.24" stroke="#888" stroke-width="0.5"/>
<line x1="408.68334885372235" y1="519.56" x2="412" y2="519.56" stroke="#888" stroke-width="0.5"/>
<line x1="407.8057757530427" y1="520.88" x2="412" y2="520.88" stroke="#888" stroke-width="0.5"/>
<line x1="409.44417137947005" y1="522.1999999999999" x2="412" y2="522.1999999999999" stroke="#888" stroke-width="0.5"/>
<line x1="408.74037702180306" y1="523.52" x2="412" y2="523.52" stroke="#888" stroke-width="0.5"/>
<line x1="409.1507614166324" y1="524.8399999999999" x2="412" y2="524.8399999999999" stroke="#888" stroke-width="0.5"/>
<line x1="410.22162495704026" y1="526.16" x2="412" y2="526.16" stroke="#888" stroke-width="0.5"/>
<line x1="407.89540577037235" y1="527.4799999999999" x2="412" y2="527.4799999999999" stroke="#888" stroke-width="0.5"/>
<line x1="407.03957521757354" y1="528.8" x2="412" y2="528.8" stroke="#888" stroke-width="0.5"/>
<line x1="408.0536142438745" y1="530.12" x2="412" y2="530.12" stroke="#888" stroke-width="0.5"/>
<line x1="409.3734794269588" y1="531.4399999999999" x2="412" y2="531.4399999999999" stroke="#888" stroke-width="0.5"/>
<line x1="407.70901044692386" y1="532.76" x2="412" y2="532.76" stroke="#888" stroke-width="0.5"/>
<line x1="407.5936250361666" y1="534.0799999999999" x2="412" y2="534.0799999999999" stroke="#888" stroke-width="0.5"/>
<line x1="410.17002559973923" y1="535.4" x2="412" y2="535.4" stroke="#888" stroke-width="0.5"/>
<line x1="409.3099650163655" y1="536.7199999999999" x2="412" y2="536.7199999999999" stroke="#888" stroke-width="0.5"/>
<line x1="408.5467636826939" y1="538.04" x2="412" y2="538.04" stroke="#888" stroke-width="0.5"/>
<line x1="410.1210442211121" y1="539.3599999999999" x2="412" y2="539.3599999999999" stroke="#888" stroke-width="0.5"/>
<line x1="408.1443621659029" y1="540.68" x2="412" y2="540.68" stroke="#888" stroke-width="0.5"/>
<line x1="409.33064671886785" y1="542.0" x2="412" y2="542.0" stroke="#888" stroke-width="0.5"/>
<line x1="407.6947702260286" y1="543.3199999999999" x2="412" y2="543.3199999999999" stroke="#888" stroke-width="0.5"/>
<line x1="408.5081334882453" y1="544.64" x2="412" y2="544.64" stroke="#888" stroke-width="0.5"/>
<line x1="409.8209593977124" y1="545.9599999999999" x2="412" y2="545.9599999999999" stroke="#888" stroke-width="0.5"/>
<line x1="410.1997741960065" y1="547.28" x2="412" y2="547.28" stroke="#888" stroke-width="0.5"/>
<line x1="410.08094121329236" y1="548.5999999999999" x2="412" y2="548.5999999999999" stroke="#888" stroke-width="0.5"/>
<line x1="408.3454653901497" y1="549.92" x2="412" y2="549.92" stroke="#888" stroke-width="0.5"/>
<line x1="409.04087515713877" y1="551.24" x2="412" y2="551.24" stroke="#888" stroke-width="0.5"/>
<line x1="408.1077039557295" y1="552.56" x2="412" y2="552.56" stroke="#888" stroke-width="0.5"/>
<line x1="407.4766171423415" y1="553.88" x2="412" y2="553.88" stroke="#888" stroke-width="0.5"/>
<line x1="408.7376346456081" y1="555.1999999999999" x2="412" y2="555.1999999999999" stroke="#888" stroke-width="0.5"/>
<line x1="409.9298346611469" y1="556.52" x2="412" y2="556.52" stroke="#888" stroke-width="0.5"/>
<line x1="409.97052106739585" y1="557.8399999999999" x2="412" y2="557.8399999999999" stroke="#888" stroke-width="0.5"/>
<line x1="409.48926216531163" y1="559.16" x2="412" y2="559.16" stroke="#888" stroke-width="0.5"/>
<line x1="410.3250005314593" y1="560.4799999999999" x2="412" y2="560.4799999999999" stroke="#888" stroke-width="0.5"/>
<line x1="407.96878598910945" y1="561.8" x2="412" y2="561.8" stroke="#888" stroke-width="0.5"/>
<line x1="407.591951186917" y1="563.12" x2="412" y2="563.12" stroke="#888" stroke-width="0.5"/>
<line x1="408.5772730793784" y1="564.4399999999999" x2="412" y2="564.4399999999999" stroke="#888" stroke-width="0.5"/>
<line x1="407.96306988030716" y1="565.76" x2="412" y2="565.76" stroke="#888" stroke-width="0.5"/>
<line x1="407.74928132003646" y1="567.0799999999999" x2="412" y2="567.0799999999999" stroke="#888" stroke-width="0.5"/>
<line x1="408.4489468026081" y1="568.4" x2="412" y2="568.4" stroke="#888" stroke-width="0.5"/>
<line x1="409.1900674538308" y1="569.7199999999999" x2="412" y2="569.7199999999999" stroke="#888" stroke-width="0.5"/>
<line x1="408.72856378445414" y1="571.04" x2="412" y2="571.04" stroke="#888" stroke-width="0.5"/>
<line x1="408.10380075877134" y1="572.36" x2="412" y2="572.36" stroke="#888" stroke-width="0.5"/>
<line x1="409.9369144435723" y1="573.68" x2="412" y2="573.68" stroke="#888" stroke-width="0.5"/>
<line x1="410.8" y1="495.2" x2="410.8" y2="574.6" stroke="#666" stroke-width="0.6"/>
<path d="M410 496.2 H405.6 V523 H410" fill="none" stroke="#888" stroke-width="0.6"/>
<defs><linearGradient id="cb" x1="0" y1="0" x2="0" y2="1"><stop offset="0.00" stop-color="#b41b20"/><stop offset="0.05" stop-color="#c62524"/><stop offset="0.10" stop-color="#d83228"/><stop offset="0.15" stop-color="#e54e34"/><stop offset="0.20" stop-color="#f26941"/><stop offset="0.25" stop-color="#f7874f"/><stop offset="0.30" stop-color="#fba55c"/><stop offset="0.35" stop-color="#fdbd6f"/><stop offset="0.40" stop-color="#fdd485"/><stop offset="0.45" stop-color="#fde59d"/><stop offset="0.50" stop-color="#fbf0b9"/><stop offset="0.55" stop-color="#f3f6d8"/><stop offset="0.60" stop-color="#d8eff6"/><stop offset="0.65" stop-color="#b8dfec"/><stop offset="0.70" stop-color="#9fcfe3"/><stop offset="0.75" stop-color="#8bbfdb"/><stop offset="0.80" stop-color="#77afd2"/><stop offset="0.85" stop-color="#659bc8"/><stop offset="0.90" stop-color="#5487bd"/><stop offset="0.95" stop-color="#4474b3"/><stop offset="1.00" stop-color="#3a6dae"/></linearGradient></defs>
<rect x="480.8" y="495.8" width="3.6" height="34.6" fill="url(#cb)"/>
<text x="485.8" y="506.8" font-size="6.8" text-anchor="start" fill="#1e1e1e" stroke="#1e1e1e" stroke-width="0.07">1</text>
<text x="485.8" y="516.4" font-size="6.8" text-anchor="start" fill="#1e1e1e" stroke="#1e1e1e" stroke-width="0.07">0</text>
<text x="485.0" y="524.8" font-size="6.8" text-anchor="start" fill="#1e1e1e" stroke="#1e1e1e" stroke-width="0.07">−1</text>
<text x="494.3" y="512.4" font-size="6.6" text-anchor="middle" fill="#1e1e1e" stroke="#1e1e1e" stroke-width="0.07" transform="rotate(90 494.3 512.4)" textLength="20.6" lengthAdjust="spacingAndGlyphs">z-score</text>
<rect x="0.5" y="0.5" width="519" height="612" fill="none" stroke="#5e5e5e" stroke-width="1"/>
</svg>
</body></html>
